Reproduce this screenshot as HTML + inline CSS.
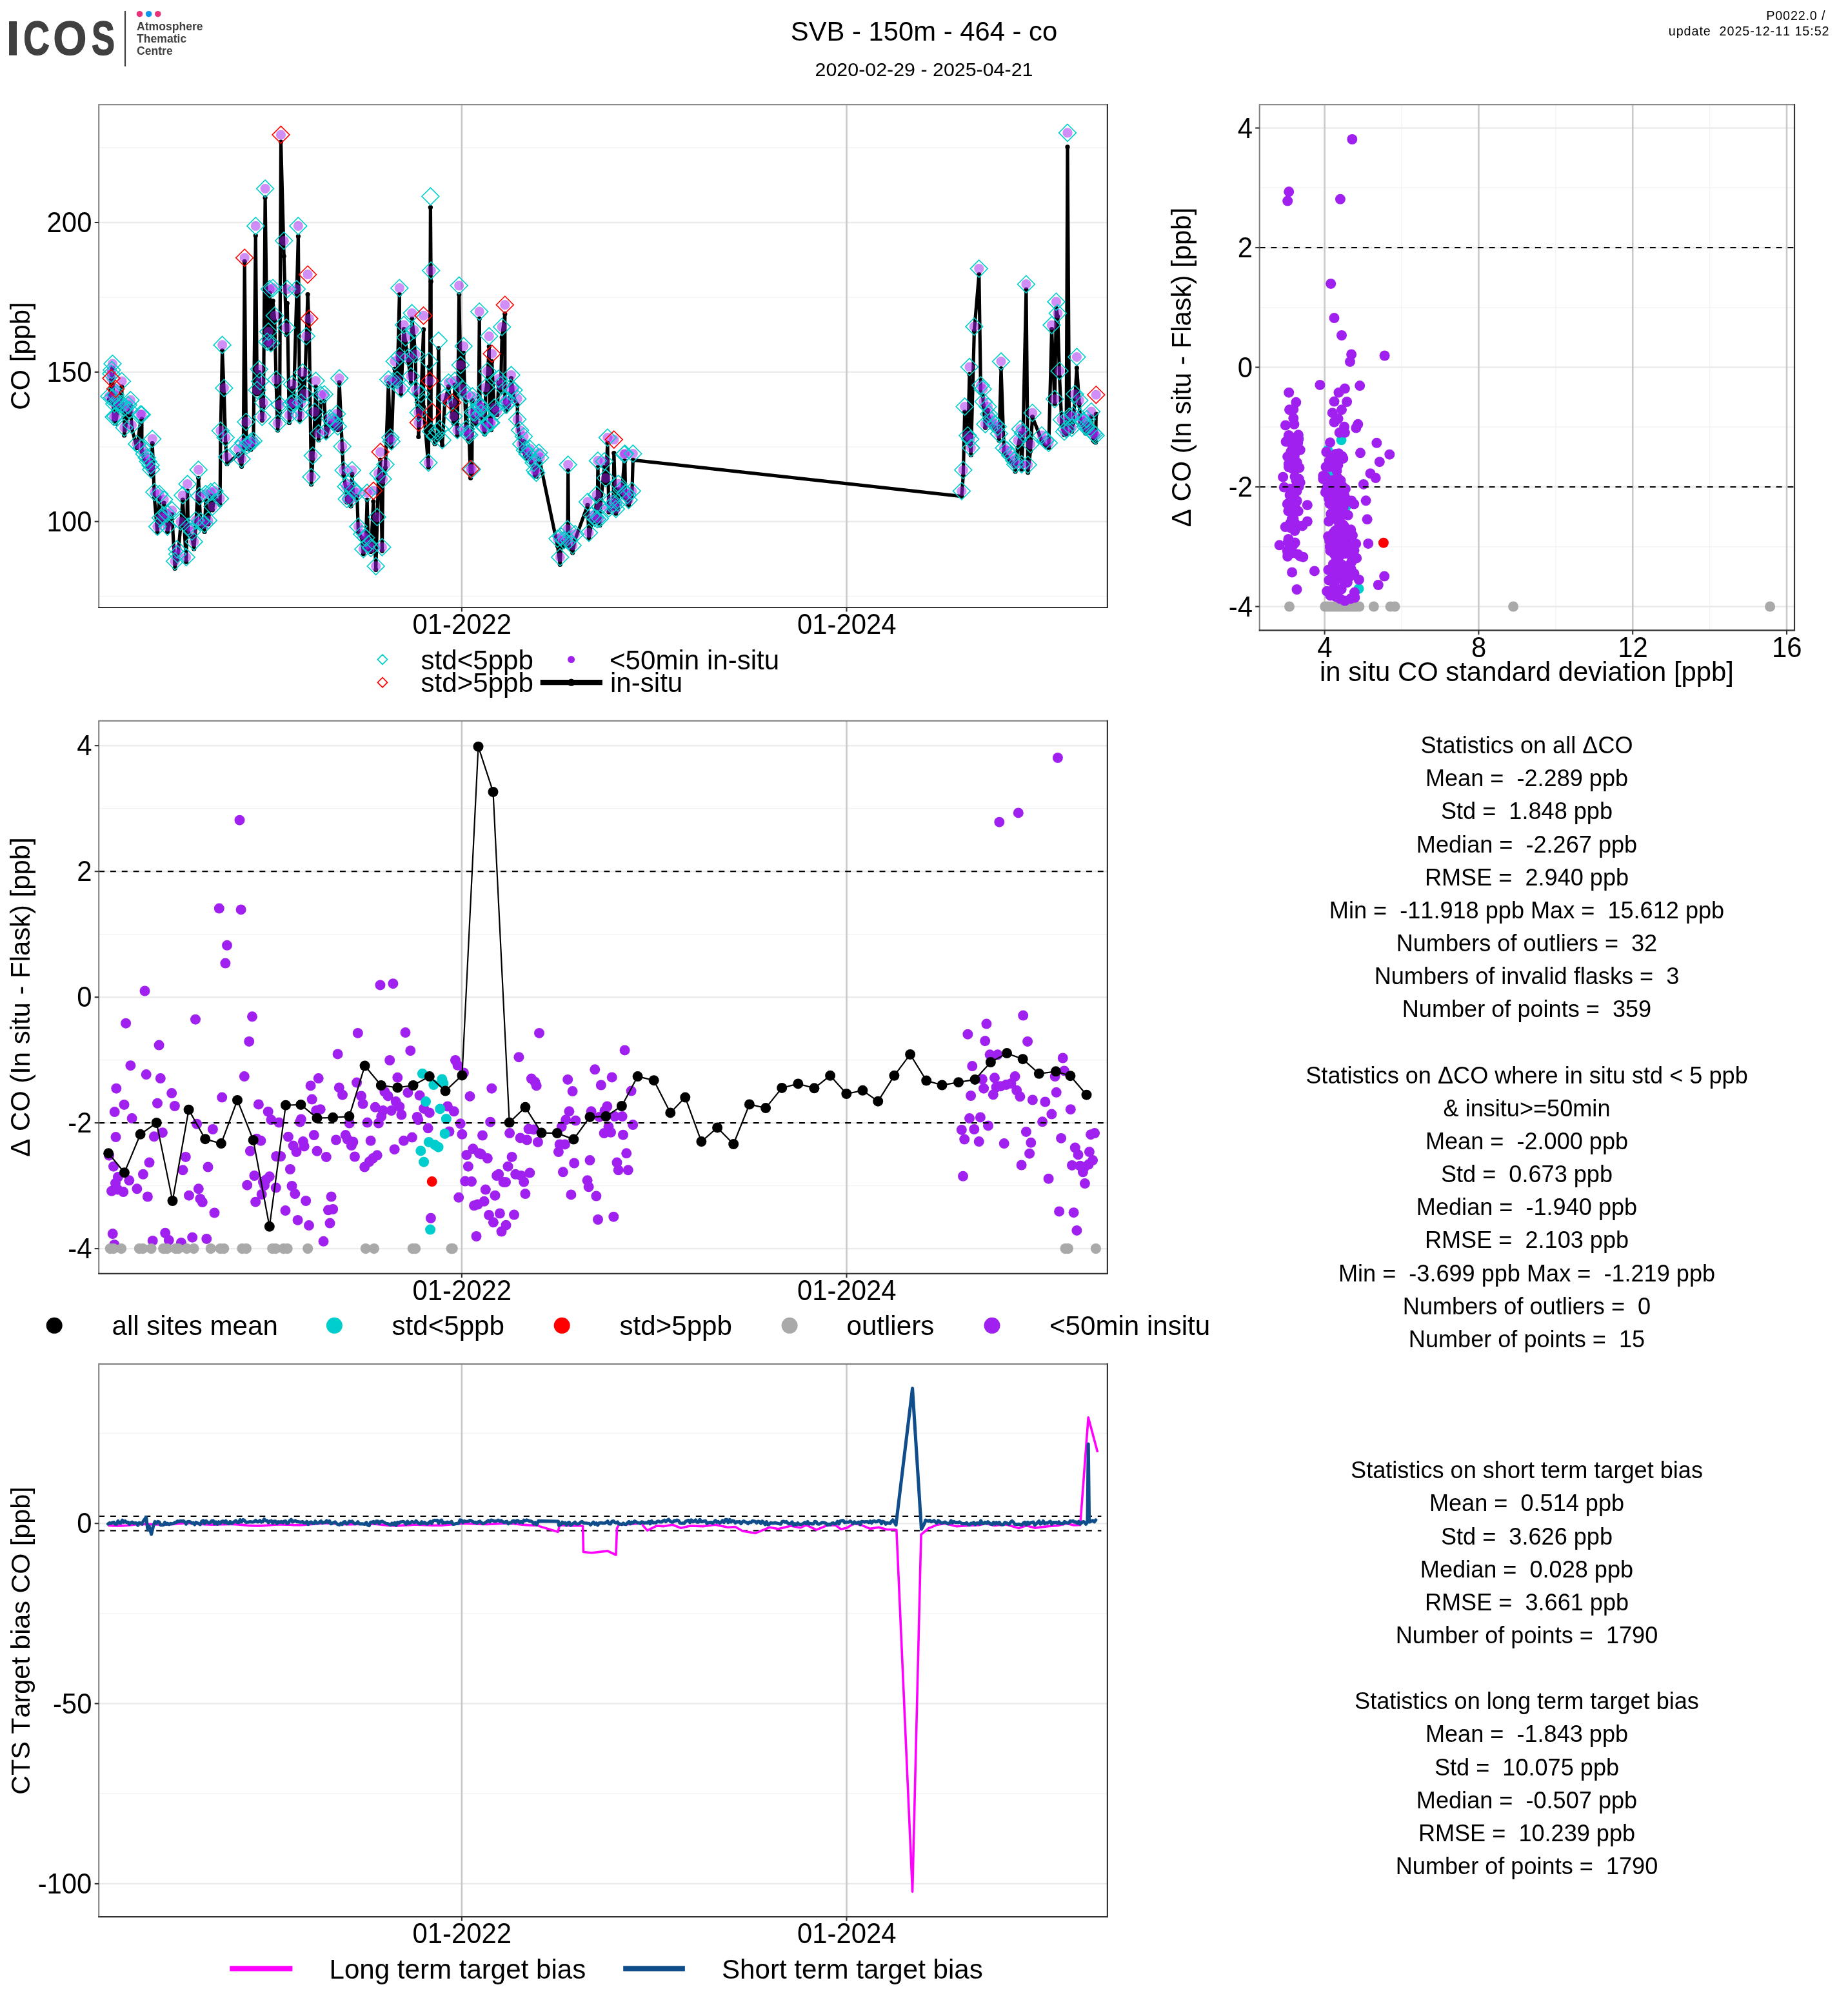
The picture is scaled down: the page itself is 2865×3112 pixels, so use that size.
<!DOCTYPE html>
<html><head><meta charset="utf-8"><title>SVB - 150m - 464 - co</title>
<style>html,body{margin:0;padding:0;background:#fff}svg{display:block;will-change:transform}text{font-kerning:none}</style></head>
<body>
<svg width="2865" height="3112" viewBox="0 0 2865 3112" font-family="Liberation Sans, sans-serif">
<rect width="2865" height="3112" fill="#fff"/>
<g id="logo">
<text transform="translate(10.04,85.2) scale(0.977,1)" font-size="74" font-weight="bold" fill="#404041" stroke="#404041" stroke-width="1.6">I</text>
<text transform="translate(36.2,85.2) scale(0.759,1)" font-size="74" font-weight="bold" fill="#404041" stroke="#404041" stroke-width="1.6">C</text>
<text transform="translate(82.4,85.2) scale(0.899,1)" font-size="74" font-weight="bold" fill="#404041" stroke="#404041" stroke-width="1.6">O</text>
<text transform="translate(141.9,85.2) scale(0.731,1)" font-size="74" font-weight="bold" fill="#404041" stroke="#404041" stroke-width="1.6">S</text>
<line x1="194.0" y1="17.0" x2="194.0" y2="103.0" stroke="#404041" stroke-width="2.2" />
<circle cx="216.5" cy="21.7" r="4.8" fill="#e6317b"/>
<circle cx="230.6" cy="21.7" r="4.8" fill="#0a96f0"/>
<circle cx="244.8" cy="21.7" r="4.8" fill="#e6317b"/>
<text x="212" y="47.3" font-size="17.6" font-weight="bold" fill="#404041">Atmosphere</text>
<text x="212" y="66.3" font-size="17.6" font-weight="bold" fill="#404041">Thematic</text>
<text x="212" y="85.3" font-size="17.6" font-weight="bold" fill="#404041">Centre</text>
</g>
<text x="1432.5" y="62.5" font-size="41.8" text-anchor="middle" fill="#000" >SVB - 150m - 464 - co</text>
<text x="1432.5" y="118.0" font-size="30.4" text-anchor="middle" fill="#000" >2020-02-29 - 2025-04-21</text>
<text x="2836.5" y="31.0" font-size="19.8" text-anchor="end" fill="#000" xml:space="preserve" letter-spacing="0.8">P0022.0 / </text>
<text x="2836.5" y="54.8" font-size="19.8" text-anchor="end" fill="#000" xml:space="preserve" letter-spacing="0.92">update  2025-12-11 15:52</text>
<line x1="153.2" y1="924.6" x2="1716.9" y2="924.6" stroke="#f2f2f2" stroke-width="1.3" />
<line x1="153.2" y1="692.8" x2="1716.9" y2="692.8" stroke="#f2f2f2" stroke-width="1.3" />
<line x1="153.2" y1="460.9" x2="1716.9" y2="460.9" stroke="#f2f2f2" stroke-width="1.3" />
<line x1="153.2" y1="229.1" x2="1716.9" y2="229.1" stroke="#f2f2f2" stroke-width="1.3" />
<line x1="153.2" y1="808.7" x2="1716.9" y2="808.7" stroke="#ebebeb" stroke-width="2.4" />
<line x1="153.2" y1="576.9" x2="1716.9" y2="576.9" stroke="#ebebeb" stroke-width="2.4" />
<line x1="153.2" y1="345.0" x2="1716.9" y2="345.0" stroke="#ebebeb" stroke-width="2.4" />
<line x1="715.9" y1="162.2" x2="715.9" y2="942.0" stroke="#c9c9c9" stroke-width="2.6" />
<line x1="1312.5" y1="162.2" x2="1312.5" y2="942.0" stroke="#c9c9c9" stroke-width="2.6" />
<g id="p1data">
<path d="M169.4,619.8 L172.5,589.1 L172.5,604.1 L173.3,579.8 L174.1,624.5 L174.5,571.3 L176.4,652.3 L177.2,631.8 L179.1,613.7 L179.1,618.1 L179.1,656.4 L183.0,632.2 L188.9,599.8 L188.9,632.8 L192.7,641.4 L192.7,674.9 L198.6,639.8 L200.5,643.7 L202.4,629.4 L204.4,664.5 L212.2,694.4 L218.0,653.5 L219.9,649.9 L219.9,700.0 L223.8,714.6 L227.7,716.0 L229.6,724.6 L233.5,730.9 L234.3,735.6 L236.2,687.7 L239.4,771.8 L244.0,825.7 L247.1,771.5 L249.1,810.2 L253.0,807.1 L254.1,780.0 L258.8,806.1 L259.6,824.7 L266.6,797.8 L271.2,881.3 L274.3,861.9 L275.1,868.3 L280.1,815.5 L283.3,775.1 L288.7,871.2 L290.6,761.1 L291.8,825.6 L297.6,833.0 L300.7,851.0 L303.5,817.0 L307.7,741.4 L309.3,777.1 L311.2,815.8 L317.1,824.5 L319.0,776.4 L322.9,812.7 L326.8,769.0 L329.5,790.8 L332.6,769.8 L341.1,782.7 L341.9,676.8 L344.6,543.9 L347.4,610.9 L349.7,686.8 L352.0,719.4 L369.5,704.4 L374.6,723.3 L377.3,696.1 L379.2,405.7 L381.5,664.9 L383.1,695.7 L387.0,697.5 L388.9,697.2 L392.8,693.2 L396.3,365.4 L398.6,611.0 L401.7,577.7 L403.3,599.5 L406.4,651.8 L408.4,630.1 L411.1,306.5 L414.2,535.4 L416.1,525.4 L418.1,454.2 L420.0,540.3 L423.1,466.7 L425.8,497.2 L428.2,597.4 L430.5,667.2 L433.6,638.5 L435.5,220.0 L440.2,397.3 L444.1,519.3 L445.3,470.3 L448.4,655.4 L451.1,632.8 L453.0,602.0 L455.0,630.5 L460.0,454.9 L462.4,366.4 L464.7,651.6 L466.6,629.3 L469.3,586.8 L471.7,617.5 L474.8,529.9 L477.1,456.7 L479.4,511.1 L482.6,750.9 L484.9,712.0 L488.0,648.4 L489.5,599.8 L493.8,682.5 L497.7,623.7 L502.8,622.0 L505.5,676.7 L511.3,656.5 L515.2,659.1 L519.1,664.8 L522.2,647.2 L523.7,666.6 L526.1,593.0 L530.7,698.4 L532.7,736.5 L536.6,759.8 L537.7,778.8 L540.0,756.2 L543.9,785.0 L545.8,735.2 L547.8,767.8 L553.6,769.3 L555.5,825.9 L561.4,834.3 L563.3,859.0 L567.2,840.8 L569.1,775.1 L571.1,851.3 L575.0,855.4 L578.9,777.5 L582.7,883.5 L584.7,810.2 L586.6,741.6 L589.7,713.1 L592.4,854.1 L593.6,749.6 L597.5,725.4 L602.2,594.5 L605.3,690.3 L606.8,693.2 L609.9,600.0 L611.9,572.0 L615.8,594.5 L619.3,456.6 L619.6,563.4 L621.6,611.6 L626.2,510.7 L628.6,530.8 L633.2,560.5 L637.1,593.9 L638.7,494.3 L641.8,522.0 L644.1,556.6 L644.9,611.4 L648.8,650.5 L648.8,677.3 L652.7,620.8 L656.6,510.9 L656.6,630.8 L664.3,724.3 L665.1,568.8 L666.3,600.9 L667.4,321.5 L668.2,436.5 L668.2,677.1 L670.1,662.0 L674.0,688.3 L677.9,680.9 L679.9,540.3 L681.8,676.7 L685.7,690.1 L689.6,623.1 L695.4,599.6 L701.2,646.9 L703.2,656.5 L705.1,596.9 L709.0,675.3 L711.7,456.8 L714.0,571.6 L716.8,612.5 L718.7,547.4 L722.6,675.0 L722.6,624.0 L725.7,683.3 L727.4,685.3 L729.6,741.2 L731.6,733.2 L732.3,620.8 L733.0,649.0 L736.2,650.3 L738.1,656.8 L742.0,638.0 L743.2,494.2 L744.2,639.7 L745.6,646.1 L745.9,639.8 L751.2,673.0 L751.7,673.2 L752.9,608.8 L755.6,587.3 L758.3,537.3 L759.5,661.3 L761.4,666.7 L762.6,560.6 L766.5,642.7 L770.7,643.1 L773.1,593.4 L776.2,607.8 L778.2,522.9 L782.8,486.7 L782.8,629.2 L784.6,637.7 L788.6,628.2 L791.6,609.4 L792.5,586.6 L796.4,616.6 L802.2,628.0 L802.2,659.0 L806.1,678.5 L808.1,699.5 L812.0,684.7 L813.9,708.9 L817.8,710.4 L821.7,702.9 L823.6,716.8 L827.5,724.2 L829.4,737.1 L831.4,739.0 L835.3,711.1 L837.2,716.5 L864.4,846.6 L868.3,875.3 L870.2,839.6 L874.1,846.1 L879.9,829.5 L880.7,729.6 L881.9,845.9 L887.7,857.1 L891.6,836.7 L911.0,783.4 L913.0,834.7 L917.9,807.2 L921.9,809.4 L924.9,773.5 L925.9,810.2 L926.9,724.5 L929.9,814.7 L929.9,794.5 L936.9,724.3 L938.9,748.6 L941.9,687.2 L943.9,793.9 L947.8,784.2 L950.8,788.0 L951.8,702.5 L954.8,796.1 L957.8,789.6 L958.8,758.9 L963.8,768.2 L967.8,714.8 L968.8,714.9 L969.8,772.4 L972.8,776.5 L974.7,783.8 L979.7,769.9 L981.3,713.3 L1490.9,769.6 L1493.3,737.6 L1495.6,638.8 L1500.3,686.8 L1503.0,580.6 L1504.2,690.9 L1505.3,705.7 L1510.4,513.2 L1517.8,425.5 L1520.5,609.0 L1523.6,614.1 L1524.8,628.6 L1527.5,663.2 L1531.4,636.3 L1533.3,650.2 L1537.2,658.5 L1541.9,663.2 L1546.9,671.2 L1548.9,682.9 L1552.0,571.7 L1556.6,700.7 L1561.3,708.5 L1566.4,715.9 L1572.2,720.0 L1574.1,731.1 L1578.0,694.7 L1581.9,672.0 L1583.9,727.7 L1585.8,682.9 L1590.9,449.1 L1593.6,732.6 L1597.5,699.6 L1600.6,646.3 L1615.0,683.2 L1620.8,691.5 L1625.8,694.2 L1630.5,510.5 L1635.2,626.0 L1637.5,478.0 L1639.8,491.0 L1642.6,584.1 L1646.1,658.8 L1650.0,674.5 L1653.1,672.8 L1655.0,227.9 L1657.7,654.6 L1661.6,668.9 L1663.6,656.0 L1666.3,621.5 L1669.4,570.5 L1673.3,626.5 L1675.2,654.8 L1679.1,659.1 L1683.0,672.0 L1684.9,656.8 L1688.8,671.4 L1691.9,646.2 L1694.7,682.7 L1696.6,684.7 L1698.6,685.9 L1699.3,642.2" fill="none" stroke="#000" stroke-width="5.2" stroke-linejoin="round" stroke-linecap="round"/>
<g fill="#000">
<circle cx="169.4" cy="619.8" r="3.6"/>
<circle cx="172.5" cy="589.1" r="3.6"/>
<circle cx="172.5" cy="604.1" r="3.6"/>
<circle cx="173.3" cy="579.8" r="3.6"/>
<circle cx="174.1" cy="624.5" r="3.6"/>
<circle cx="174.5" cy="571.3" r="3.6"/>
<circle cx="176.4" cy="652.3" r="3.6"/>
<circle cx="177.2" cy="631.8" r="3.6"/>
<circle cx="179.1" cy="613.7" r="3.6"/>
<circle cx="179.1" cy="618.1" r="3.6"/>
<circle cx="179.1" cy="656.4" r="3.6"/>
<circle cx="183.0" cy="632.2" r="3.6"/>
<circle cx="188.9" cy="599.8" r="3.6"/>
<circle cx="188.9" cy="632.8" r="3.6"/>
<circle cx="192.7" cy="641.4" r="3.6"/>
<circle cx="192.7" cy="674.9" r="3.6"/>
<circle cx="198.6" cy="639.8" r="3.6"/>
<circle cx="200.5" cy="643.7" r="3.6"/>
<circle cx="202.4" cy="629.4" r="3.6"/>
<circle cx="204.4" cy="664.5" r="3.6"/>
<circle cx="212.2" cy="694.4" r="3.6"/>
<circle cx="218.0" cy="653.5" r="3.6"/>
<circle cx="219.9" cy="649.9" r="3.6"/>
<circle cx="219.9" cy="700.0" r="3.6"/>
<circle cx="223.8" cy="714.6" r="3.6"/>
<circle cx="227.7" cy="716.0" r="3.6"/>
<circle cx="229.6" cy="724.6" r="3.6"/>
<circle cx="233.5" cy="730.9" r="3.6"/>
<circle cx="234.3" cy="735.6" r="3.6"/>
<circle cx="236.2" cy="687.7" r="3.6"/>
<circle cx="239.4" cy="771.8" r="3.6"/>
<circle cx="244.0" cy="825.7" r="3.6"/>
<circle cx="247.1" cy="771.5" r="3.6"/>
<circle cx="249.1" cy="810.2" r="3.6"/>
<circle cx="253.0" cy="807.1" r="3.6"/>
<circle cx="254.1" cy="780.0" r="3.6"/>
<circle cx="258.8" cy="806.1" r="3.6"/>
<circle cx="259.6" cy="824.7" r="3.6"/>
<circle cx="266.6" cy="797.8" r="3.6"/>
<circle cx="271.2" cy="881.3" r="3.6"/>
<circle cx="274.3" cy="861.9" r="3.6"/>
<circle cx="275.1" cy="868.3" r="3.6"/>
<circle cx="280.1" cy="815.5" r="3.6"/>
<circle cx="283.3" cy="775.1" r="3.6"/>
<circle cx="288.7" cy="871.2" r="3.6"/>
<circle cx="290.6" cy="761.1" r="3.6"/>
<circle cx="291.8" cy="825.6" r="3.6"/>
<circle cx="297.6" cy="833.0" r="3.6"/>
<circle cx="300.7" cy="851.0" r="3.6"/>
<circle cx="303.5" cy="817.0" r="3.6"/>
<circle cx="307.7" cy="741.4" r="3.6"/>
<circle cx="309.3" cy="777.1" r="3.6"/>
<circle cx="311.2" cy="815.8" r="3.6"/>
<circle cx="317.1" cy="824.5" r="3.6"/>
<circle cx="319.0" cy="776.4" r="3.6"/>
<circle cx="322.9" cy="812.7" r="3.6"/>
<circle cx="326.8" cy="769.0" r="3.6"/>
<circle cx="329.5" cy="790.8" r="3.6"/>
<circle cx="332.6" cy="769.8" r="3.6"/>
<circle cx="341.1" cy="782.7" r="3.6"/>
<circle cx="341.9" cy="676.8" r="3.6"/>
<circle cx="344.6" cy="543.9" r="3.6"/>
<circle cx="347.4" cy="610.9" r="3.6"/>
<circle cx="349.7" cy="686.8" r="3.6"/>
<circle cx="352.0" cy="719.4" r="3.6"/>
<circle cx="369.5" cy="704.4" r="3.6"/>
<circle cx="374.6" cy="723.3" r="3.6"/>
<circle cx="377.3" cy="696.1" r="3.6"/>
<circle cx="379.2" cy="405.7" r="3.6"/>
<circle cx="381.5" cy="664.9" r="3.6"/>
<circle cx="383.1" cy="695.7" r="3.6"/>
<circle cx="387.0" cy="697.5" r="3.6"/>
<circle cx="388.9" cy="697.2" r="3.6"/>
<circle cx="392.8" cy="693.2" r="3.6"/>
<circle cx="396.3" cy="365.4" r="3.6"/>
<circle cx="398.6" cy="611.0" r="3.6"/>
<circle cx="401.7" cy="577.7" r="3.6"/>
<circle cx="403.3" cy="599.5" r="3.6"/>
<circle cx="406.4" cy="651.8" r="3.6"/>
<circle cx="408.4" cy="630.1" r="3.6"/>
<circle cx="411.1" cy="306.5" r="3.6"/>
<circle cx="414.2" cy="535.4" r="3.6"/>
<circle cx="416.1" cy="525.4" r="3.6"/>
<circle cx="418.1" cy="454.2" r="3.6"/>
<circle cx="420.0" cy="540.3" r="3.6"/>
<circle cx="423.1" cy="466.7" r="3.6"/>
<circle cx="425.8" cy="497.2" r="3.6"/>
<circle cx="428.2" cy="597.4" r="3.6"/>
<circle cx="430.5" cy="667.2" r="3.6"/>
<circle cx="433.6" cy="638.5" r="3.6"/>
<circle cx="435.5" cy="220.0" r="3.6"/>
<circle cx="440.2" cy="397.3" r="3.6"/>
<circle cx="444.1" cy="519.3" r="3.6"/>
<circle cx="445.3" cy="470.3" r="3.6"/>
<circle cx="448.4" cy="655.4" r="3.6"/>
<circle cx="451.1" cy="632.8" r="3.6"/>
<circle cx="453.0" cy="602.0" r="3.6"/>
<circle cx="455.0" cy="630.5" r="3.6"/>
<circle cx="460.0" cy="454.9" r="3.6"/>
<circle cx="462.4" cy="366.4" r="3.6"/>
<circle cx="464.7" cy="651.6" r="3.6"/>
<circle cx="466.6" cy="629.3" r="3.6"/>
<circle cx="469.3" cy="586.8" r="3.6"/>
<circle cx="471.7" cy="617.5" r="3.6"/>
<circle cx="474.8" cy="529.9" r="3.6"/>
<circle cx="477.1" cy="456.7" r="3.6"/>
<circle cx="479.4" cy="511.1" r="3.6"/>
<circle cx="482.6" cy="750.9" r="3.6"/>
<circle cx="484.9" cy="712.0" r="3.6"/>
<circle cx="488.0" cy="648.4" r="3.6"/>
<circle cx="489.5" cy="599.8" r="3.6"/>
<circle cx="493.8" cy="682.5" r="3.6"/>
<circle cx="497.7" cy="623.7" r="3.6"/>
<circle cx="502.8" cy="622.0" r="3.6"/>
<circle cx="505.5" cy="676.7" r="3.6"/>
<circle cx="511.3" cy="656.5" r="3.6"/>
<circle cx="515.2" cy="659.1" r="3.6"/>
<circle cx="519.1" cy="664.8" r="3.6"/>
<circle cx="522.2" cy="647.2" r="3.6"/>
<circle cx="523.7" cy="666.6" r="3.6"/>
<circle cx="526.1" cy="593.0" r="3.6"/>
<circle cx="530.7" cy="698.4" r="3.6"/>
<circle cx="532.7" cy="736.5" r="3.6"/>
<circle cx="536.6" cy="759.8" r="3.6"/>
<circle cx="537.7" cy="778.8" r="3.6"/>
<circle cx="540.0" cy="756.2" r="3.6"/>
<circle cx="543.9" cy="785.0" r="3.6"/>
<circle cx="545.8" cy="735.2" r="3.6"/>
<circle cx="547.8" cy="767.8" r="3.6"/>
<circle cx="553.6" cy="769.3" r="3.6"/>
<circle cx="555.5" cy="825.9" r="3.6"/>
<circle cx="561.4" cy="834.3" r="3.6"/>
<circle cx="563.3" cy="859.0" r="3.6"/>
<circle cx="567.2" cy="840.8" r="3.6"/>
<circle cx="569.1" cy="775.1" r="3.6"/>
<circle cx="571.1" cy="851.3" r="3.6"/>
<circle cx="575.0" cy="855.4" r="3.6"/>
<circle cx="578.9" cy="777.5" r="3.6"/>
<circle cx="582.7" cy="883.5" r="3.6"/>
<circle cx="584.7" cy="810.2" r="3.6"/>
<circle cx="586.6" cy="741.6" r="3.6"/>
<circle cx="589.7" cy="713.1" r="3.6"/>
<circle cx="592.4" cy="854.1" r="3.6"/>
<circle cx="593.6" cy="749.6" r="3.6"/>
<circle cx="597.5" cy="725.4" r="3.6"/>
<circle cx="602.2" cy="594.5" r="3.6"/>
<circle cx="605.3" cy="690.3" r="3.6"/>
<circle cx="606.8" cy="693.2" r="3.6"/>
<circle cx="609.9" cy="600.0" r="3.6"/>
<circle cx="611.9" cy="572.0" r="3.6"/>
<circle cx="615.8" cy="594.5" r="3.6"/>
<circle cx="619.3" cy="456.6" r="3.6"/>
<circle cx="619.6" cy="563.4" r="3.6"/>
<circle cx="621.6" cy="611.6" r="3.6"/>
<circle cx="626.2" cy="510.7" r="3.6"/>
<circle cx="628.6" cy="530.8" r="3.6"/>
<circle cx="633.2" cy="560.5" r="3.6"/>
<circle cx="637.1" cy="593.9" r="3.6"/>
<circle cx="638.7" cy="494.3" r="3.6"/>
<circle cx="641.8" cy="522.0" r="3.6"/>
<circle cx="644.1" cy="556.6" r="3.6"/>
<circle cx="644.9" cy="611.4" r="3.6"/>
<circle cx="648.8" cy="650.5" r="3.6"/>
<circle cx="648.8" cy="677.3" r="3.6"/>
<circle cx="652.7" cy="620.8" r="3.6"/>
<circle cx="656.6" cy="510.9" r="3.6"/>
<circle cx="656.6" cy="630.8" r="3.6"/>
<circle cx="664.3" cy="724.3" r="3.6"/>
<circle cx="665.1" cy="568.8" r="3.6"/>
<circle cx="666.3" cy="600.9" r="3.6"/>
<circle cx="667.4" cy="321.5" r="3.6"/>
<circle cx="668.2" cy="436.5" r="3.6"/>
<circle cx="668.2" cy="677.1" r="3.6"/>
<circle cx="670.1" cy="662.0" r="3.6"/>
<circle cx="674.0" cy="688.3" r="3.6"/>
<circle cx="677.9" cy="680.9" r="3.6"/>
<circle cx="679.9" cy="540.3" r="3.6"/>
<circle cx="681.8" cy="676.7" r="3.6"/>
<circle cx="685.7" cy="690.1" r="3.6"/>
<circle cx="689.6" cy="623.1" r="3.6"/>
<circle cx="695.4" cy="599.6" r="3.6"/>
<circle cx="701.2" cy="646.9" r="3.6"/>
<circle cx="703.2" cy="656.5" r="3.6"/>
<circle cx="705.1" cy="596.9" r="3.6"/>
<circle cx="709.0" cy="675.3" r="3.6"/>
<circle cx="711.7" cy="456.8" r="3.6"/>
<circle cx="714.0" cy="571.6" r="3.6"/>
<circle cx="716.8" cy="612.5" r="3.6"/>
<circle cx="718.7" cy="547.4" r="3.6"/>
<circle cx="722.6" cy="675.0" r="3.6"/>
<circle cx="722.6" cy="624.0" r="3.6"/>
<circle cx="725.7" cy="683.3" r="3.6"/>
<circle cx="727.4" cy="685.3" r="3.6"/>
<circle cx="729.6" cy="741.2" r="3.6"/>
<circle cx="731.6" cy="733.2" r="3.6"/>
<circle cx="732.3" cy="620.8" r="3.6"/>
<circle cx="733.0" cy="649.0" r="3.6"/>
<circle cx="736.2" cy="650.3" r="3.6"/>
<circle cx="738.1" cy="656.8" r="3.6"/>
<circle cx="742.0" cy="638.0" r="3.6"/>
<circle cx="743.2" cy="494.2" r="3.6"/>
<circle cx="744.2" cy="639.7" r="3.6"/>
<circle cx="745.6" cy="646.1" r="3.6"/>
<circle cx="745.9" cy="639.8" r="3.6"/>
<circle cx="751.2" cy="673.0" r="3.6"/>
<circle cx="751.7" cy="673.2" r="3.6"/>
<circle cx="752.9" cy="608.8" r="3.6"/>
<circle cx="755.6" cy="587.3" r="3.6"/>
<circle cx="758.3" cy="537.3" r="3.6"/>
<circle cx="759.5" cy="661.3" r="3.6"/>
<circle cx="761.4" cy="666.7" r="3.6"/>
<circle cx="762.6" cy="560.6" r="3.6"/>
<circle cx="766.5" cy="642.7" r="3.6"/>
<circle cx="770.7" cy="643.1" r="3.6"/>
<circle cx="773.1" cy="593.4" r="3.6"/>
<circle cx="776.2" cy="607.8" r="3.6"/>
<circle cx="778.2" cy="522.9" r="3.6"/>
<circle cx="782.8" cy="486.7" r="3.6"/>
<circle cx="782.8" cy="629.2" r="3.6"/>
<circle cx="784.6" cy="637.7" r="3.6"/>
<circle cx="788.6" cy="628.2" r="3.6"/>
<circle cx="791.6" cy="609.4" r="3.6"/>
<circle cx="792.5" cy="586.6" r="3.6"/>
<circle cx="796.4" cy="616.6" r="3.6"/>
<circle cx="802.2" cy="628.0" r="3.6"/>
<circle cx="802.2" cy="659.0" r="3.6"/>
<circle cx="806.1" cy="678.5" r="3.6"/>
<circle cx="808.1" cy="699.5" r="3.6"/>
<circle cx="812.0" cy="684.7" r="3.6"/>
<circle cx="813.9" cy="708.9" r="3.6"/>
<circle cx="817.8" cy="710.4" r="3.6"/>
<circle cx="821.7" cy="702.9" r="3.6"/>
<circle cx="823.6" cy="716.8" r="3.6"/>
<circle cx="827.5" cy="724.2" r="3.6"/>
<circle cx="829.4" cy="737.1" r="3.6"/>
<circle cx="831.4" cy="739.0" r="3.6"/>
<circle cx="835.3" cy="711.1" r="3.6"/>
<circle cx="837.2" cy="716.5" r="3.6"/>
<circle cx="864.4" cy="846.6" r="3.6"/>
<circle cx="868.3" cy="875.3" r="3.6"/>
<circle cx="870.2" cy="839.6" r="3.6"/>
<circle cx="874.1" cy="846.1" r="3.6"/>
<circle cx="879.9" cy="829.5" r="3.6"/>
<circle cx="880.7" cy="729.6" r="3.6"/>
<circle cx="881.9" cy="845.9" r="3.6"/>
<circle cx="887.7" cy="857.1" r="3.6"/>
<circle cx="891.6" cy="836.7" r="3.6"/>
<circle cx="911.0" cy="783.4" r="3.6"/>
<circle cx="913.0" cy="834.7" r="3.6"/>
<circle cx="917.9" cy="807.2" r="3.6"/>
<circle cx="921.9" cy="809.4" r="3.6"/>
<circle cx="924.9" cy="773.5" r="3.6"/>
<circle cx="925.9" cy="810.2" r="3.6"/>
<circle cx="926.9" cy="724.5" r="3.6"/>
<circle cx="929.9" cy="814.7" r="3.6"/>
<circle cx="929.9" cy="794.5" r="3.6"/>
<circle cx="936.9" cy="724.3" r="3.6"/>
<circle cx="938.9" cy="748.6" r="3.6"/>
<circle cx="941.9" cy="687.2" r="3.6"/>
<circle cx="943.9" cy="793.9" r="3.6"/>
<circle cx="947.8" cy="784.2" r="3.6"/>
<circle cx="950.8" cy="788.0" r="3.6"/>
<circle cx="951.8" cy="702.5" r="3.6"/>
<circle cx="954.8" cy="796.1" r="3.6"/>
<circle cx="957.8" cy="789.6" r="3.6"/>
<circle cx="958.8" cy="758.9" r="3.6"/>
<circle cx="963.8" cy="768.2" r="3.6"/>
<circle cx="967.8" cy="714.8" r="3.6"/>
<circle cx="968.8" cy="714.9" r="3.6"/>
<circle cx="969.8" cy="772.4" r="3.6"/>
<circle cx="972.8" cy="776.5" r="3.6"/>
<circle cx="974.7" cy="783.8" r="3.6"/>
<circle cx="979.7" cy="769.9" r="3.6"/>
<circle cx="981.3" cy="713.3" r="3.6"/>
<circle cx="1490.9" cy="769.6" r="3.6"/>
<circle cx="1493.3" cy="737.6" r="3.6"/>
<circle cx="1495.6" cy="638.8" r="3.6"/>
<circle cx="1500.3" cy="686.8" r="3.6"/>
<circle cx="1503.0" cy="580.6" r="3.6"/>
<circle cx="1504.2" cy="690.9" r="3.6"/>
<circle cx="1505.3" cy="705.7" r="3.6"/>
<circle cx="1510.4" cy="513.2" r="3.6"/>
<circle cx="1517.8" cy="425.5" r="3.6"/>
<circle cx="1520.5" cy="609.0" r="3.6"/>
<circle cx="1523.6" cy="614.1" r="3.6"/>
<circle cx="1524.8" cy="628.6" r="3.6"/>
<circle cx="1527.5" cy="663.2" r="3.6"/>
<circle cx="1531.4" cy="636.3" r="3.6"/>
<circle cx="1533.3" cy="650.2" r="3.6"/>
<circle cx="1537.2" cy="658.5" r="3.6"/>
<circle cx="1541.9" cy="663.2" r="3.6"/>
<circle cx="1546.9" cy="671.2" r="3.6"/>
<circle cx="1548.9" cy="682.9" r="3.6"/>
<circle cx="1552.0" cy="571.7" r="3.6"/>
<circle cx="1556.6" cy="700.7" r="3.6"/>
<circle cx="1561.3" cy="708.5" r="3.6"/>
<circle cx="1566.4" cy="715.9" r="3.6"/>
<circle cx="1572.2" cy="720.0" r="3.6"/>
<circle cx="1574.1" cy="731.1" r="3.6"/>
<circle cx="1578.0" cy="694.7" r="3.6"/>
<circle cx="1581.9" cy="672.0" r="3.6"/>
<circle cx="1583.9" cy="727.7" r="3.6"/>
<circle cx="1585.8" cy="682.9" r="3.6"/>
<circle cx="1590.9" cy="449.1" r="3.6"/>
<circle cx="1593.6" cy="732.6" r="3.6"/>
<circle cx="1597.5" cy="699.6" r="3.6"/>
<circle cx="1600.6" cy="646.3" r="3.6"/>
<circle cx="1615.0" cy="683.2" r="3.6"/>
<circle cx="1620.8" cy="691.5" r="3.6"/>
<circle cx="1625.8" cy="694.2" r="3.6"/>
<circle cx="1630.5" cy="510.5" r="3.6"/>
<circle cx="1635.2" cy="626.0" r="3.6"/>
<circle cx="1637.5" cy="478.0" r="3.6"/>
<circle cx="1639.8" cy="491.0" r="3.6"/>
<circle cx="1642.6" cy="584.1" r="3.6"/>
<circle cx="1646.1" cy="658.8" r="3.6"/>
<circle cx="1650.0" cy="674.5" r="3.6"/>
<circle cx="1653.1" cy="672.8" r="3.6"/>
<circle cx="1655.0" cy="227.9" r="3.6"/>
<circle cx="1657.7" cy="654.6" r="3.6"/>
<circle cx="1661.6" cy="668.9" r="3.6"/>
<circle cx="1663.6" cy="656.0" r="3.6"/>
<circle cx="1666.3" cy="621.5" r="3.6"/>
<circle cx="1669.4" cy="570.5" r="3.6"/>
<circle cx="1673.3" cy="626.5" r="3.6"/>
<circle cx="1675.2" cy="654.8" r="3.6"/>
<circle cx="1679.1" cy="659.1" r="3.6"/>
<circle cx="1683.0" cy="672.0" r="3.6"/>
<circle cx="1684.9" cy="656.8" r="3.6"/>
<circle cx="1688.8" cy="671.4" r="3.6"/>
<circle cx="1691.9" cy="646.2" r="3.6"/>
<circle cx="1694.7" cy="682.7" r="3.6"/>
<circle cx="1696.6" cy="684.7" r="3.6"/>
<circle cx="1698.6" cy="685.9" r="3.6"/>
<circle cx="1699.3" cy="642.2" r="3.6"/>
</g>
<g fill="#a020f0" fill-opacity="0.5">
<circle cx="174.5" cy="564.0" r="7.6"/>
<circle cx="173.3" cy="573.8" r="7.6"/>
<circle cx="172.5" cy="579.6" r="7.6"/>
<circle cx="172.5" cy="586.6" r="7.6"/>
<circle cx="179.1" cy="602.9" r="7.6"/>
<circle cx="188.9" cy="591.2" r="7.6"/>
<circle cx="169.4" cy="614.5" r="7.6"/>
<circle cx="174.1" cy="616.5" r="7.6"/>
<circle cx="179.1" cy="612.6" r="7.6"/>
<circle cx="177.2" cy="626.2" r="7.6"/>
<circle cx="183.0" cy="624.3" r="7.6"/>
<circle cx="179.1" cy="645.6" r="7.6"/>
<circle cx="176.4" cy="646.4" r="7.6"/>
<circle cx="188.9" cy="626.2" r="7.6"/>
<circle cx="192.7" cy="632.0" r="7.6"/>
<circle cx="198.6" cy="628.1" r="7.6"/>
<circle cx="202.4" cy="620.4" r="7.6"/>
<circle cx="200.5" cy="635.9" r="7.6"/>
<circle cx="192.7" cy="663.1" r="7.6"/>
<circle cx="204.4" cy="659.2" r="7.6"/>
<circle cx="218.0" cy="642.5" r="7.6"/>
<circle cx="219.9" cy="642.9" r="7.6"/>
<circle cx="212.2" cy="688.4" r="7.6"/>
<circle cx="219.9" cy="694.2" r="7.6"/>
<circle cx="236.2" cy="680.6" r="7.6"/>
<circle cx="223.8" cy="703.9" r="7.6"/>
<circle cx="227.7" cy="709.7" r="7.6"/>
<circle cx="229.6" cy="715.6" r="7.6"/>
<circle cx="233.5" cy="721.4" r="7.6"/>
<circle cx="234.3" cy="728.0" r="7.6"/>
<circle cx="239.4" cy="763.0" r="7.6"/>
<circle cx="247.1" cy="766.1" r="7.6"/>
<circle cx="254.1" cy="774.6" r="7.6"/>
<circle cx="266.6" cy="791.3" r="7.6"/>
<circle cx="258.8" cy="796.4" r="7.6"/>
<circle cx="253.0" cy="799.1" r="7.6"/>
<circle cx="249.1" cy="803.0" r="7.6"/>
<circle cx="244.0" cy="816.6" r="7.6"/>
<circle cx="259.6" cy="816.6" r="7.6"/>
<circle cx="283.3" cy="768.0" r="7.6"/>
<circle cx="290.6" cy="750.5" r="7.6"/>
<circle cx="307.7" cy="728.4" r="7.6"/>
<circle cx="280.1" cy="808.8" r="7.6"/>
<circle cx="291.8" cy="816.6" r="7.6"/>
<circle cx="297.6" cy="824.3" r="7.6"/>
<circle cx="300.7" cy="839.9" r="7.6"/>
<circle cx="303.5" cy="806.9" r="7.6"/>
<circle cx="311.2" cy="808.8" r="7.6"/>
<circle cx="317.1" cy="812.7" r="7.6"/>
<circle cx="322.9" cy="806.9" r="7.6"/>
<circle cx="309.3" cy="769.2" r="7.6"/>
<circle cx="319.0" cy="766.1" r="7.6"/>
<circle cx="326.8" cy="763.0" r="7.6"/>
<circle cx="332.6" cy="761.4" r="7.6"/>
<circle cx="329.5" cy="785.5" r="7.6"/>
<circle cx="341.1" cy="773.1" r="7.6"/>
<circle cx="274.3" cy="851.5" r="7.6"/>
<circle cx="275.1" cy="859.3" r="7.6"/>
<circle cx="271.2" cy="870.2" r="7.6"/>
<circle cx="288.7" cy="864.0" r="7.6"/>
<circle cx="344.6" cy="534.9" r="7.6"/>
<circle cx="347.4" cy="601.7" r="7.6"/>
<circle cx="341.9" cy="667.8" r="7.6"/>
<circle cx="349.7" cy="678.6" r="7.6"/>
<circle cx="352.0" cy="708.6" r="7.6"/>
<circle cx="374.6" cy="711.7" r="7.6"/>
<circle cx="369.5" cy="696.1" r="7.6"/>
<circle cx="377.3" cy="686.4" r="7.6"/>
<circle cx="383.1" cy="690.3" r="7.6"/>
<circle cx="387.0" cy="687.6" r="7.6"/>
<circle cx="392.8" cy="683.7" r="7.6"/>
<circle cx="388.9" cy="685.3" r="7.6"/>
<circle cx="381.5" cy="654.2" r="7.6"/>
<circle cx="379.2" cy="399.7" r="7.6"/>
<circle cx="396.3" cy="350.4" r="7.6"/>
<circle cx="401.7" cy="572.6" r="7.6"/>
<circle cx="403.3" cy="591.2" r="7.6"/>
<circle cx="398.6" cy="604.8" r="7.6"/>
<circle cx="408.4" cy="624.3" r="7.6"/>
<circle cx="406.4" cy="646.4" r="7.6"/>
<circle cx="411.1" cy="292.5" r="7.6"/>
<circle cx="418.1" cy="448.3" r="7.6"/>
<circle cx="423.1" cy="446.7" r="7.6"/>
<circle cx="425.8" cy="489.4" r="7.6"/>
<circle cx="416.1" cy="514.3" r="7.6"/>
<circle cx="414.2" cy="529.9" r="7.6"/>
<circle cx="420.0" cy="532.2" r="7.6"/>
<circle cx="428.2" cy="588.5" r="7.6"/>
<circle cx="433.6" cy="627.4" r="7.6"/>
<circle cx="430.5" cy="656.5" r="7.6"/>
<circle cx="435.5" cy="209.0" r="7.6"/>
<circle cx="440.2" cy="373.3" r="7.6"/>
<circle cx="445.3" cy="448.3" r="7.6"/>
<circle cx="444.1" cy="508.1" r="7.6"/>
<circle cx="448.4" cy="643.7" r="7.6"/>
<circle cx="453.0" cy="595.9" r="7.6"/>
<circle cx="455.0" cy="624.3" r="7.6"/>
<circle cx="451.1" cy="626.2" r="7.6"/>
<circle cx="460.0" cy="448.3" r="7.6"/>
<circle cx="462.4" cy="350.4" r="7.6"/>
<circle cx="469.3" cy="577.6" r="7.6"/>
<circle cx="471.7" cy="610.7" r="7.6"/>
<circle cx="466.6" cy="624.3" r="7.6"/>
<circle cx="464.7" cy="643.7" r="7.6"/>
<circle cx="477.1" cy="425.7" r="7.6"/>
<circle cx="479.4" cy="494.1" r="7.6"/>
<circle cx="474.8" cy="521.3" r="7.6"/>
<circle cx="489.5" cy="590.5" r="7.6"/>
<circle cx="488.0" cy="638.6" r="7.6"/>
<circle cx="484.9" cy="706.6" r="7.6"/>
<circle cx="482.6" cy="739.6" r="7.6"/>
<circle cx="493.8" cy="672.0" r="7.6"/>
<circle cx="497.7" cy="612.6" r="7.6"/>
<circle cx="502.8" cy="611.4" r="7.6"/>
<circle cx="505.5" cy="668.9" r="7.6"/>
<circle cx="511.3" cy="648.7" r="7.6"/>
<circle cx="515.2" cy="653.4" r="7.6"/>
<circle cx="519.1" cy="655.3" r="7.6"/>
<circle cx="522.2" cy="641.7" r="7.6"/>
<circle cx="523.7" cy="661.2" r="7.6"/>
<circle cx="526.1" cy="586.6" r="7.6"/>
<circle cx="530.7" cy="692.2" r="7.6"/>
<circle cx="532.7" cy="729.2" r="7.6"/>
<circle cx="536.6" cy="754.4" r="7.6"/>
<circle cx="537.7" cy="773.8" r="7.6"/>
<circle cx="545.8" cy="729.2" r="7.6"/>
<circle cx="540.0" cy="750.5" r="7.6"/>
<circle cx="547.8" cy="760.2" r="7.6"/>
<circle cx="553.6" cy="764.1" r="7.6"/>
<circle cx="543.9" cy="773.8" r="7.6"/>
<circle cx="555.5" cy="816.6" r="7.6"/>
<circle cx="561.4" cy="828.2" r="7.6"/>
<circle cx="567.2" cy="834.0" r="7.6"/>
<circle cx="563.3" cy="851.5" r="7.6"/>
<circle cx="571.1" cy="843.8" r="7.6"/>
<circle cx="575.0" cy="849.6" r="7.6"/>
<circle cx="569.1" cy="764.1" r="7.6"/>
<circle cx="578.9" cy="761.0" r="7.6"/>
<circle cx="584.7" cy="801.8" r="7.6"/>
<circle cx="582.7" cy="877.9" r="7.6"/>
<circle cx="592.4" cy="848.4" r="7.6"/>
<circle cx="586.6" cy="734.2" r="7.6"/>
<circle cx="593.6" cy="742.8" r="7.6"/>
<circle cx="589.7" cy="700.8" r="7.6"/>
<circle cx="597.5" cy="720.2" r="7.6"/>
<circle cx="605.3" cy="678.6" r="7.6"/>
<circle cx="606.8" cy="684.5" r="7.6"/>
<circle cx="602.2" cy="588.5" r="7.6"/>
<circle cx="609.9" cy="591.2" r="7.6"/>
<circle cx="615.8" cy="589.3" r="7.6"/>
<circle cx="621.6" cy="602.9" r="7.6"/>
<circle cx="611.9" cy="560.2" r="7.6"/>
<circle cx="619.6" cy="552.4" r="7.6"/>
<circle cx="619.3" cy="446.7" r="7.6"/>
<circle cx="626.2" cy="503.8" r="7.6"/>
<circle cx="628.6" cy="523.2" r="7.6"/>
<circle cx="633.2" cy="554.3" r="7.6"/>
<circle cx="637.1" cy="583.5" r="7.6"/>
<circle cx="638.7" cy="485.6" r="7.6"/>
<circle cx="641.8" cy="511.6" r="7.6"/>
<circle cx="644.1" cy="549.3" r="7.6"/>
<circle cx="644.9" cy="604.8" r="7.6"/>
<circle cx="648.8" cy="639.8" r="7.6"/>
<circle cx="648.8" cy="655.3" r="7.6"/>
<circle cx="656.6" cy="489.4" r="7.6"/>
<circle cx="666.3" cy="590.5" r="7.6"/>
<circle cx="668.2" cy="419.5" r="7.6"/>
<circle cx="664.3" cy="717.5" r="7.6"/>
<circle cx="689.6" cy="616.5" r="7.6"/>
<circle cx="695.4" cy="593.2" r="7.6"/>
<circle cx="705.1" cy="590.5" r="7.6"/>
<circle cx="701.2" cy="624.3" r="7.6"/>
<circle cx="703.2" cy="645.6" r="7.6"/>
<circle cx="709.0" cy="667.0" r="7.6"/>
<circle cx="711.7" cy="442.8" r="7.6"/>
<circle cx="718.7" cy="536.8" r="7.6"/>
<circle cx="714.0" cy="566.0" r="7.6"/>
<circle cx="716.8" cy="602.9" r="7.6"/>
<circle cx="722.6" cy="612.6" r="7.6"/>
<circle cx="725.7" cy="672.8" r="7.6"/>
<circle cx="729.6" cy="727.2" r="7.6"/>
<circle cx="732.3" cy="614.5" r="7.6"/>
<circle cx="736.2" cy="639.8" r="7.6"/>
<circle cx="738.1" cy="649.5" r="7.6"/>
<circle cx="743.2" cy="483.2" r="7.6"/>
<circle cx="742.0" cy="626.2" r="7.6"/>
<circle cx="745.9" cy="632.0" r="7.6"/>
<circle cx="752.9" cy="600.9" r="7.6"/>
<circle cx="755.6" cy="575.7" r="7.6"/>
<circle cx="751.7" cy="663.1" r="7.6"/>
<circle cx="758.3" cy="521.3" r="7.6"/>
<circle cx="762.6" cy="548.5" r="7.6"/>
<circle cx="761.4" cy="655.3" r="7.6"/>
<circle cx="766.5" cy="632.0" r="7.6"/>
<circle cx="773.1" cy="587.4" r="7.6"/>
<circle cx="776.2" cy="597.1" r="7.6"/>
<circle cx="778.2" cy="506.9" r="7.6"/>
<circle cx="782.8" cy="472.7" r="7.6"/>
<circle cx="782.8" cy="620.4" r="7.6"/>
<circle cx="788.6" cy="622.3" r="7.6"/>
<circle cx="792.5" cy="581.5" r="7.6"/>
<circle cx="796.4" cy="604.8" r="7.6"/>
<circle cx="802.2" cy="618.4" r="7.6"/>
<circle cx="802.2" cy="650.3" r="7.6"/>
<circle cx="806.1" cy="667.0" r="7.6"/>
<circle cx="812.0" cy="676.7" r="7.6"/>
<circle cx="808.1" cy="688.4" r="7.6"/>
<circle cx="813.9" cy="698.1" r="7.6"/>
<circle cx="817.8" cy="703.9" r="7.6"/>
<circle cx="821.7" cy="696.1" r="7.6"/>
<circle cx="823.6" cy="709.7" r="7.6"/>
<circle cx="827.5" cy="717.5" r="7.6"/>
<circle cx="835.3" cy="702.0" r="7.6"/>
<circle cx="837.2" cy="709.7" r="7.6"/>
<circle cx="829.4" cy="729.2" r="7.6"/>
<circle cx="831.4" cy="733.0" r="7.6"/>
<circle cx="864.4" cy="835.2" r="7.6"/>
<circle cx="870.2" cy="832.1" r="7.6"/>
<circle cx="874.1" cy="837.9" r="7.6"/>
<circle cx="879.9" cy="820.5" r="7.6"/>
<circle cx="868.3" cy="864.0" r="7.6"/>
<circle cx="881.9" cy="837.9" r="7.6"/>
<circle cx="887.7" cy="845.7" r="7.6"/>
<circle cx="891.6" cy="828.2" r="7.6"/>
<circle cx="880.7" cy="720.6" r="7.6"/>
<circle cx="913.0" cy="826.1" r="7.6"/>
<circle cx="911.0" cy="778.2" r="7.6"/>
<circle cx="917.9" cy="799.2" r="7.6"/>
<circle cx="921.9" cy="803.1" r="7.6"/>
<circle cx="925.9" cy="805.1" r="7.6"/>
<circle cx="929.9" cy="804.1" r="7.6"/>
<circle cx="924.9" cy="767.3" r="7.6"/>
<circle cx="929.9" cy="786.2" r="7.6"/>
<circle cx="926.9" cy="714.4" r="7.6"/>
<circle cx="936.9" cy="715.4" r="7.6"/>
<circle cx="938.9" cy="741.3" r="7.6"/>
<circle cx="941.9" cy="678.6" r="7.6"/>
<circle cx="951.8" cy="681.6" r="7.6"/>
<circle cx="943.9" cy="788.2" r="7.6"/>
<circle cx="947.8" cy="775.2" r="7.6"/>
<circle cx="950.8" cy="781.2" r="7.6"/>
<circle cx="954.8" cy="789.2" r="7.6"/>
<circle cx="957.8" cy="779.2" r="7.6"/>
<circle cx="958.8" cy="750.3" r="7.6"/>
<circle cx="963.8" cy="759.3" r="7.6"/>
<circle cx="967.8" cy="704.5" r="7.6"/>
<circle cx="968.8" cy="703.5" r="7.6"/>
<circle cx="969.8" cy="764.3" r="7.6"/>
<circle cx="972.8" cy="767.3" r="7.6"/>
<circle cx="974.7" cy="775.2" r="7.6"/>
<circle cx="979.7" cy="761.3" r="7.6"/>
<circle cx="981.3" cy="703.5" r="7.6"/>
<circle cx="1490.9" cy="761.5" r="7.6"/>
<circle cx="1493.3" cy="728.8" r="7.6"/>
<circle cx="1495.6" cy="630.5" r="7.6"/>
<circle cx="1500.3" cy="675.2" r="7.6"/>
<circle cx="1504.2" cy="681.0" r="7.6"/>
<circle cx="1505.3" cy="694.6" r="7.6"/>
<circle cx="1503.0" cy="569.0" r="7.6"/>
<circle cx="1510.4" cy="506.4" r="7.6"/>
<circle cx="1517.8" cy="416.6" r="7.6"/>
<circle cx="1520.5" cy="597.4" r="7.6"/>
<circle cx="1523.6" cy="603.2" r="7.6"/>
<circle cx="1524.8" cy="622.7" r="7.6"/>
<circle cx="1531.4" cy="630.5" r="7.6"/>
<circle cx="1533.3" cy="642.1" r="7.6"/>
<circle cx="1527.5" cy="657.7" r="7.6"/>
<circle cx="1537.2" cy="651.8" r="7.6"/>
<circle cx="1541.9" cy="657.7" r="7.6"/>
<circle cx="1546.9" cy="661.6" r="7.6"/>
<circle cx="1548.9" cy="672.4" r="7.6"/>
<circle cx="1552.0" cy="560.5" r="7.6"/>
<circle cx="1556.6" cy="694.6" r="7.6"/>
<circle cx="1561.3" cy="698.5" r="7.6"/>
<circle cx="1566.4" cy="706.3" r="7.6"/>
<circle cx="1572.2" cy="714.0" r="7.6"/>
<circle cx="1574.1" cy="719.9" r="7.6"/>
<circle cx="1578.0" cy="682.9" r="7.6"/>
<circle cx="1581.9" cy="665.4" r="7.6"/>
<circle cx="1585.8" cy="671.3" r="7.6"/>
<circle cx="1583.9" cy="719.9" r="7.6"/>
<circle cx="1590.9" cy="440.7" r="7.6"/>
<circle cx="1593.6" cy="720.7" r="7.6"/>
<circle cx="1597.5" cy="688.8" r="7.6"/>
<circle cx="1600.6" cy="640.2" r="7.6"/>
<circle cx="1615.0" cy="675.2" r="7.6"/>
<circle cx="1620.8" cy="682.9" r="7.6"/>
<circle cx="1625.8" cy="686.8" r="7.6"/>
<circle cx="1630.5" cy="504.1" r="7.6"/>
<circle cx="1635.2" cy="618.8" r="7.6"/>
<circle cx="1637.5" cy="467.9" r="7.6"/>
<circle cx="1639.8" cy="485.8" r="7.6"/>
<circle cx="1642.6" cy="575.2" r="7.6"/>
<circle cx="1646.1" cy="650.7" r="7.6"/>
<circle cx="1650.0" cy="669.3" r="7.6"/>
<circle cx="1653.1" cy="665.4" r="7.6"/>
<circle cx="1655.0" cy="205.9" r="7.6"/>
<circle cx="1657.7" cy="646.0" r="7.6"/>
<circle cx="1661.6" cy="663.5" r="7.6"/>
<circle cx="1663.6" cy="644.1" r="7.6"/>
<circle cx="1666.3" cy="611.0" r="7.6"/>
<circle cx="1669.4" cy="553.5" r="7.6"/>
<circle cx="1673.3" cy="620.7" r="7.6"/>
<circle cx="1675.2" cy="647.9" r="7.6"/>
<circle cx="1679.1" cy="653.8" r="7.6"/>
<circle cx="1683.0" cy="661.6" r="7.6"/>
<circle cx="1684.9" cy="649.9" r="7.6"/>
<circle cx="1688.8" cy="665.4" r="7.6"/>
<circle cx="1691.9" cy="638.2" r="7.6"/>
<circle cx="1694.7" cy="671.3" r="7.6"/>
<circle cx="1698.6" cy="675.2" r="7.6"/>
<circle cx="1699.3" cy="612.2" r="7.6"/>
<circle cx="1696.6" cy="673.2" r="7.6"/>
<circle cx="744.2" cy="630.7" r="7.6"/>
<circle cx="733.0" cy="639.1" r="7.6"/>
<circle cx="745.6" cy="640.5" r="7.6"/>
<circle cx="770.7" cy="637.7" r="7.6"/>
<circle cx="784.6" cy="627.9" r="7.6"/>
<circle cx="791.6" cy="601.4" r="7.6"/>
<circle cx="759.5" cy="655.8" r="7.6"/>
<circle cx="751.2" cy="661.4" r="7.6"/>
<circle cx="722.6" cy="665.6" r="7.6"/>
<circle cx="727.4" cy="674.6" r="7.6"/>
<circle cx="731.6" cy="727.7" r="7.6"/>
</g>
<path d="M174.5,550.6 L187.9,564.0 L174.5,577.4 L161.1,564.0Z" fill="none" stroke="#00cdcd" stroke-width="1.6"/>
<path d="M173.3,560.4 L186.7,573.8 L173.3,587.2 L159.9,573.8Z" fill="none" stroke="#00cdcd" stroke-width="1.6"/>
<path d="M172.5,566.2 L185.9,579.6 L172.5,593.0 L159.1,579.6Z" fill="none" stroke="#00cdcd" stroke-width="1.6"/>
<path d="M188.9,577.8 L202.3,591.2 L188.9,604.6 L175.5,591.2Z" fill="none" stroke="#00cdcd" stroke-width="1.6"/>
<path d="M169.4,601.1 L182.8,614.5 L169.4,627.9 L156.0,614.5Z" fill="none" stroke="#00cdcd" stroke-width="1.6"/>
<path d="M174.1,603.1 L187.5,616.5 L174.1,629.9 L160.7,616.5Z" fill="none" stroke="#00cdcd" stroke-width="1.6"/>
<path d="M179.1,599.2 L192.5,612.6 L179.1,626.0 L165.7,612.6Z" fill="none" stroke="#00cdcd" stroke-width="1.6"/>
<path d="M177.2,612.8 L190.6,626.2 L177.2,639.6 L163.8,626.2Z" fill="none" stroke="#00cdcd" stroke-width="1.6"/>
<path d="M183.0,610.9 L196.4,624.3 L183.0,637.7 L169.6,624.3Z" fill="none" stroke="#00cdcd" stroke-width="1.6"/>
<path d="M179.1,632.2 L192.5,645.6 L179.1,659.0 L165.7,645.6Z" fill="none" stroke="#00cdcd" stroke-width="1.6"/>
<path d="M176.4,633.0 L189.8,646.4 L176.4,659.8 L163.0,646.4Z" fill="none" stroke="#00cdcd" stroke-width="1.6"/>
<path d="M188.9,612.8 L202.3,626.2 L188.9,639.6 L175.5,626.2Z" fill="none" stroke="#00cdcd" stroke-width="1.6"/>
<path d="M192.7,618.6 L206.1,632.0 L192.7,645.4 L179.3,632.0Z" fill="none" stroke="#00cdcd" stroke-width="1.6"/>
<path d="M198.6,614.7 L212.0,628.1 L198.6,641.5 L185.2,628.1Z" fill="none" stroke="#00cdcd" stroke-width="1.6"/>
<path d="M202.4,607.0 L215.8,620.4 L202.4,633.8 L189.0,620.4Z" fill="none" stroke="#00cdcd" stroke-width="1.6"/>
<path d="M200.5,622.5 L213.9,635.9 L200.5,649.3 L187.1,635.9Z" fill="none" stroke="#00cdcd" stroke-width="1.6"/>
<path d="M192.7,649.7 L206.1,663.1 L192.7,676.5 L179.3,663.1Z" fill="none" stroke="#00cdcd" stroke-width="1.6"/>
<path d="M204.4,645.8 L217.8,659.2 L204.4,672.6 L191.0,659.2Z" fill="none" stroke="#00cdcd" stroke-width="1.6"/>
<path d="M218.0,629.1 L231.4,642.5 L218.0,655.9 L204.6,642.5Z" fill="none" stroke="#00cdcd" stroke-width="1.6"/>
<path d="M219.9,629.5 L233.3,642.9 L219.9,656.3 L206.5,642.9Z" fill="none" stroke="#00cdcd" stroke-width="1.6"/>
<path d="M212.2,675.0 L225.6,688.4 L212.2,701.8 L198.8,688.4Z" fill="none" stroke="#00cdcd" stroke-width="1.6"/>
<path d="M219.9,680.8 L233.3,694.2 L219.9,707.6 L206.5,694.2Z" fill="none" stroke="#00cdcd" stroke-width="1.6"/>
<path d="M236.2,667.2 L249.6,680.6 L236.2,694.0 L222.8,680.6Z" fill="none" stroke="#00cdcd" stroke-width="1.6"/>
<path d="M223.8,690.5 L237.2,703.9 L223.8,717.3 L210.4,703.9Z" fill="none" stroke="#00cdcd" stroke-width="1.6"/>
<path d="M227.7,696.3 L241.1,709.7 L227.7,723.1 L214.3,709.7Z" fill="none" stroke="#00cdcd" stroke-width="1.6"/>
<path d="M229.6,702.2 L243.0,715.6 L229.6,729.0 L216.2,715.6Z" fill="none" stroke="#00cdcd" stroke-width="1.6"/>
<path d="M233.5,708.0 L246.9,721.4 L233.5,734.8 L220.1,721.4Z" fill="none" stroke="#00cdcd" stroke-width="1.6"/>
<path d="M234.3,714.6 L247.7,728.0 L234.3,741.4 L220.9,728.0Z" fill="none" stroke="#00cdcd" stroke-width="1.6"/>
<path d="M239.4,749.6 L252.8,763.0 L239.4,776.4 L226.0,763.0Z" fill="none" stroke="#00cdcd" stroke-width="1.6"/>
<path d="M247.1,752.7 L260.5,766.1 L247.1,779.5 L233.7,766.1Z" fill="none" stroke="#00cdcd" stroke-width="1.6"/>
<path d="M254.1,761.2 L267.5,774.6 L254.1,788.0 L240.7,774.6Z" fill="none" stroke="#00cdcd" stroke-width="1.6"/>
<path d="M266.6,777.9 L280.0,791.3 L266.6,804.7 L253.2,791.3Z" fill="none" stroke="#00cdcd" stroke-width="1.6"/>
<path d="M258.8,783.0 L272.2,796.4 L258.8,809.8 L245.4,796.4Z" fill="none" stroke="#00cdcd" stroke-width="1.6"/>
<path d="M253.0,785.7 L266.4,799.1 L253.0,812.5 L239.6,799.1Z" fill="none" stroke="#00cdcd" stroke-width="1.6"/>
<path d="M249.1,789.6 L262.5,803.0 L249.1,816.4 L235.7,803.0Z" fill="none" stroke="#00cdcd" stroke-width="1.6"/>
<path d="M244.0,803.2 L257.4,816.6 L244.0,830.0 L230.6,816.6Z" fill="none" stroke="#00cdcd" stroke-width="1.6"/>
<path d="M259.6,803.2 L273.0,816.6 L259.6,830.0 L246.2,816.6Z" fill="none" stroke="#00cdcd" stroke-width="1.6"/>
<path d="M283.3,754.6 L296.7,768.0 L283.3,781.4 L269.9,768.0Z" fill="none" stroke="#00cdcd" stroke-width="1.6"/>
<path d="M290.6,737.1 L304.0,750.5 L290.6,763.9 L277.2,750.5Z" fill="none" stroke="#00cdcd" stroke-width="1.6"/>
<path d="M307.7,715.0 L321.1,728.4 L307.7,741.8 L294.3,728.4Z" fill="none" stroke="#00cdcd" stroke-width="1.6"/>
<path d="M280.1,795.4 L293.5,808.8 L280.1,822.2 L266.7,808.8Z" fill="none" stroke="#00cdcd" stroke-width="1.6"/>
<path d="M291.8,803.2 L305.2,816.6 L291.8,830.0 L278.4,816.6Z" fill="none" stroke="#00cdcd" stroke-width="1.6"/>
<path d="M297.6,810.9 L311.0,824.3 L297.6,837.7 L284.2,824.3Z" fill="none" stroke="#00cdcd" stroke-width="1.6"/>
<path d="M300.7,826.5 L314.1,839.9 L300.7,853.3 L287.3,839.9Z" fill="none" stroke="#00cdcd" stroke-width="1.6"/>
<path d="M303.5,793.5 L316.9,806.9 L303.5,820.3 L290.1,806.9Z" fill="none" stroke="#00cdcd" stroke-width="1.6"/>
<path d="M311.2,795.4 L324.6,808.8 L311.2,822.2 L297.8,808.8Z" fill="none" stroke="#00cdcd" stroke-width="1.6"/>
<path d="M317.1,799.3 L330.5,812.7 L317.1,826.1 L303.7,812.7Z" fill="none" stroke="#00cdcd" stroke-width="1.6"/>
<path d="M322.9,793.5 L336.3,806.9 L322.9,820.3 L309.5,806.9Z" fill="none" stroke="#00cdcd" stroke-width="1.6"/>
<path d="M309.3,755.8 L322.7,769.2 L309.3,782.6 L295.9,769.2Z" fill="none" stroke="#00cdcd" stroke-width="1.6"/>
<path d="M319.0,752.7 L332.4,766.1 L319.0,779.5 L305.6,766.1Z" fill="none" stroke="#00cdcd" stroke-width="1.6"/>
<path d="M326.8,749.6 L340.2,763.0 L326.8,776.4 L313.4,763.0Z" fill="none" stroke="#00cdcd" stroke-width="1.6"/>
<path d="M332.6,748.0 L346.0,761.4 L332.6,774.8 L319.2,761.4Z" fill="none" stroke="#00cdcd" stroke-width="1.6"/>
<path d="M329.5,772.1 L342.9,785.5 L329.5,798.9 L316.1,785.5Z" fill="none" stroke="#00cdcd" stroke-width="1.6"/>
<path d="M341.1,759.7 L354.5,773.1 L341.1,786.5 L327.7,773.1Z" fill="none" stroke="#00cdcd" stroke-width="1.6"/>
<path d="M274.3,838.1 L287.7,851.5 L274.3,864.9 L260.9,851.5Z" fill="none" stroke="#00cdcd" stroke-width="1.6"/>
<path d="M275.1,845.9 L288.5,859.3 L275.1,872.7 L261.7,859.3Z" fill="none" stroke="#00cdcd" stroke-width="1.6"/>
<path d="M271.2,856.8 L284.6,870.2 L271.2,883.6 L257.8,870.2Z" fill="none" stroke="#00cdcd" stroke-width="1.6"/>
<path d="M288.7,850.6 L302.1,864.0 L288.7,877.4 L275.3,864.0Z" fill="none" stroke="#00cdcd" stroke-width="1.6"/>
<path d="M344.6,521.5 L358.0,534.9 L344.6,548.3 L331.2,534.9Z" fill="none" stroke="#00cdcd" stroke-width="1.6"/>
<path d="M347.4,588.3 L360.8,601.7 L347.4,615.1 L334.0,601.7Z" fill="none" stroke="#00cdcd" stroke-width="1.6"/>
<path d="M341.9,654.4 L355.3,667.8 L341.9,681.2 L328.5,667.8Z" fill="none" stroke="#00cdcd" stroke-width="1.6"/>
<path d="M349.7,665.2 L363.1,678.6 L349.7,692.0 L336.3,678.6Z" fill="none" stroke="#00cdcd" stroke-width="1.6"/>
<path d="M352.0,695.2 L365.4,708.6 L352.0,722.0 L338.6,708.6Z" fill="none" stroke="#00cdcd" stroke-width="1.6"/>
<path d="M374.6,698.3 L388.0,711.7 L374.6,725.1 L361.2,711.7Z" fill="none" stroke="#00cdcd" stroke-width="1.6"/>
<path d="M369.5,682.7 L382.9,696.1 L369.5,709.5 L356.1,696.1Z" fill="none" stroke="#00cdcd" stroke-width="1.6"/>
<path d="M377.3,673.0 L390.7,686.4 L377.3,699.8 L363.9,686.4Z" fill="none" stroke="#00cdcd" stroke-width="1.6"/>
<path d="M383.1,676.9 L396.5,690.3 L383.1,703.7 L369.7,690.3Z" fill="none" stroke="#00cdcd" stroke-width="1.6"/>
<path d="M387.0,674.2 L400.4,687.6 L387.0,701.0 L373.6,687.6Z" fill="none" stroke="#00cdcd" stroke-width="1.6"/>
<path d="M392.8,670.3 L406.2,683.7 L392.8,697.1 L379.4,683.7Z" fill="none" stroke="#00cdcd" stroke-width="1.6"/>
<path d="M388.9,671.9 L402.3,685.3 L388.9,698.7 L375.5,685.3Z" fill="none" stroke="#00cdcd" stroke-width="1.6"/>
<path d="M381.5,640.8 L394.9,654.2 L381.5,667.6 L368.1,654.2Z" fill="none" stroke="#00cdcd" stroke-width="1.6"/>
<path d="M396.3,337.0 L409.7,350.4 L396.3,363.8 L382.9,350.4Z" fill="none" stroke="#00cdcd" stroke-width="1.6"/>
<path d="M401.7,559.2 L415.1,572.6 L401.7,586.0 L388.3,572.6Z" fill="none" stroke="#00cdcd" stroke-width="1.6"/>
<path d="M403.3,577.8 L416.7,591.2 L403.3,604.6 L389.9,591.2Z" fill="none" stroke="#00cdcd" stroke-width="1.6"/>
<path d="M398.6,591.4 L412.0,604.8 L398.6,618.2 L385.2,604.8Z" fill="none" stroke="#00cdcd" stroke-width="1.6"/>
<path d="M408.4,610.9 L421.8,624.3 L408.4,637.7 L395.0,624.3Z" fill="none" stroke="#00cdcd" stroke-width="1.6"/>
<path d="M406.4,633.0 L419.8,646.4 L406.4,659.8 L393.0,646.4Z" fill="none" stroke="#00cdcd" stroke-width="1.6"/>
<path d="M411.1,279.1 L424.5,292.5 L411.1,305.9 L397.7,292.5Z" fill="none" stroke="#00cdcd" stroke-width="1.6"/>
<path d="M418.1,434.9 L431.5,448.3 L418.1,461.7 L404.7,448.3Z" fill="none" stroke="#00cdcd" stroke-width="1.6"/>
<path d="M423.1,433.3 L436.5,446.7 L423.1,460.1 L409.7,446.7Z" fill="none" stroke="#00cdcd" stroke-width="1.6"/>
<path d="M425.8,476.0 L439.2,489.4 L425.8,502.8 L412.4,489.4Z" fill="none" stroke="#00cdcd" stroke-width="1.6"/>
<path d="M416.1,500.9 L429.5,514.3 L416.1,527.7 L402.7,514.3Z" fill="none" stroke="#00cdcd" stroke-width="1.6"/>
<path d="M414.2,516.5 L427.6,529.9 L414.2,543.3 L400.8,529.9Z" fill="none" stroke="#00cdcd" stroke-width="1.6"/>
<path d="M420.0,518.8 L433.4,532.2 L420.0,545.6 L406.6,532.2Z" fill="none" stroke="#00cdcd" stroke-width="1.6"/>
<path d="M428.2,575.1 L441.6,588.5 L428.2,601.9 L414.8,588.5Z" fill="none" stroke="#00cdcd" stroke-width="1.6"/>
<path d="M433.6,614.0 L447.0,627.4 L433.6,640.8 L420.2,627.4Z" fill="none" stroke="#00cdcd" stroke-width="1.6"/>
<path d="M430.5,643.1 L443.9,656.5 L430.5,669.9 L417.1,656.5Z" fill="none" stroke="#00cdcd" stroke-width="1.6"/>
<path d="M440.2,359.9 L453.6,373.3 L440.2,386.7 L426.8,373.3Z" fill="none" stroke="#00cdcd" stroke-width="1.6"/>
<path d="M445.3,434.9 L458.7,448.3 L445.3,461.7 L431.9,448.3Z" fill="none" stroke="#00cdcd" stroke-width="1.6"/>
<path d="M444.1,494.7 L457.5,508.1 L444.1,521.5 L430.7,508.1Z" fill="none" stroke="#00cdcd" stroke-width="1.6"/>
<path d="M448.4,630.3 L461.8,643.7 L448.4,657.1 L435.0,643.7Z" fill="none" stroke="#00cdcd" stroke-width="1.6"/>
<path d="M453.0,582.5 L466.4,595.9 L453.0,609.3 L439.6,595.9Z" fill="none" stroke="#00cdcd" stroke-width="1.6"/>
<path d="M455.0,610.9 L468.4,624.3 L455.0,637.7 L441.6,624.3Z" fill="none" stroke="#00cdcd" stroke-width="1.6"/>
<path d="M451.1,612.8 L464.5,626.2 L451.1,639.6 L437.7,626.2Z" fill="none" stroke="#00cdcd" stroke-width="1.6"/>
<path d="M460.0,434.9 L473.4,448.3 L460.0,461.7 L446.6,448.3Z" fill="none" stroke="#00cdcd" stroke-width="1.6"/>
<path d="M462.4,337.0 L475.8,350.4 L462.4,363.8 L449.0,350.4Z" fill="none" stroke="#00cdcd" stroke-width="1.6"/>
<path d="M469.3,564.2 L482.7,577.6 L469.3,591.0 L455.9,577.6Z" fill="none" stroke="#00cdcd" stroke-width="1.6"/>
<path d="M471.7,597.3 L485.1,610.7 L471.7,624.1 L458.3,610.7Z" fill="none" stroke="#00cdcd" stroke-width="1.6"/>
<path d="M466.6,610.9 L480.0,624.3 L466.6,637.7 L453.2,624.3Z" fill="none" stroke="#00cdcd" stroke-width="1.6"/>
<path d="M464.7,630.3 L478.1,643.7 L464.7,657.1 L451.3,643.7Z" fill="none" stroke="#00cdcd" stroke-width="1.6"/>
<path d="M474.8,507.9 L488.2,521.3 L474.8,534.7 L461.4,521.3Z" fill="none" stroke="#00cdcd" stroke-width="1.6"/>
<path d="M489.5,577.1 L502.9,590.5 L489.5,603.9 L476.1,590.5Z" fill="none" stroke="#00cdcd" stroke-width="1.6"/>
<path d="M488.0,625.2 L501.4,638.6 L488.0,652.0 L474.6,638.6Z" fill="none" stroke="#00cdcd" stroke-width="1.6"/>
<path d="M484.9,693.2 L498.3,706.6 L484.9,720.0 L471.5,706.6Z" fill="none" stroke="#00cdcd" stroke-width="1.6"/>
<path d="M482.6,726.2 L496.0,739.6 L482.6,753.0 L469.2,739.6Z" fill="none" stroke="#00cdcd" stroke-width="1.6"/>
<path d="M493.8,658.6 L507.2,672.0 L493.8,685.4 L480.4,672.0Z" fill="none" stroke="#00cdcd" stroke-width="1.6"/>
<path d="M497.7,599.2 L511.1,612.6 L497.7,626.0 L484.3,612.6Z" fill="none" stroke="#00cdcd" stroke-width="1.6"/>
<path d="M502.8,598.0 L516.2,611.4 L502.8,624.8 L489.4,611.4Z" fill="none" stroke="#00cdcd" stroke-width="1.6"/>
<path d="M505.5,655.5 L518.9,668.9 L505.5,682.3 L492.1,668.9Z" fill="none" stroke="#00cdcd" stroke-width="1.6"/>
<path d="M511.3,635.3 L524.7,648.7 L511.3,662.1 L497.9,648.7Z" fill="none" stroke="#00cdcd" stroke-width="1.6"/>
<path d="M515.2,640.0 L528.6,653.4 L515.2,666.8 L501.8,653.4Z" fill="none" stroke="#00cdcd" stroke-width="1.6"/>
<path d="M519.1,641.9 L532.5,655.3 L519.1,668.7 L505.7,655.3Z" fill="none" stroke="#00cdcd" stroke-width="1.6"/>
<path d="M522.2,628.3 L535.6,641.7 L522.2,655.1 L508.8,641.7Z" fill="none" stroke="#00cdcd" stroke-width="1.6"/>
<path d="M523.7,647.8 L537.1,661.2 L523.7,674.6 L510.3,661.2Z" fill="none" stroke="#00cdcd" stroke-width="1.6"/>
<path d="M526.1,573.2 L539.5,586.6 L526.1,600.0 L512.7,586.6Z" fill="none" stroke="#00cdcd" stroke-width="1.6"/>
<path d="M530.7,678.8 L544.1,692.2 L530.7,705.6 L517.3,692.2Z" fill="none" stroke="#00cdcd" stroke-width="1.6"/>
<path d="M532.7,715.8 L546.1,729.2 L532.7,742.6 L519.3,729.2Z" fill="none" stroke="#00cdcd" stroke-width="1.6"/>
<path d="M536.6,741.0 L550.0,754.4 L536.6,767.8 L523.2,754.4Z" fill="none" stroke="#00cdcd" stroke-width="1.6"/>
<path d="M537.7,760.4 L551.1,773.8 L537.7,787.2 L524.3,773.8Z" fill="none" stroke="#00cdcd" stroke-width="1.6"/>
<path d="M545.8,715.8 L559.2,729.2 L545.8,742.6 L532.4,729.2Z" fill="none" stroke="#00cdcd" stroke-width="1.6"/>
<path d="M540.0,737.1 L553.4,750.5 L540.0,763.9 L526.6,750.5Z" fill="none" stroke="#00cdcd" stroke-width="1.6"/>
<path d="M547.8,746.8 L561.2,760.2 L547.8,773.6 L534.4,760.2Z" fill="none" stroke="#00cdcd" stroke-width="1.6"/>
<path d="M553.6,750.7 L567.0,764.1 L553.6,777.5 L540.2,764.1Z" fill="none" stroke="#00cdcd" stroke-width="1.6"/>
<path d="M543.9,760.4 L557.3,773.8 L543.9,787.2 L530.5,773.8Z" fill="none" stroke="#00cdcd" stroke-width="1.6"/>
<path d="M555.5,803.2 L568.9,816.6 L555.5,830.0 L542.1,816.6Z" fill="none" stroke="#00cdcd" stroke-width="1.6"/>
<path d="M561.4,814.8 L574.8,828.2 L561.4,841.6 L548.0,828.2Z" fill="none" stroke="#00cdcd" stroke-width="1.6"/>
<path d="M567.2,820.6 L580.6,834.0 L567.2,847.4 L553.8,834.0Z" fill="none" stroke="#00cdcd" stroke-width="1.6"/>
<path d="M563.3,838.1 L576.7,851.5 L563.3,864.9 L549.9,851.5Z" fill="none" stroke="#00cdcd" stroke-width="1.6"/>
<path d="M571.1,830.4 L584.5,843.8 L571.1,857.2 L557.7,843.8Z" fill="none" stroke="#00cdcd" stroke-width="1.6"/>
<path d="M575.0,836.2 L588.4,849.6 L575.0,863.0 L561.6,849.6Z" fill="none" stroke="#00cdcd" stroke-width="1.6"/>
<path d="M569.1,750.7 L582.5,764.1 L569.1,777.5 L555.7,764.1Z" fill="none" stroke="#00cdcd" stroke-width="1.6"/>
<path d="M584.7,788.4 L598.1,801.8 L584.7,815.2 L571.3,801.8Z" fill="none" stroke="#00cdcd" stroke-width="1.6"/>
<path d="M582.7,864.5 L596.1,877.9 L582.7,891.3 L569.3,877.9Z" fill="none" stroke="#00cdcd" stroke-width="1.6"/>
<path d="M592.4,835.0 L605.8,848.4 L592.4,861.8 L579.0,848.4Z" fill="none" stroke="#00cdcd" stroke-width="1.6"/>
<path d="M586.6,720.8 L600.0,734.2 L586.6,747.6 L573.2,734.2Z" fill="none" stroke="#00cdcd" stroke-width="1.6"/>
<path d="M593.6,729.4 L607.0,742.8 L593.6,756.2 L580.2,742.8Z" fill="none" stroke="#00cdcd" stroke-width="1.6"/>
<path d="M597.5,706.8 L610.9,720.2 L597.5,733.6 L584.1,720.2Z" fill="none" stroke="#00cdcd" stroke-width="1.6"/>
<path d="M605.3,665.2 L618.7,678.6 L605.3,692.0 L591.9,678.6Z" fill="none" stroke="#00cdcd" stroke-width="1.6"/>
<path d="M606.8,671.1 L620.2,684.5 L606.8,697.9 L593.4,684.5Z" fill="none" stroke="#00cdcd" stroke-width="1.6"/>
<path d="M602.2,575.1 L615.6,588.5 L602.2,601.9 L588.8,588.5Z" fill="none" stroke="#00cdcd" stroke-width="1.6"/>
<path d="M609.9,577.8 L623.3,591.2 L609.9,604.6 L596.5,591.2Z" fill="none" stroke="#00cdcd" stroke-width="1.6"/>
<path d="M615.8,575.9 L629.2,589.3 L615.8,602.7 L602.4,589.3Z" fill="none" stroke="#00cdcd" stroke-width="1.6"/>
<path d="M621.6,589.5 L635.0,602.9 L621.6,616.3 L608.2,602.9Z" fill="none" stroke="#00cdcd" stroke-width="1.6"/>
<path d="M611.9,546.8 L625.3,560.2 L611.9,573.6 L598.5,560.2Z" fill="none" stroke="#00cdcd" stroke-width="1.6"/>
<path d="M619.6,539.0 L633.0,552.4 L619.6,565.8 L606.2,552.4Z" fill="none" stroke="#00cdcd" stroke-width="1.6"/>
<path d="M619.3,433.3 L632.7,446.7 L619.3,460.1 L605.9,446.7Z" fill="none" stroke="#00cdcd" stroke-width="1.6"/>
<path d="M626.2,490.4 L639.6,503.8 L626.2,517.2 L612.8,503.8Z" fill="none" stroke="#00cdcd" stroke-width="1.6"/>
<path d="M628.6,509.8 L642.0,523.2 L628.6,536.6 L615.2,523.2Z" fill="none" stroke="#00cdcd" stroke-width="1.6"/>
<path d="M633.2,540.9 L646.6,554.3 L633.2,567.7 L619.8,554.3Z" fill="none" stroke="#00cdcd" stroke-width="1.6"/>
<path d="M637.1,570.1 L650.5,583.5 L637.1,596.9 L623.7,583.5Z" fill="none" stroke="#00cdcd" stroke-width="1.6"/>
<path d="M638.7,472.2 L652.1,485.6 L638.7,499.0 L625.3,485.6Z" fill="none" stroke="#00cdcd" stroke-width="1.6"/>
<path d="M641.8,498.2 L655.2,511.6 L641.8,525.0 L628.4,511.6Z" fill="none" stroke="#00cdcd" stroke-width="1.6"/>
<path d="M644.1,535.9 L657.5,549.3 L644.1,562.7 L630.7,549.3Z" fill="none" stroke="#00cdcd" stroke-width="1.6"/>
<path d="M644.9,591.4 L658.3,604.8 L644.9,618.2 L631.5,604.8Z" fill="none" stroke="#00cdcd" stroke-width="1.6"/>
<path d="M648.8,626.4 L662.2,639.8 L648.8,653.2 L635.4,639.8Z" fill="none" stroke="#00cdcd" stroke-width="1.6"/>
<path d="M652.7,597.3 L666.1,610.7 L652.7,624.1 L639.3,610.7Z" fill="none" stroke="#00cdcd" stroke-width="1.6"/>
<path d="M656.6,610.9 L670.0,624.3 L656.6,637.7 L643.2,624.3Z" fill="none" stroke="#00cdcd" stroke-width="1.6"/>
<path d="M665.1,546.8 L678.5,560.2 L665.1,573.6 L651.7,560.2Z" fill="none" stroke="#00cdcd" stroke-width="1.6"/>
<path d="M667.4,291.1 L680.8,304.5 L667.4,317.9 L654.0,304.5Z" fill="none" stroke="#00cdcd" stroke-width="1.6"/>
<path d="M668.2,406.1 L681.6,419.5 L668.2,432.9 L654.8,419.5Z" fill="none" stroke="#00cdcd" stroke-width="1.6"/>
<path d="M664.3,704.1 L677.7,717.5 L664.3,730.9 L650.9,717.5Z" fill="none" stroke="#00cdcd" stroke-width="1.6"/>
<path d="M668.2,655.5 L681.6,668.9 L668.2,682.3 L654.8,668.9Z" fill="none" stroke="#00cdcd" stroke-width="1.6"/>
<path d="M674.0,663.3 L687.4,676.7 L674.0,690.1 L660.6,676.7Z" fill="none" stroke="#00cdcd" stroke-width="1.6"/>
<path d="M677.9,655.5 L691.3,668.9 L677.9,682.3 L664.5,668.9Z" fill="none" stroke="#00cdcd" stroke-width="1.6"/>
<path d="M681.8,651.7 L695.2,665.1 L681.8,678.5 L668.4,665.1Z" fill="none" stroke="#00cdcd" stroke-width="1.6"/>
<path d="M685.7,669.1 L699.1,682.5 L685.7,695.9 L672.3,682.5Z" fill="none" stroke="#00cdcd" stroke-width="1.6"/>
<path d="M679.9,514.9 L693.3,528.3 L679.9,541.7 L666.5,528.3Z" fill="none" stroke="#00cdcd" stroke-width="1.6"/>
<path d="M689.6,603.1 L703.0,616.5 L689.6,629.9 L676.2,616.5Z" fill="none" stroke="#00cdcd" stroke-width="1.6"/>
<path d="M695.4,579.8 L708.8,593.2 L695.4,606.6 L682.0,593.2Z" fill="none" stroke="#00cdcd" stroke-width="1.6"/>
<path d="M705.1,577.1 L718.5,590.5 L705.1,603.9 L691.7,590.5Z" fill="none" stroke="#00cdcd" stroke-width="1.6"/>
<path d="M703.2,632.2 L716.6,645.6 L703.2,659.0 L689.8,645.6Z" fill="none" stroke="#00cdcd" stroke-width="1.6"/>
<path d="M709.0,653.6 L722.4,667.0 L709.0,680.4 L695.6,667.0Z" fill="none" stroke="#00cdcd" stroke-width="1.6"/>
<path d="M711.7,429.4 L725.1,442.8 L711.7,456.2 L698.3,442.8Z" fill="none" stroke="#00cdcd" stroke-width="1.6"/>
<path d="M718.7,523.4 L732.1,536.8 L718.7,550.2 L705.3,536.8Z" fill="none" stroke="#00cdcd" stroke-width="1.6"/>
<path d="M714.0,552.6 L727.4,566.0 L714.0,579.4 L700.6,566.0Z" fill="none" stroke="#00cdcd" stroke-width="1.6"/>
<path d="M716.8,589.5 L730.2,602.9 L716.8,616.3 L703.4,602.9Z" fill="none" stroke="#00cdcd" stroke-width="1.6"/>
<path d="M722.6,599.2 L736.0,612.6 L722.6,626.0 L709.2,612.6Z" fill="none" stroke="#00cdcd" stroke-width="1.6"/>
<path d="M725.7,659.4 L739.1,672.8 L725.7,686.2 L712.3,672.8Z" fill="none" stroke="#00cdcd" stroke-width="1.6"/>
<path d="M732.3,601.1 L745.7,614.5 L732.3,627.9 L718.9,614.5Z" fill="none" stroke="#00cdcd" stroke-width="1.6"/>
<path d="M736.2,626.4 L749.6,639.8 L736.2,653.2 L722.8,639.8Z" fill="none" stroke="#00cdcd" stroke-width="1.6"/>
<path d="M738.1,636.1 L751.5,649.5 L738.1,662.9 L724.7,649.5Z" fill="none" stroke="#00cdcd" stroke-width="1.6"/>
<path d="M743.2,469.8 L756.6,483.2 L743.2,496.6 L729.8,483.2Z" fill="none" stroke="#00cdcd" stroke-width="1.6"/>
<path d="M742.0,612.8 L755.4,626.2 L742.0,639.6 L728.6,626.2Z" fill="none" stroke="#00cdcd" stroke-width="1.6"/>
<path d="M745.9,618.6 L759.3,632.0 L745.9,645.4 L732.5,632.0Z" fill="none" stroke="#00cdcd" stroke-width="1.6"/>
<path d="M752.9,587.5 L766.3,600.9 L752.9,614.3 L739.5,600.9Z" fill="none" stroke="#00cdcd" stroke-width="1.6"/>
<path d="M755.6,562.3 L769.0,575.7 L755.6,589.1 L742.2,575.7Z" fill="none" stroke="#00cdcd" stroke-width="1.6"/>
<path d="M751.7,649.7 L765.1,663.1 L751.7,676.5 L738.3,663.1Z" fill="none" stroke="#00cdcd" stroke-width="1.6"/>
<path d="M758.3,507.9 L771.7,521.3 L758.3,534.7 L744.9,521.3Z" fill="none" stroke="#00cdcd" stroke-width="1.6"/>
<path d="M761.4,641.9 L774.8,655.3 L761.4,668.7 L748.0,655.3Z" fill="none" stroke="#00cdcd" stroke-width="1.6"/>
<path d="M766.5,618.6 L779.9,632.0 L766.5,645.4 L753.1,632.0Z" fill="none" stroke="#00cdcd" stroke-width="1.6"/>
<path d="M773.1,574.0 L786.5,587.4 L773.1,600.8 L759.7,587.4Z" fill="none" stroke="#00cdcd" stroke-width="1.6"/>
<path d="M776.2,583.7 L789.6,597.1 L776.2,610.5 L762.8,597.1Z" fill="none" stroke="#00cdcd" stroke-width="1.6"/>
<path d="M778.2,493.5 L791.6,506.9 L778.2,520.3 L764.8,506.9Z" fill="none" stroke="#00cdcd" stroke-width="1.6"/>
<path d="M782.8,607.0 L796.2,620.4 L782.8,633.8 L769.4,620.4Z" fill="none" stroke="#00cdcd" stroke-width="1.6"/>
<path d="M788.6,608.9 L802.0,622.3 L788.6,635.7 L775.2,622.3Z" fill="none" stroke="#00cdcd" stroke-width="1.6"/>
<path d="M792.5,568.1 L805.9,581.5 L792.5,594.9 L779.1,581.5Z" fill="none" stroke="#00cdcd" stroke-width="1.6"/>
<path d="M796.4,591.4 L809.8,604.8 L796.4,618.2 L783.0,604.8Z" fill="none" stroke="#00cdcd" stroke-width="1.6"/>
<path d="M802.2,605.0 L815.6,618.4 L802.2,631.8 L788.8,618.4Z" fill="none" stroke="#00cdcd" stroke-width="1.6"/>
<path d="M802.2,636.9 L815.6,650.3 L802.2,663.7 L788.8,650.3Z" fill="none" stroke="#00cdcd" stroke-width="1.6"/>
<path d="M806.1,653.6 L819.5,667.0 L806.1,680.4 L792.7,667.0Z" fill="none" stroke="#00cdcd" stroke-width="1.6"/>
<path d="M812.0,663.3 L825.4,676.7 L812.0,690.1 L798.6,676.7Z" fill="none" stroke="#00cdcd" stroke-width="1.6"/>
<path d="M808.1,675.0 L821.5,688.4 L808.1,701.8 L794.7,688.4Z" fill="none" stroke="#00cdcd" stroke-width="1.6"/>
<path d="M813.9,684.7 L827.3,698.1 L813.9,711.5 L800.5,698.1Z" fill="none" stroke="#00cdcd" stroke-width="1.6"/>
<path d="M817.8,690.5 L831.2,703.9 L817.8,717.3 L804.4,703.9Z" fill="none" stroke="#00cdcd" stroke-width="1.6"/>
<path d="M821.7,682.7 L835.1,696.1 L821.7,709.5 L808.3,696.1Z" fill="none" stroke="#00cdcd" stroke-width="1.6"/>
<path d="M823.6,696.3 L837.0,709.7 L823.6,723.1 L810.2,709.7Z" fill="none" stroke="#00cdcd" stroke-width="1.6"/>
<path d="M827.5,704.1 L840.9,717.5 L827.5,730.9 L814.1,717.5Z" fill="none" stroke="#00cdcd" stroke-width="1.6"/>
<path d="M835.3,688.6 L848.7,702.0 L835.3,715.4 L821.9,702.0Z" fill="none" stroke="#00cdcd" stroke-width="1.6"/>
<path d="M837.2,696.3 L850.6,709.7 L837.2,723.1 L823.8,709.7Z" fill="none" stroke="#00cdcd" stroke-width="1.6"/>
<path d="M829.4,715.8 L842.8,729.2 L829.4,742.6 L816.0,729.2Z" fill="none" stroke="#00cdcd" stroke-width="1.6"/>
<path d="M831.4,719.6 L844.8,733.0 L831.4,746.4 L818.0,733.0Z" fill="none" stroke="#00cdcd" stroke-width="1.6"/>
<path d="M864.4,821.8 L877.8,835.2 L864.4,848.6 L851.0,835.2Z" fill="none" stroke="#00cdcd" stroke-width="1.6"/>
<path d="M870.2,818.7 L883.6,832.1 L870.2,845.5 L856.8,832.1Z" fill="none" stroke="#00cdcd" stroke-width="1.6"/>
<path d="M874.1,824.5 L887.5,837.9 L874.1,851.3 L860.7,837.9Z" fill="none" stroke="#00cdcd" stroke-width="1.6"/>
<path d="M879.9,807.1 L893.3,820.5 L879.9,833.9 L866.5,820.5Z" fill="none" stroke="#00cdcd" stroke-width="1.6"/>
<path d="M868.3,850.6 L881.7,864.0 L868.3,877.4 L854.9,864.0Z" fill="none" stroke="#00cdcd" stroke-width="1.6"/>
<path d="M881.9,824.5 L895.3,837.9 L881.9,851.3 L868.5,837.9Z" fill="none" stroke="#00cdcd" stroke-width="1.6"/>
<path d="M887.7,832.3 L901.1,845.7 L887.7,859.1 L874.3,845.7Z" fill="none" stroke="#00cdcd" stroke-width="1.6"/>
<path d="M891.6,814.8 L905.0,828.2 L891.6,841.6 L878.2,828.2Z" fill="none" stroke="#00cdcd" stroke-width="1.6"/>
<path d="M880.7,707.2 L894.1,720.6 L880.7,734.0 L867.3,720.6Z" fill="none" stroke="#00cdcd" stroke-width="1.6"/>
<path d="M913.0,812.7 L926.4,826.1 L913.0,839.5 L899.6,826.1Z" fill="none" stroke="#00cdcd" stroke-width="1.6"/>
<path d="M911.0,764.8 L924.4,778.2 L911.0,791.6 L897.6,778.2Z" fill="none" stroke="#00cdcd" stroke-width="1.6"/>
<path d="M917.9,785.8 L931.3,799.2 L917.9,812.6 L904.5,799.2Z" fill="none" stroke="#00cdcd" stroke-width="1.6"/>
<path d="M921.9,789.7 L935.3,803.1 L921.9,816.5 L908.5,803.1Z" fill="none" stroke="#00cdcd" stroke-width="1.6"/>
<path d="M925.9,791.7 L939.3,805.1 L925.9,818.5 L912.5,805.1Z" fill="none" stroke="#00cdcd" stroke-width="1.6"/>
<path d="M929.9,790.7 L943.3,804.1 L929.9,817.5 L916.5,804.1Z" fill="none" stroke="#00cdcd" stroke-width="1.6"/>
<path d="M924.9,753.9 L938.3,767.3 L924.9,780.7 L911.5,767.3Z" fill="none" stroke="#00cdcd" stroke-width="1.6"/>
<path d="M929.9,772.8 L943.3,786.2 L929.9,799.6 L916.5,786.2Z" fill="none" stroke="#00cdcd" stroke-width="1.6"/>
<path d="M926.9,701.0 L940.3,714.4 L926.9,727.8 L913.5,714.4Z" fill="none" stroke="#00cdcd" stroke-width="1.6"/>
<path d="M936.9,702.0 L950.3,715.4 L936.9,728.8 L923.5,715.4Z" fill="none" stroke="#00cdcd" stroke-width="1.6"/>
<path d="M938.9,727.9 L952.3,741.3 L938.9,754.7 L925.5,741.3Z" fill="none" stroke="#00cdcd" stroke-width="1.6"/>
<path d="M941.9,665.2 L955.3,678.6 L941.9,692.0 L928.5,678.6Z" fill="none" stroke="#00cdcd" stroke-width="1.6"/>
<path d="M943.9,774.8 L957.3,788.2 L943.9,801.6 L930.5,788.2Z" fill="none" stroke="#00cdcd" stroke-width="1.6"/>
<path d="M947.8,761.8 L961.2,775.2 L947.8,788.6 L934.4,775.2Z" fill="none" stroke="#00cdcd" stroke-width="1.6"/>
<path d="M950.8,767.8 L964.2,781.2 L950.8,794.6 L937.4,781.2Z" fill="none" stroke="#00cdcd" stroke-width="1.6"/>
<path d="M954.8,775.8 L968.2,789.2 L954.8,802.6 L941.4,789.2Z" fill="none" stroke="#00cdcd" stroke-width="1.6"/>
<path d="M957.8,765.8 L971.2,779.2 L957.8,792.6 L944.4,779.2Z" fill="none" stroke="#00cdcd" stroke-width="1.6"/>
<path d="M958.8,736.9 L972.2,750.3 L958.8,763.7 L945.4,750.3Z" fill="none" stroke="#00cdcd" stroke-width="1.6"/>
<path d="M963.8,745.9 L977.2,759.3 L963.8,772.7 L950.4,759.3Z" fill="none" stroke="#00cdcd" stroke-width="1.6"/>
<path d="M967.8,691.1 L981.2,704.5 L967.8,717.9 L954.4,704.5Z" fill="none" stroke="#00cdcd" stroke-width="1.6"/>
<path d="M968.8,690.1 L982.2,703.5 L968.8,716.9 L955.4,703.5Z" fill="none" stroke="#00cdcd" stroke-width="1.6"/>
<path d="M969.8,750.9 L983.2,764.3 L969.8,777.7 L956.4,764.3Z" fill="none" stroke="#00cdcd" stroke-width="1.6"/>
<path d="M972.8,753.9 L986.2,767.3 L972.8,780.7 L959.4,767.3Z" fill="none" stroke="#00cdcd" stroke-width="1.6"/>
<path d="M974.7,761.8 L988.1,775.2 L974.7,788.6 L961.3,775.2Z" fill="none" stroke="#00cdcd" stroke-width="1.6"/>
<path d="M979.7,747.9 L993.1,761.3 L979.7,774.7 L966.3,761.3Z" fill="none" stroke="#00cdcd" stroke-width="1.6"/>
<path d="M981.3,690.1 L994.7,703.5 L981.3,716.9 L967.9,703.5Z" fill="none" stroke="#00cdcd" stroke-width="1.6"/>
<path d="M1490.9,748.1 L1504.3,761.5 L1490.9,774.9 L1477.5,761.5Z" fill="none" stroke="#00cdcd" stroke-width="1.6"/>
<path d="M1493.3,715.4 L1506.7,728.8 L1493.3,742.2 L1479.9,728.8Z" fill="none" stroke="#00cdcd" stroke-width="1.6"/>
<path d="M1495.6,617.1 L1509.0,630.5 L1495.6,643.9 L1482.2,630.5Z" fill="none" stroke="#00cdcd" stroke-width="1.6"/>
<path d="M1500.3,661.8 L1513.7,675.2 L1500.3,688.6 L1486.9,675.2Z" fill="none" stroke="#00cdcd" stroke-width="1.6"/>
<path d="M1504.2,667.6 L1517.6,681.0 L1504.2,694.4 L1490.8,681.0Z" fill="none" stroke="#00cdcd" stroke-width="1.6"/>
<path d="M1505.3,681.2 L1518.7,694.6 L1505.3,708.0 L1491.9,694.6Z" fill="none" stroke="#00cdcd" stroke-width="1.6"/>
<path d="M1503.0,555.6 L1516.4,569.0 L1503.0,582.4 L1489.6,569.0Z" fill="none" stroke="#00cdcd" stroke-width="1.6"/>
<path d="M1510.4,493.0 L1523.8,506.4 L1510.4,519.8 L1497.0,506.4Z" fill="none" stroke="#00cdcd" stroke-width="1.6"/>
<path d="M1517.8,403.2 L1531.2,416.6 L1517.8,430.0 L1504.4,416.6Z" fill="none" stroke="#00cdcd" stroke-width="1.6"/>
<path d="M1520.5,584.0 L1533.9,597.4 L1520.5,610.8 L1507.1,597.4Z" fill="none" stroke="#00cdcd" stroke-width="1.6"/>
<path d="M1523.6,589.8 L1537.0,603.2 L1523.6,616.6 L1510.2,603.2Z" fill="none" stroke="#00cdcd" stroke-width="1.6"/>
<path d="M1524.8,609.3 L1538.2,622.7 L1524.8,636.1 L1511.4,622.7Z" fill="none" stroke="#00cdcd" stroke-width="1.6"/>
<path d="M1531.4,617.1 L1544.8,630.5 L1531.4,643.9 L1518.0,630.5Z" fill="none" stroke="#00cdcd" stroke-width="1.6"/>
<path d="M1533.3,628.7 L1546.7,642.1 L1533.3,655.5 L1519.9,642.1Z" fill="none" stroke="#00cdcd" stroke-width="1.6"/>
<path d="M1527.5,644.3 L1540.9,657.7 L1527.5,671.1 L1514.1,657.7Z" fill="none" stroke="#00cdcd" stroke-width="1.6"/>
<path d="M1537.2,638.4 L1550.6,651.8 L1537.2,665.2 L1523.8,651.8Z" fill="none" stroke="#00cdcd" stroke-width="1.6"/>
<path d="M1541.9,644.3 L1555.3,657.7 L1541.9,671.1 L1528.5,657.7Z" fill="none" stroke="#00cdcd" stroke-width="1.6"/>
<path d="M1546.9,648.2 L1560.3,661.6 L1546.9,675.0 L1533.5,661.6Z" fill="none" stroke="#00cdcd" stroke-width="1.6"/>
<path d="M1548.9,659.0 L1562.3,672.4 L1548.9,685.8 L1535.5,672.4Z" fill="none" stroke="#00cdcd" stroke-width="1.6"/>
<path d="M1552.0,547.1 L1565.4,560.5 L1552.0,573.9 L1538.6,560.5Z" fill="none" stroke="#00cdcd" stroke-width="1.6"/>
<path d="M1556.6,681.2 L1570.0,694.6 L1556.6,708.0 L1543.2,694.6Z" fill="none" stroke="#00cdcd" stroke-width="1.6"/>
<path d="M1561.3,685.1 L1574.7,698.5 L1561.3,711.9 L1547.9,698.5Z" fill="none" stroke="#00cdcd" stroke-width="1.6"/>
<path d="M1566.4,692.9 L1579.8,706.3 L1566.4,719.7 L1553.0,706.3Z" fill="none" stroke="#00cdcd" stroke-width="1.6"/>
<path d="M1572.2,700.6 L1585.6,714.0 L1572.2,727.4 L1558.8,714.0Z" fill="none" stroke="#00cdcd" stroke-width="1.6"/>
<path d="M1574.1,706.5 L1587.5,719.9 L1574.1,733.3 L1560.7,719.9Z" fill="none" stroke="#00cdcd" stroke-width="1.6"/>
<path d="M1578.0,669.5 L1591.4,682.9 L1578.0,696.3 L1564.6,682.9Z" fill="none" stroke="#00cdcd" stroke-width="1.6"/>
<path d="M1581.9,652.0 L1595.3,665.4 L1581.9,678.8 L1568.5,665.4Z" fill="none" stroke="#00cdcd" stroke-width="1.6"/>
<path d="M1585.8,657.9 L1599.2,671.3 L1585.8,684.7 L1572.4,671.3Z" fill="none" stroke="#00cdcd" stroke-width="1.6"/>
<path d="M1583.9,706.5 L1597.3,719.9 L1583.9,733.3 L1570.5,719.9Z" fill="none" stroke="#00cdcd" stroke-width="1.6"/>
<path d="M1590.9,427.3 L1604.3,440.7 L1590.9,454.1 L1577.5,440.7Z" fill="none" stroke="#00cdcd" stroke-width="1.6"/>
<path d="M1593.6,707.3 L1607.0,720.7 L1593.6,734.1 L1580.2,720.7Z" fill="none" stroke="#00cdcd" stroke-width="1.6"/>
<path d="M1597.5,675.4 L1610.9,688.8 L1597.5,702.2 L1584.1,688.8Z" fill="none" stroke="#00cdcd" stroke-width="1.6"/>
<path d="M1600.6,626.8 L1614.0,640.2 L1600.6,653.6 L1587.2,640.2Z" fill="none" stroke="#00cdcd" stroke-width="1.6"/>
<path d="M1615.0,661.8 L1628.4,675.2 L1615.0,688.6 L1601.6,675.2Z" fill="none" stroke="#00cdcd" stroke-width="1.6"/>
<path d="M1620.8,669.5 L1634.2,682.9 L1620.8,696.3 L1607.4,682.9Z" fill="none" stroke="#00cdcd" stroke-width="1.6"/>
<path d="M1625.8,673.4 L1639.2,686.8 L1625.8,700.2 L1612.4,686.8Z" fill="none" stroke="#00cdcd" stroke-width="1.6"/>
<path d="M1630.5,490.7 L1643.9,504.1 L1630.5,517.5 L1617.1,504.1Z" fill="none" stroke="#00cdcd" stroke-width="1.6"/>
<path d="M1635.2,605.4 L1648.6,618.8 L1635.2,632.2 L1621.8,618.8Z" fill="none" stroke="#00cdcd" stroke-width="1.6"/>
<path d="M1637.5,454.5 L1650.9,467.9 L1637.5,481.3 L1624.1,467.9Z" fill="none" stroke="#00cdcd" stroke-width="1.6"/>
<path d="M1639.8,472.4 L1653.2,485.8 L1639.8,499.2 L1626.4,485.8Z" fill="none" stroke="#00cdcd" stroke-width="1.6"/>
<path d="M1642.6,561.8 L1656.0,575.2 L1642.6,588.6 L1629.2,575.2Z" fill="none" stroke="#00cdcd" stroke-width="1.6"/>
<path d="M1646.1,637.3 L1659.5,650.7 L1646.1,664.1 L1632.7,650.7Z" fill="none" stroke="#00cdcd" stroke-width="1.6"/>
<path d="M1650.0,655.9 L1663.4,669.3 L1650.0,682.7 L1636.6,669.3Z" fill="none" stroke="#00cdcd" stroke-width="1.6"/>
<path d="M1653.1,652.0 L1666.5,665.4 L1653.1,678.8 L1639.7,665.4Z" fill="none" stroke="#00cdcd" stroke-width="1.6"/>
<path d="M1655.0,192.5 L1668.4,205.9 L1655.0,219.3 L1641.6,205.9Z" fill="none" stroke="#00cdcd" stroke-width="1.6"/>
<path d="M1657.7,632.6 L1671.1,646.0 L1657.7,659.4 L1644.3,646.0Z" fill="none" stroke="#00cdcd" stroke-width="1.6"/>
<path d="M1661.6,650.1 L1675.0,663.5 L1661.6,676.9 L1648.2,663.5Z" fill="none" stroke="#00cdcd" stroke-width="1.6"/>
<path d="M1663.6,630.7 L1677.0,644.1 L1663.6,657.5 L1650.2,644.1Z" fill="none" stroke="#00cdcd" stroke-width="1.6"/>
<path d="M1666.3,597.6 L1679.7,611.0 L1666.3,624.4 L1652.9,611.0Z" fill="none" stroke="#00cdcd" stroke-width="1.6"/>
<path d="M1669.4,540.1 L1682.8,553.5 L1669.4,566.9 L1656.0,553.5Z" fill="none" stroke="#00cdcd" stroke-width="1.6"/>
<path d="M1673.3,607.3 L1686.7,620.7 L1673.3,634.1 L1659.9,620.7Z" fill="none" stroke="#00cdcd" stroke-width="1.6"/>
<path d="M1675.2,634.5 L1688.6,647.9 L1675.2,661.3 L1661.8,647.9Z" fill="none" stroke="#00cdcd" stroke-width="1.6"/>
<path d="M1679.1,640.4 L1692.5,653.8 L1679.1,667.2 L1665.7,653.8Z" fill="none" stroke="#00cdcd" stroke-width="1.6"/>
<path d="M1683.0,648.2 L1696.4,661.6 L1683.0,675.0 L1669.6,661.6Z" fill="none" stroke="#00cdcd" stroke-width="1.6"/>
<path d="M1684.9,636.5 L1698.3,649.9 L1684.9,663.3 L1671.5,649.9Z" fill="none" stroke="#00cdcd" stroke-width="1.6"/>
<path d="M1688.8,652.0 L1702.2,665.4 L1688.8,678.8 L1675.4,665.4Z" fill="none" stroke="#00cdcd" stroke-width="1.6"/>
<path d="M1691.9,624.8 L1705.3,638.2 L1691.9,651.6 L1678.5,638.2Z" fill="none" stroke="#00cdcd" stroke-width="1.6"/>
<path d="M1694.7,657.9 L1708.1,671.3 L1694.7,684.7 L1681.3,671.3Z" fill="none" stroke="#00cdcd" stroke-width="1.6"/>
<path d="M1698.6,661.8 L1712.0,675.2 L1698.6,688.6 L1685.2,675.2Z" fill="none" stroke="#00cdcd" stroke-width="1.6"/>
<path d="M1696.6,659.8 L1710.0,673.2 L1696.6,686.6 L1683.2,673.2Z" fill="none" stroke="#00cdcd" stroke-width="1.6"/>
<path d="M744.2,617.3 L757.6,630.7 L744.2,644.1 L730.8,630.7Z" fill="none" stroke="#00cdcd" stroke-width="1.6"/>
<path d="M733.0,625.7 L746.4,639.1 L733.0,652.5 L719.6,639.1Z" fill="none" stroke="#00cdcd" stroke-width="1.6"/>
<path d="M745.6,627.1 L759.0,640.5 L745.6,653.9 L732.2,640.5Z" fill="none" stroke="#00cdcd" stroke-width="1.6"/>
<path d="M770.7,624.3 L784.1,637.7 L770.7,651.1 L757.3,637.7Z" fill="none" stroke="#00cdcd" stroke-width="1.6"/>
<path d="M784.6,614.5 L798.0,627.9 L784.6,641.3 L771.2,627.9Z" fill="none" stroke="#00cdcd" stroke-width="1.6"/>
<path d="M791.6,588.0 L805.0,601.4 L791.6,614.8 L778.2,601.4Z" fill="none" stroke="#00cdcd" stroke-width="1.6"/>
<path d="M759.5,642.4 L772.9,655.8 L759.5,669.2 L746.1,655.8Z" fill="none" stroke="#00cdcd" stroke-width="1.6"/>
<path d="M751.2,648.0 L764.6,661.4 L751.2,674.8 L737.8,661.4Z" fill="none" stroke="#00cdcd" stroke-width="1.6"/>
<path d="M722.6,652.2 L736.0,665.6 L722.6,679.0 L709.2,665.6Z" fill="none" stroke="#00cdcd" stroke-width="1.6"/>
<path d="M727.4,661.2 L740.8,674.6 L727.4,688.0 L714.0,674.6Z" fill="none" stroke="#00cdcd" stroke-width="1.6"/>
<path d="M731.6,714.3 L745.0,727.7 L731.6,741.1 L718.2,727.7Z" fill="none" stroke="#00cdcd" stroke-width="1.6"/>
<path d="M172.5,573.2 L185.9,586.6 L172.5,600.0 L159.1,586.6Z" fill="none" stroke="#ff0000" stroke-width="1.6"/>
<path d="M179.1,589.5 L192.5,602.9 L179.1,616.3 L165.7,602.9Z" fill="none" stroke="#ff0000" stroke-width="1.6"/>
<path d="M379.2,386.3 L392.6,399.7 L379.2,413.1 L365.8,399.7Z" fill="none" stroke="#ff0000" stroke-width="1.6"/>
<path d="M435.5,195.6 L448.9,209.0 L435.5,222.4 L422.1,209.0Z" fill="none" stroke="#ff0000" stroke-width="1.6"/>
<path d="M477.1,412.3 L490.5,425.7 L477.1,439.1 L463.7,425.7Z" fill="none" stroke="#ff0000" stroke-width="1.6"/>
<path d="M479.4,480.7 L492.8,494.1 L479.4,507.5 L466.0,494.1Z" fill="none" stroke="#ff0000" stroke-width="1.6"/>
<path d="M578.9,747.6 L592.3,761.0 L578.9,774.4 L565.5,761.0Z" fill="none" stroke="#ff0000" stroke-width="1.6"/>
<path d="M589.7,687.4 L603.1,700.8 L589.7,714.2 L576.3,700.8Z" fill="none" stroke="#ff0000" stroke-width="1.6"/>
<path d="M648.8,641.9 L662.2,655.3 L648.8,668.7 L635.4,655.3Z" fill="none" stroke="#ff0000" stroke-width="1.6"/>
<path d="M656.6,476.0 L670.0,489.4 L656.6,502.8 L643.2,489.4Z" fill="none" stroke="#ff0000" stroke-width="1.6"/>
<path d="M666.3,577.1 L679.7,590.5 L666.3,603.9 L652.9,590.5Z" fill="none" stroke="#ff0000" stroke-width="1.6"/>
<path d="M670.1,625.2 L683.5,638.6 L670.1,652.0 L656.7,638.6Z" fill="none" stroke="#ff0000" stroke-width="1.6"/>
<path d="M701.2,610.9 L714.6,624.3 L701.2,637.7 L687.8,624.3Z" fill="none" stroke="#ff0000" stroke-width="1.6"/>
<path d="M729.6,713.8 L743.0,727.2 L729.6,740.6 L716.2,727.2Z" fill="none" stroke="#ff0000" stroke-width="1.6"/>
<path d="M762.6,535.1 L776.0,548.5 L762.6,561.9 L749.2,548.5Z" fill="none" stroke="#ff0000" stroke-width="1.6"/>
<path d="M782.8,459.3 L796.2,472.7 L782.8,486.1 L769.4,472.7Z" fill="none" stroke="#ff0000" stroke-width="1.6"/>
<path d="M951.8,668.2 L965.2,681.6 L951.8,695.0 L938.4,681.6Z" fill="none" stroke="#ff0000" stroke-width="1.6"/>
<path d="M1699.3,598.8 L1712.7,612.2 L1699.3,625.6 L1685.9,612.2Z" fill="none" stroke="#ff0000" stroke-width="1.6"/>
</g>
<path d="M153.2,943.0 V162.2 H1717.9" fill="none" stroke="#7d7d7d" stroke-width="2"/>
<path d="M152.2,942.0 H1716.9 V161.2" fill="none" stroke="#333" stroke-width="2.2"/>
<line x1="146.7" y1="808.7" x2="153.2" y2="808.7" stroke="#333" stroke-width="2.1" />
<text transform="translate(142.4,823.9) scale(1,1.05)" font-size="41.85" text-anchor="end">100</text>
<line x1="146.7" y1="576.9" x2="153.2" y2="576.9" stroke="#333" stroke-width="2.1" />
<text transform="translate(142.4,592.1) scale(1,1.05)" font-size="41.85" text-anchor="end">150</text>
<line x1="146.7" y1="345.0" x2="153.2" y2="345.0" stroke="#333" stroke-width="2.1" />
<text transform="translate(142.4,360.2) scale(1,1.05)" font-size="41.85" text-anchor="end">200</text>
<line x1="715.9" y1="942.0" x2="715.9" y2="948.5" stroke="#333" stroke-width="2.1" />
<text transform="translate(716.2,983.3) scale(1,1.05)" font-size="41.85" text-anchor="middle">01-2022</text>
<line x1="1312.5" y1="942.0" x2="1312.5" y2="948.5" stroke="#333" stroke-width="2.1" />
<text transform="translate(1312.8,983.3) scale(1,1.05)" font-size="41.85" text-anchor="middle">01-2024</text>
<text transform="translate(45.8,552.0) rotate(-90)" font-size="41.85" text-anchor="middle">CO [ppb]</text>
<path d="M593.0,1015.0 L600.6,1022.6 L593.0,1030.2 L585.4,1022.6Z" fill="none" stroke="#00cdcd" stroke-width="1.7"/>
<path d="M593.0,1050.6 L600.6,1058.2 L593.0,1065.8 L585.4,1058.2Z" fill="none" stroke="#ff0000" stroke-width="1.7"/>
<text x="652.5" y="1038.0" font-size="42.1" text-anchor="start" fill="#000" >std&lt;5ppb</text>
<text x="652.5" y="1072.6" font-size="42.1" text-anchor="start" fill="#000" >std&gt;5ppb</text>
<circle cx="885.6" cy="1022.6" r="5.5" fill="#a020f0"/>
<line x1="837.7" y1="1058.2" x2="933.9" y2="1058.2" stroke="#000" stroke-width="8.3" />
<circle cx="885.6" cy="1058.2" r="5.6" fill="#000"/>
<text x="945.0" y="1038.0" font-size="42.1" text-anchor="start" fill="#000" >&lt;50min in-situ</text>
<text x="946.0" y="1072.6" font-size="42.1" text-anchor="start" fill="#000" >in-situ</text>
<line x1="153.2" y1="1253.7" x2="1716.9" y2="1253.7" stroke="#f2f2f2" stroke-width="1.3" />
<line x1="153.2" y1="1448.7" x2="1716.9" y2="1448.7" stroke="#f2f2f2" stroke-width="1.3" />
<line x1="153.2" y1="1643.6" x2="1716.9" y2="1643.6" stroke="#f2f2f2" stroke-width="1.3" />
<line x1="153.2" y1="1838.6" x2="1716.9" y2="1838.6" stroke="#f2f2f2" stroke-width="1.3" />
<line x1="153.2" y1="1156.2" x2="1716.9" y2="1156.2" stroke="#ebebeb" stroke-width="2.4" />
<line x1="153.2" y1="1351.2" x2="1716.9" y2="1351.2" stroke="#ebebeb" stroke-width="2.4" />
<line x1="153.2" y1="1546.2" x2="1716.9" y2="1546.2" stroke="#ebebeb" stroke-width="2.4" />
<line x1="153.2" y1="1741.1" x2="1716.9" y2="1741.1" stroke="#ebebeb" stroke-width="2.4" />
<line x1="153.2" y1="1936.1" x2="1716.9" y2="1936.1" stroke="#ebebeb" stroke-width="2.4" />
<line x1="715.9" y1="1117.8" x2="715.9" y2="1974.8" stroke="#c9c9c9" stroke-width="2.6" />
<line x1="1312.5" y1="1117.8" x2="1312.5" y2="1974.8" stroke="#c9c9c9" stroke-width="2.6" />
<g id="p2data">
<g fill="#a020f0"><circle cx="371.5" cy="1271.7" r="8"/><circle cx="339.8" cy="1408.6" r="8"/><circle cx="373.6" cy="1410.4" r="8"/><circle cx="352.0" cy="1465.8" r="8"/><circle cx="349.4" cy="1493.6" r="8"/><circle cx="224.5" cy="1536.5" r="8"/><circle cx="589.5" cy="1527.4" r="8"/><circle cx="609.4" cy="1525.2" r="8"/><circle cx="195.1" cy="1586.7" r="8"/><circle cx="303.0" cy="1580.7" r="8"/><circle cx="391.0" cy="1576.3" r="8"/><circle cx="246.6" cy="1620.6" r="8"/><circle cx="386.2" cy="1614.9" r="8"/><circle cx="554.8" cy="1601.9" r="8"/><circle cx="628.5" cy="1601.1" r="8"/><circle cx="636.3" cy="1629.2" r="8"/><circle cx="523.6" cy="1634.4" r="8"/><circle cx="604.2" cy="1644.0" r="8"/><circle cx="202.4" cy="1652.2" r="8"/><circle cx="226.7" cy="1666.1" r="8"/><circle cx="248.8" cy="1672.1" r="8"/><circle cx="378.8" cy="1669.1" r="8"/><circle cx="493.7" cy="1672.1" r="8"/><circle cx="481.6" cy="1683.4" r="8"/><circle cx="553.1" cy="1678.6" r="8"/><circle cx="616.3" cy="1670.8" r="8"/><circle cx="180.3" cy="1687.7" r="8"/><circle cx="266.2" cy="1695.1" r="8"/><circle cx="525.8" cy="1686.4" r="8"/><circle cx="531.0" cy="1697.7" r="8"/><circle cx="344.2" cy="1701.6" r="8"/><circle cx="192.5" cy="1712.9" r="8"/><circle cx="244.0" cy="1710.7" r="8"/><circle cx="270.9" cy="1715.0" r="8"/><circle cx="400.9" cy="1712.4" r="8"/><circle cx="483.7" cy="1704.6" r="8"/><circle cx="560.0" cy="1699.4" r="8"/><circle cx="562.6" cy="1711.6" r="8"/><circle cx="596.4" cy="1692.9" r="8"/><circle cx="601.6" cy="1699.4" r="8"/><circle cx="613.7" cy="1708.1" r="8"/><circle cx="619.4" cy="1715.9" r="8"/><circle cx="632.4" cy="1694.2" r="8"/><circle cx="650.6" cy="1698.6" r="8"/><circle cx="177.7" cy="1724.1" r="8"/><circle cx="415.7" cy="1723.7" r="8"/><circle cx="420.4" cy="1736.3" r="8"/><circle cx="432.6" cy="1740.6" r="8"/><circle cx="490.2" cy="1722.0" r="8"/><circle cx="496.7" cy="1720.2" r="8"/><circle cx="581.7" cy="1716.8" r="8"/><circle cx="593.8" cy="1722.0" r="8"/><circle cx="606.8" cy="1722.0" r="8"/><circle cx="622.4" cy="1728.5" r="8"/><circle cx="657.1" cy="1718.9" r="8"/><circle cx="665.8" cy="1725.4" r="8"/><circle cx="204.6" cy="1734.1" r="8"/><circle cx="305.2" cy="1742.8" r="8"/><circle cx="329.9" cy="1751.0" r="8"/><circle cx="466.8" cy="1735.4" r="8"/><circle cx="465.1" cy="1739.7" r="8"/><circle cx="541.8" cy="1741.5" r="8"/><circle cx="569.5" cy="1740.6" r="8"/><circle cx="586.9" cy="1741.5" r="8"/><circle cx="591.2" cy="1731.1" r="8"/><circle cx="646.7" cy="1731.9" r="8"/><circle cx="648.4" cy="1736.3" r="8"/><circle cx="179.5" cy="1763.1" r="8"/><circle cx="238.8" cy="1762.3" r="8"/><circle cx="251.9" cy="1756.2" r="8"/><circle cx="397.9" cy="1765.7" r="8"/><circle cx="404.4" cy="1768.8" r="8"/><circle cx="446.9" cy="1762.7" r="8"/><circle cx="486.8" cy="1760.1" r="8"/><circle cx="521.0" cy="1767.5" r="8"/><circle cx="535.7" cy="1760.1" r="8"/><circle cx="538.8" cy="1766.6" r="8"/><circle cx="547.4" cy="1770.5" r="8"/><circle cx="544.8" cy="1776.1" r="8"/><circle cx="574.7" cy="1768.8" r="8"/><circle cx="625.9" cy="1768.8" r="8"/><circle cx="638.9" cy="1763.6" r="8"/><circle cx="663.6" cy="1749.3" r="8"/><circle cx="469.9" cy="1770.1" r="8"/><circle cx="471.6" cy="1777.4" r="8"/><circle cx="454.7" cy="1776.6" r="8"/><circle cx="459.5" cy="1786.1" r="8"/><circle cx="387.9" cy="1784.8" r="8"/><circle cx="491.5" cy="1784.8" r="8"/><circle cx="505.8" cy="1793.9" r="8"/><circle cx="550.0" cy="1793.5" r="8"/><circle cx="611.6" cy="1782.2" r="8"/><circle cx="169.1" cy="1791.7" r="8"/><circle cx="287.8" cy="1793.9" r="8"/><circle cx="231.5" cy="1802.6" r="8"/><circle cx="428.2" cy="1793.0" r="8"/><circle cx="435.2" cy="1793.0" r="8"/><circle cx="584.7" cy="1791.3" r="8"/><circle cx="578.2" cy="1796.1" r="8"/><circle cx="572.6" cy="1801.3" r="8"/><circle cx="565.2" cy="1809.5" r="8"/><circle cx="176.0" cy="1808.7" r="8"/><circle cx="283.5" cy="1814.3" r="8"/><circle cx="322.5" cy="1809.5" r="8"/><circle cx="449.9" cy="1813.0" r="8"/><circle cx="221.9" cy="1820.8" r="8"/><circle cx="182.9" cy="1825.1" r="8"/><circle cx="200.3" cy="1830.3" r="8"/><circle cx="394.4" cy="1823.0" r="8"/><circle cx="417.8" cy="1824.3" r="8"/><circle cx="412.2" cy="1829.5" r="8"/><circle cx="407.9" cy="1832.5" r="8"/><circle cx="179.0" cy="1834.7" r="8"/><circle cx="173.0" cy="1846.8" r="8"/><circle cx="182.5" cy="1844.6" r="8"/><circle cx="191.2" cy="1848.1" r="8"/><circle cx="212.4" cy="1843.3" r="8"/><circle cx="307.8" cy="1843.3" r="8"/><circle cx="383.2" cy="1837.7" r="8"/><circle cx="410.0" cy="1838.1" r="8"/><circle cx="427.8" cy="1841.6" r="8"/><circle cx="452.5" cy="1839.0" r="8"/><circle cx="228.9" cy="1855.5" r="8"/><circle cx="293.0" cy="1853.7" r="8"/><circle cx="310.4" cy="1858.9" r="8"/><circle cx="313.8" cy="1864.1" r="8"/><circle cx="405.7" cy="1852.0" r="8"/><circle cx="396.2" cy="1863.7" r="8"/><circle cx="457.3" cy="1851.1" r="8"/><circle cx="474.2" cy="1862.0" r="8"/><circle cx="513.6" cy="1855.5" r="8"/><circle cx="332.5" cy="1880.6" r="8"/><circle cx="442.5" cy="1877.1" r="8"/><circle cx="508.9" cy="1876.3" r="8"/><circle cx="516.2" cy="1875.0" r="8"/><circle cx="461.6" cy="1891.9" r="8"/><circle cx="479.0" cy="1900.1" r="8"/><circle cx="511.5" cy="1896.6" r="8"/><circle cx="174.7" cy="1913.1" r="8"/><circle cx="256.2" cy="1911.8" r="8"/><circle cx="236.7" cy="1923.9" r="8"/><circle cx="261.8" cy="1923.1" r="8"/><circle cx="280.9" cy="1927.0" r="8"/><circle cx="298.2" cy="1918.7" r="8"/><circle cx="320.3" cy="1920.9" r="8"/><circle cx="501.5" cy="1924.8" r="8"/><circle cx="177.3" cy="1930.0" r="8"/><circle cx="667.9" cy="1888.8" r="8"/><circle cx="706.0" cy="1644.0" r="8"/><circle cx="709.5" cy="1651.8" r="8"/><circle cx="719.0" cy="1663.5" r="8"/><circle cx="728.5" cy="1699.9" r="8"/><circle cx="762.3" cy="1687.7" r="8"/><circle cx="703.8" cy="1723.3" r="8"/><circle cx="713.8" cy="1742.3" r="8"/><circle cx="716.4" cy="1758.8" r="8"/><circle cx="748.0" cy="1760.5" r="8"/><circle cx="760.2" cy="1739.7" r="8"/><circle cx="733.3" cy="1781.3" r="8"/><circle cx="723.3" cy="1790.9" r="8"/><circle cx="742.8" cy="1788.3" r="8"/><circle cx="745.9" cy="1789.6" r="8"/><circle cx="755.8" cy="1796.1" r="8"/><circle cx="725.9" cy="1808.7" r="8"/><circle cx="721.2" cy="1831.6" r="8"/><circle cx="731.1" cy="1832.1" r="8"/><circle cx="752.8" cy="1844.6" r="8"/><circle cx="711.2" cy="1856.8" r="8"/><circle cx="767.5" cy="1853.7" r="8"/><circle cx="750.6" cy="1862.8" r="8"/><circle cx="740.7" cy="1867.6" r="8"/><circle cx="735.0" cy="1869.3" r="8"/><circle cx="758.0" cy="1884.1" r="8"/><circle cx="774.9" cy="1881.5" r="8"/><circle cx="764.9" cy="1895.3" r="8"/><circle cx="797.0" cy="1883.6" r="8"/><circle cx="784.5" cy="1899.7" r="8"/><circle cx="777.5" cy="1909.6" r="8"/><circle cx="738.5" cy="1917.0" r="8"/><circle cx="836.0" cy="1601.9" r="8"/><circle cx="804.4" cy="1639.2" r="8"/><circle cx="823.9" cy="1672.6" r="8"/><circle cx="829.5" cy="1677.8" r="8"/><circle cx="831.7" cy="1683.4" r="8"/><circle cx="790.1" cy="1757.1" r="8"/><circle cx="806.6" cy="1764.4" r="8"/><circle cx="817.0" cy="1767.5" r="8"/><circle cx="819.6" cy="1750.6" r="8"/><circle cx="827.4" cy="1751.4" r="8"/><circle cx="833.9" cy="1770.9" r="8"/><circle cx="793.6" cy="1793.9" r="8"/><circle cx="787.5" cy="1808.7" r="8"/><circle cx="773.2" cy="1820.8" r="8"/><circle cx="770.1" cy="1823.0" r="8"/><circle cx="799.2" cy="1820.8" r="8"/><circle cx="807.9" cy="1823.0" r="8"/><circle cx="821.3" cy="1818.6" r="8"/><circle cx="780.6" cy="1832.9" r="8"/><circle cx="784.0" cy="1832.9" r="8"/><circle cx="812.2" cy="1832.5" r="8"/><circle cx="814.4" cy="1851.1" r="8"/><circle cx="880.2" cy="1673.9" r="8"/><circle cx="887.6" cy="1692.1" r="8"/><circle cx="882.4" cy="1723.3" r="8"/><circle cx="877.2" cy="1736.3" r="8"/><circle cx="892.4" cy="1737.6" r="8"/><circle cx="870.7" cy="1747.1" r="8"/><circle cx="867.7" cy="1774.4" r="8"/><circle cx="875.9" cy="1774.4" r="8"/><circle cx="865.9" cy="1786.1" r="8"/><circle cx="890.2" cy="1803.5" r="8"/><circle cx="872.9" cy="1817.3" r="8"/><circle cx="885.4" cy="1852.4" r="8"/><circle cx="922.3" cy="1658.3" r="8"/><circle cx="931.8" cy="1682.5" r="8"/><circle cx="916.6" cy="1723.3" r="8"/><circle cx="914.5" cy="1799.1" r="8"/><circle cx="910.6" cy="1830.3" r="8"/><circle cx="912.7" cy="1840.3" r="8"/><circle cx="924.4" cy="1854.6" r="8"/><circle cx="927.0" cy="1891.0" r="8"/><circle cx="951.3" cy="1886.7" r="8"/><circle cx="948.7" cy="1670.4" r="8"/><circle cx="941.3" cy="1715.5" r="8"/><circle cx="937.4" cy="1722.4" r="8"/><circle cx="929.2" cy="1731.9" r="8"/><circle cx="953.0" cy="1731.1" r="8"/><circle cx="964.7" cy="1731.1" r="8"/><circle cx="943.5" cy="1747.1" r="8"/><circle cx="936.6" cy="1757.1" r="8"/><circle cx="947.0" cy="1755.8" r="8"/><circle cx="966.0" cy="1759.7" r="8"/><circle cx="971.2" cy="1788.3" r="8"/><circle cx="956.5" cy="1802.6" r="8"/><circle cx="958.7" cy="1814.3" r="8"/><circle cx="973.8" cy="1814.3" r="8"/><circle cx="968.6" cy="1628.4" r="8"/><circle cx="978.6" cy="1691.6" r="8"/><circle cx="981.2" cy="1744.1" r="8"/><circle cx="693.9" cy="1715.5" r="8"/><circle cx="696.5" cy="1754.5" r="8"/><circle cx="1639.9" cy="1175.0" r="8"/><circle cx="1578.8" cy="1260.4" r="8"/><circle cx="1549.3" cy="1274.7" r="8"/><circle cx="1586.2" cy="1574.6" r="8"/><circle cx="1529.4" cy="1587.6" r="8"/><circle cx="1500.4" cy="1603.7" r="8"/><circle cx="1527.2" cy="1614.1" r="8"/><circle cx="1593.1" cy="1614.9" r="8"/><circle cx="1534.6" cy="1635.3" r="8"/><circle cx="1546.7" cy="1635.3" r="8"/><circle cx="1647.7" cy="1640.5" r="8"/><circle cx="1507.3" cy="1653.1" r="8"/><circle cx="1649.9" cy="1660.4" r="8"/><circle cx="1635.6" cy="1669.1" r="8"/><circle cx="1522.9" cy="1673.4" r="8"/><circle cx="1542.0" cy="1671.3" r="8"/><circle cx="1573.6" cy="1669.1" r="8"/><circle cx="1525.1" cy="1687.7" r="8"/><circle cx="1544.6" cy="1685.6" r="8"/><circle cx="1551.1" cy="1684.3" r="8"/><circle cx="1559.7" cy="1682.1" r="8"/><circle cx="1567.5" cy="1679.9" r="8"/><circle cx="1576.2" cy="1690.8" r="8"/><circle cx="1539.8" cy="1697.3" r="8"/><circle cx="1581.4" cy="1700.3" r="8"/><circle cx="1505.1" cy="1699.0" r="8"/><circle cx="1637.7" cy="1693.8" r="8"/><circle cx="1600.9" cy="1705.5" r="8"/><circle cx="1620.4" cy="1708.5" r="8"/><circle cx="1659.8" cy="1720.2" r="8"/><circle cx="1630.4" cy="1727.6" r="8"/><circle cx="1616.1" cy="1739.3" r="8"/><circle cx="1503.0" cy="1734.1" r="8"/><circle cx="1519.9" cy="1732.4" r="8"/><circle cx="1532.0" cy="1745.4" r="8"/><circle cx="1490.8" cy="1751.9" r="8"/><circle cx="1510.3" cy="1751.0" r="8"/><circle cx="1495.2" cy="1766.6" r="8"/><circle cx="1517.7" cy="1770.1" r="8"/><circle cx="1556.7" cy="1773.1" r="8"/><circle cx="1590.9" cy="1754.9" r="8"/><circle cx="1598.3" cy="1771.8" r="8"/><circle cx="1596.1" cy="1788.7" r="8"/><circle cx="1583.6" cy="1806.5" r="8"/><circle cx="1645.1" cy="1764.9" r="8"/><circle cx="1493.0" cy="1823.8" r="8"/><circle cx="1625.6" cy="1827.7" r="8"/><circle cx="1666.8" cy="1779.6" r="8"/><circle cx="1671.5" cy="1790.4" r="8"/><circle cx="1688.9" cy="1786.1" r="8"/><circle cx="1694.1" cy="1799.1" r="8"/><circle cx="1662.0" cy="1806.9" r="8"/><circle cx="1674.6" cy="1807.8" r="8"/><circle cx="1681.1" cy="1810.0" r="8"/><circle cx="1687.6" cy="1805.6" r="8"/><circle cx="1678.9" cy="1817.3" r="8"/><circle cx="1681.9" cy="1835.1" r="8"/><circle cx="1691.1" cy="1759.2" r="8"/><circle cx="1697.1" cy="1757.1" r="8"/><circle cx="1642.1" cy="1878.4" r="8"/><circle cx="1664.6" cy="1880.2" r="8"/><circle cx="1669.4" cy="1907.9" r="8"/></g>
<g fill="#a9a9a9"><circle cx="170.8" cy="1936.1" r="8.1"/><circle cx="176.0" cy="1936.1" r="8.1"/><circle cx="188.1" cy="1936.1" r="8.1"/><circle cx="215.9" cy="1936.1" r="8.1"/><circle cx="221.5" cy="1936.1" r="8.1"/><circle cx="234.5" cy="1936.1" r="8.1"/><circle cx="253.2" cy="1936.1" r="8.1"/><circle cx="259.2" cy="1936.1" r="8.1"/><circle cx="272.2" cy="1936.1" r="8.1"/><circle cx="276.6" cy="1936.1" r="8.1"/><circle cx="289.6" cy="1936.1" r="8.1"/><circle cx="300.4" cy="1936.1" r="8.1"/><circle cx="326.8" cy="1936.1" r="8.1"/><circle cx="341.6" cy="1936.1" r="8.1"/><circle cx="347.2" cy="1936.1" r="8.1"/><circle cx="375.4" cy="1936.1" r="8.1"/><circle cx="381.9" cy="1936.1" r="8.1"/><circle cx="422.2" cy="1936.1" r="8.1"/><circle cx="427.4" cy="1936.1" r="8.1"/><circle cx="439.5" cy="1936.1" r="8.1"/><circle cx="445.6" cy="1936.1" r="8.1"/><circle cx="477.2" cy="1936.1" r="8.1"/><circle cx="566.9" cy="1936.1" r="8.1"/><circle cx="579.9" cy="1936.1" r="8.1"/><circle cx="639.7" cy="1936.1" r="8.1"/><circle cx="644.1" cy="1936.1" r="8.1"/><circle cx="699.6" cy="1936.1" r="8.1"/><circle cx="701.7" cy="1936.1" r="8.1"/><circle cx="1651.6" cy="1936.1" r="8.1"/><circle cx="1655.9" cy="1936.1" r="8.1"/><circle cx="1698.9" cy="1936.1" r="8.1"/></g>
<g fill="#00cdcd"><circle cx="654.9" cy="1664.8" r="8"/><circle cx="672.3" cy="1682.1" r="8"/><circle cx="685.3" cy="1673.4" r="8"/><circle cx="687.4" cy="1679.9" r="8"/><circle cx="660.1" cy="1708.1" r="8"/><circle cx="682.2" cy="1719.4" r="8"/><circle cx="691.8" cy="1735.0" r="8"/><circle cx="689.6" cy="1757.9" r="8"/><circle cx="664.9" cy="1770.9" r="8"/><circle cx="674.4" cy="1775.3" r="8"/><circle cx="679.6" cy="1778.7" r="8"/><circle cx="652.3" cy="1784.4" r="8"/><circle cx="657.1" cy="1801.7" r="8"/><circle cx="667.1" cy="1906.6" r="8"/></g>
<g fill="#ff0000"><circle cx="669.7" cy="1832.1" r="8"/></g>
<line x1="153.2" y1="1351.2" x2="1716.9" y2="1351.2" stroke="#000" stroke-width="2.2" stroke-dasharray="8.9 8.9"/>
<line x1="153.2" y1="1741.1" x2="1716.9" y2="1741.1" stroke="#000" stroke-width="2.2" stroke-dasharray="8.9 8.9"/>
<path d="M168.2,1788.3 L192.9,1818.2 L217.6,1758.8 L242.7,1741.0 L267.5,1862.0 L292.6,1720.7 L318.2,1766.2 L342.9,1773.1 L368.0,1705.9 L392.7,1767.9 L417.8,1901.8 L443.0,1713.7 L466.4,1712.9 L491.5,1733.7 L516.2,1732.8 L541.4,1731.1 L565.6,1652.6 L590.8,1683.0 L616.3,1686.4 L640.6,1683.0 L665.8,1669.1 L690.5,1691.6 L716.4,1667.4 L741.5,1157.7 L764.5,1227.9 L789.7,1740.6 L814.4,1716.8 L839.5,1756.6 L863.8,1757.1 L889.3,1766.6 L914.5,1731.9 L939.2,1731.1 L963.9,1715.0 L988.6,1669.1 L1013.7,1675.2 L1039.3,1725.4 L1062.3,1701.6 L1087.4,1770.1 L1112.1,1748.4 L1137.2,1774.0 L1161.9,1712.4 L1187.1,1718.1 L1212.2,1686.9 L1237.3,1680.4 L1262.4,1687.3 L1287.1,1667.8 L1312.3,1696.0 L1337.4,1690.8 L1361.2,1707.7 L1386.4,1667.8 L1411.1,1634.9 L1436.2,1675.6 L1460.5,1682.5 L1486.0,1678.2 L1511.6,1673.9 L1535.9,1647.0 L1561.0,1633.1 L1585.7,1642.2 L1610.9,1664.8 L1636.9,1661.3 L1659.4,1668.2 L1684.5,1697.7" fill="none" stroke="#000" stroke-width="2.2"/>
<g fill="#000"><circle cx="168.2" cy="1788.3" r="8"/><circle cx="192.9" cy="1818.2" r="8"/><circle cx="217.6" cy="1758.8" r="8"/><circle cx="242.7" cy="1741.0" r="8"/><circle cx="267.5" cy="1862.0" r="8"/><circle cx="292.6" cy="1720.7" r="8"/><circle cx="318.2" cy="1766.2" r="8"/><circle cx="342.9" cy="1773.1" r="8"/><circle cx="368.0" cy="1705.9" r="8"/><circle cx="392.7" cy="1767.9" r="8"/><circle cx="417.8" cy="1901.8" r="8"/><circle cx="443.0" cy="1713.7" r="8"/><circle cx="466.4" cy="1712.9" r="8"/><circle cx="491.5" cy="1733.7" r="8"/><circle cx="516.2" cy="1732.8" r="8"/><circle cx="541.4" cy="1731.1" r="8"/><circle cx="565.6" cy="1652.6" r="8"/><circle cx="590.8" cy="1683.0" r="8"/><circle cx="616.3" cy="1686.4" r="8"/><circle cx="640.6" cy="1683.0" r="8"/><circle cx="665.8" cy="1669.1" r="8"/><circle cx="690.5" cy="1691.6" r="8"/><circle cx="716.4" cy="1667.4" r="8"/><circle cx="741.5" cy="1157.7" r="8"/><circle cx="764.5" cy="1227.9" r="8"/><circle cx="789.7" cy="1740.6" r="8"/><circle cx="814.4" cy="1716.8" r="8"/><circle cx="839.5" cy="1756.6" r="8"/><circle cx="863.8" cy="1757.1" r="8"/><circle cx="889.3" cy="1766.6" r="8"/><circle cx="914.5" cy="1731.9" r="8"/><circle cx="939.2" cy="1731.1" r="8"/><circle cx="963.9" cy="1715.0" r="8"/><circle cx="988.6" cy="1669.1" r="8"/><circle cx="1013.7" cy="1675.2" r="8"/><circle cx="1039.3" cy="1725.4" r="8"/><circle cx="1062.3" cy="1701.6" r="8"/><circle cx="1087.4" cy="1770.1" r="8"/><circle cx="1112.1" cy="1748.4" r="8"/><circle cx="1137.2" cy="1774.0" r="8"/><circle cx="1161.9" cy="1712.4" r="8"/><circle cx="1187.1" cy="1718.1" r="8"/><circle cx="1212.2" cy="1686.9" r="8"/><circle cx="1237.3" cy="1680.4" r="8"/><circle cx="1262.4" cy="1687.3" r="8"/><circle cx="1287.1" cy="1667.8" r="8"/><circle cx="1312.3" cy="1696.0" r="8"/><circle cx="1337.4" cy="1690.8" r="8"/><circle cx="1361.2" cy="1707.7" r="8"/><circle cx="1386.4" cy="1667.8" r="8"/><circle cx="1411.1" cy="1634.9" r="8"/><circle cx="1436.2" cy="1675.6" r="8"/><circle cx="1460.5" cy="1682.5" r="8"/><circle cx="1486.0" cy="1678.2" r="8"/><circle cx="1511.6" cy="1673.9" r="8"/><circle cx="1535.9" cy="1647.0" r="8"/><circle cx="1561.0" cy="1633.1" r="8"/><circle cx="1585.7" cy="1642.2" r="8"/><circle cx="1610.9" cy="1664.8" r="8"/><circle cx="1636.9" cy="1661.3" r="8"/><circle cx="1659.4" cy="1668.2" r="8"/><circle cx="1684.5" cy="1697.7" r="8"/></g>
</g>
<path d="M153.2,1975.8 V1117.8 H1717.9" fill="none" stroke="#7d7d7d" stroke-width="2"/>
<path d="M152.2,1974.8 H1716.9 V1116.8" fill="none" stroke="#333" stroke-width="2.2"/>
<line x1="146.7" y1="1156.2" x2="153.2" y2="1156.2" stroke="#333" stroke-width="2.1" />
<text transform="translate(142.4,1171.4) scale(1,1.05)" font-size="41.85" text-anchor="end">4</text>
<line x1="146.7" y1="1351.2" x2="153.2" y2="1351.2" stroke="#333" stroke-width="2.1" />
<text transform="translate(142.4,1366.4) scale(1,1.05)" font-size="41.85" text-anchor="end">2</text>
<line x1="146.7" y1="1546.2" x2="153.2" y2="1546.2" stroke="#333" stroke-width="2.1" />
<text transform="translate(142.4,1561.4) scale(1,1.05)" font-size="41.85" text-anchor="end">0</text>
<line x1="146.7" y1="1741.1" x2="153.2" y2="1741.1" stroke="#333" stroke-width="2.1" />
<text transform="translate(142.4,1756.3) scale(1,1.05)" font-size="41.85" text-anchor="end">-2</text>
<line x1="146.7" y1="1936.1" x2="153.2" y2="1936.1" stroke="#333" stroke-width="2.1" />
<text transform="translate(142.4,1951.3) scale(1,1.05)" font-size="41.85" text-anchor="end">-4</text>
<line x1="715.9" y1="1974.8" x2="715.9" y2="1981.3" stroke="#333" stroke-width="2.1" />
<text transform="translate(716.2,2016.1) scale(1,1.05)" font-size="41.85" text-anchor="middle">01-2022</text>
<line x1="1312.5" y1="1974.8" x2="1312.5" y2="1981.3" stroke="#333" stroke-width="2.1" />
<text transform="translate(1312.8,2016.1) scale(1,1.05)" font-size="41.85" text-anchor="middle">01-2024</text>
<text transform="translate(45.8,1546.0) rotate(-90)" font-size="41.85" text-anchor="middle">&#916; CO (In situ - Flask) [ppb]</text>
<circle cx="84.2" cy="2055.3" r="12.5" fill="#000"/>
<text x="173.5" y="2070.3" font-size="42.1" text-anchor="start" fill="#000" >all sites mean</text>
<circle cx="518.4" cy="2055.3" r="12.5" fill="#00cdcd"/>
<text x="607.5" y="2070.3" font-size="42.1" text-anchor="start" fill="#000" >std&lt;5ppb</text>
<circle cx="871.2" cy="2055.3" r="12.5" fill="#ff0000"/>
<text x="960.5" y="2070.3" font-size="42.1" text-anchor="start" fill="#000" >std&gt;5ppb</text>
<circle cx="1224.1" cy="2055.3" r="12.5" fill="#a9a9a9"/>
<text x="1312.5" y="2070.3" font-size="42.1" text-anchor="start" fill="#000" >outliers</text>
<circle cx="1538" cy="2055.3" r="12.5" fill="#a020f0"/>
<text x="1627.0" y="2070.3" font-size="42.1" text-anchor="start" fill="#000" >&lt;50min insitu</text>
<line x1="153.2" y1="2222.5" x2="1716.9" y2="2222.5" stroke="#f2f2f2" stroke-width="1.3" />
<line x1="153.2" y1="2501.9" x2="1716.9" y2="2501.9" stroke="#f2f2f2" stroke-width="1.3" />
<line x1="153.2" y1="2781.2" x2="1716.9" y2="2781.2" stroke="#f2f2f2" stroke-width="1.3" />
<line x1="153.2" y1="2362.2" x2="1716.9" y2="2362.2" stroke="#ebebeb" stroke-width="2.4" />
<line x1="153.2" y1="2641.5" x2="1716.9" y2="2641.5" stroke="#ebebeb" stroke-width="2.4" />
<line x1="153.2" y1="2920.9" x2="1716.9" y2="2920.9" stroke="#ebebeb" stroke-width="2.4" />
<line x1="715.9" y1="2115.0" x2="715.9" y2="2972.1" stroke="#c9c9c9" stroke-width="2.6" />
<line x1="1312.5" y1="2115.0" x2="1312.5" y2="2972.1" stroke="#c9c9c9" stroke-width="2.6" />
<g id="p3data">
<line x1="153.2" y1="2351.0" x2="1707.4" y2="2351.0" stroke="#000" stroke-width="2.2" stroke-dasharray="8.9 8.9"/>
<line x1="153.2" y1="2373.4" x2="1707.4" y2="2373.4" stroke="#000" stroke-width="2.2" stroke-dasharray="8.9 8.9"/>
<path d="M167.6,2365.2 L173.6,2365.6 L179.6,2365.9 L185.6,2365.9 L191.6,2365.6 L197.6,2365.2 L203.6,2364.6 L209.6,2364.0 L215.6,2363.6 L221.6,2363.4 L227.6,2363.4 L233.6,2363.6 L239.6,2363.8 L245.6,2364.0 L251.6,2364.1 L257.6,2363.9 L263.6,2363.6 L269.6,2363.1 L275.6,2362.5 L281.6,2362.1 L287.6,2361.8 L293.6,2361.8 L299.6,2362.1 L305.6,2362.6 L311.6,2363.1 L317.6,2363.6 L323.6,2363.9 L329.6,2364.1 L335.6,2364.0 L341.6,2363.8 L347.6,2363.6 L353.6,2363.4 L359.6,2363.4 L365.6,2363.6 L371.6,2364.1 L377.6,2364.6 L383.6,2365.2 L389.6,2365.6 L395.6,2365.9 L401.6,2365.9 L407.6,2365.6 L413.6,2365.2 L419.6,2364.7 L425.6,2364.3 L431.6,2364.0 L437.6,2364.0 L443.6,2364.1 L449.6,2364.3 L455.6,2364.6 L461.6,2364.7 L467.6,2364.6 L473.6,2364.3 L479.6,2363.8 L485.6,2363.2 L491.6,2362.6 L497.6,2362.2 L503.6,2362.0 L509.6,2362.0 L515.6,2362.3 L521.6,2362.7 L527.6,2363.1 L533.6,2363.4 L539.6,2363.6 L545.6,2363.6 L551.6,2363.4 L557.6,2363.1 L563.6,2362.8 L569.6,2362.7 L575.6,2362.9 L581.6,2363.2 L587.6,2363.8 L593.6,2364.4 L599.6,2365.0 L605.6,2365.4 L611.6,2365.6 L617.6,2365.6 L623.6,2365.3 L629.6,2364.9 L635.6,2364.6 L641.6,2364.3 L647.6,2364.3 L653.6,2364.4 L659.6,2364.7 L665.6,2365.0 L671.6,2365.2 L677.6,2365.3 L683.6,2365.1 L689.6,2364.7 L695.6,2364.2 L701.6,2363.5 L707.6,2362.9 L713.6,2362.5 L719.6,2362.4 L725.6,2362.5 L731.6,2362.7 L737.6,2363.0 L743.6,2363.3 L749.6,2363.5 L755.6,2363.4 L761.6,2363.2 L767.6,2362.9 L773.6,2362.5 L779.6,2362.3 L785.6,2362.2 L791.6,2362.4 L797.6,2362.8 L803.6,2363.4 L809.6,2364.1 L815.6,2364.6 L821.6,2365.0 L827.6,2365.1 L833.6,2365.0 L836.4,2366.6 L865.0,2375.3 L867.2,2366.6 L869.6,2364.6 L875.6,2365.1 L881.6,2365.4 L887.6,2365.7 L893.6,2365.7 L899.6,2365.5 L903.6,2366.6 L904.5,2406.5 L917.5,2407.8 L941.9,2404.9 L954.9,2411.0 L956.5,2369.8 L959.6,2363.7 L965.6,2363.7 L971.6,2363.5 L977.6,2363.1 L983.6,2362.6 L989.6,2362.2 L995.6,2361.9 L997.1,2365.9 L1003.6,2373.1 L1018.2,2365.9 L1029.5,2366.6 L1042.5,2364.3 L1055.5,2369.2 L1070.1,2365.9 L1089.6,2366.6 L1109.1,2364.3 L1128.6,2368.2 L1139.9,2367.5 L1151.3,2374.0 L1170.8,2377.3 L1193.5,2368.2 L1206.5,2370.8 L1226.0,2365.9 L1240.6,2368.8 L1250.0,2364.6 L1265.7,2372.2 L1281.4,2365.5 L1294.8,2364.6 L1303.8,2371.3 L1312.8,2369.1 L1324.0,2362.3 L1335.2,2364.6 L1348.7,2370.4 L1362.1,2368.2 L1375.6,2371.7 L1386.8,2371.7 L1389.9,2372.6 L1414.6,2933.2 L1428.0,2379.4 L1440.6,2369.0 L1443.7,2368.2 L1451.8,2364.6 L1465.2,2362.3 L1483.2,2366.8 L1501.1,2365.5 L1519.1,2364.6 L1528.0,2362.3 L1541.5,2365.5 L1559.4,2363.7 L1579.6,2369.5 L1590.8,2365.5 L1604.3,2369.1 L1626.7,2366.4 L1640.1,2365.5 L1653.6,2362.3 L1664.8,2365.0 L1673.3,2364.6 L1674.7,2364.6 L1687.2,2197.8 L1701.6,2251.6" fill="none" stroke="#ff00ff" stroke-width="3.6" stroke-linejoin="round"/>
<path d="M167.6,2363.1 L169.8,2361.4 L172.0,2362.3 L174.2,2360.8 L176.4,2360.4 L178.6,2363.2 L180.8,2363.3 L183.0,2358.4 L185.2,2361.4 L187.4,2361.5 L189.6,2357.2 L191.8,2360.3 L194.0,2358.4 L196.2,2360.7 L198.4,2360.2 L200.6,2363.3 L202.8,2361.0 L205.0,2360.0 L207.2,2362.2 L209.4,2361.2 L211.6,2361.7 L213.8,2365.1 L216.0,2361.1 L218.2,2361.9 L220.4,2363.2 L222.0,2359.0 L226.6,2352.5 L229.0,2372.0 L231.0,2366.0 L234.7,2379.0 L238.0,2365.0 L240.2,2359.5 L242.4,2361.8 L244.6,2359.4 L246.8,2360.0 L249.0,2364.7 L251.2,2364.8 L253.4,2364.5 L255.6,2360.4 L257.8,2363.4 L260.0,2362.2 L262.2,2363.8 L264.4,2362.3 L266.6,2362.7 L268.8,2362.5 L271.0,2360.8 L273.2,2360.5 L275.4,2358.5 L277.6,2359.6 L279.8,2358.2 L282.0,2358.7 L284.2,2358.1 L286.4,2360.1 L288.6,2363.2 L290.8,2359.6 L293.0,2359.3 L295.2,2359.9 L297.4,2362.0 L299.6,2361.2 L301.8,2364.0 L304.0,2360.4 L306.2,2361.6 L308.4,2362.9 L310.6,2363.8 L312.8,2359.0 L315.0,2357.8 L317.2,2362.5 L319.4,2358.3 L321.6,2360.2 L323.8,2361.6 L326.0,2360.8 L328.2,2358.3 L330.4,2357.9 L332.6,2362.8 L334.8,2359.9 L337.0,2363.3 L339.2,2359.8 L341.4,2362.2 L343.6,2359.2 L345.8,2358.6 L348.0,2361.2 L350.2,2358.2 L352.4,2361.7 L354.6,2362.7 L356.8,2359.4 L359.0,2362.2 L361.2,2360.9 L363.4,2359.4 L365.6,2358.0 L367.8,2360.5 L370.0,2361.1 L372.2,2356.6 L374.4,2359.9 L376.6,2356.5 L378.8,2357.2 L381.0,2360.4 L383.2,2360.2 L385.4,2360.1 L387.6,2359.6 L389.8,2359.9 L392.0,2360.0 L394.2,2359.5 L396.4,2357.5 L398.6,2359.6 L400.8,2359.7 L403.0,2357.7 L405.2,2360.1 L407.4,2359.4 L409.6,2355.5 L411.8,2357.9 L414.0,2357.8 L416.2,2360.9 L418.4,2358.8 L420.6,2358.2 L422.8,2361.7 L425.0,2358.7 L427.2,2358.9 L429.4,2362.4 L431.6,2359.5 L433.8,2360.5 L436.0,2359.3 L438.2,2361.1 L440.4,2358.9 L442.6,2358.5 L444.8,2362.2 L447.0,2361.7 L449.2,2357.9 L451.4,2356.1 L453.6,2359.9 L455.8,2358.6 L458.0,2357.9 L460.2,2359.6 L462.4,2359.5 L464.6,2360.1 L466.8,2360.2 L469.0,2359.3 L471.2,2361.4 L473.4,2361.3 L475.6,2359.3 L477.8,2363.7 L480.0,2360.7 L482.2,2359.8 L484.4,2362.1 L486.6,2362.3 L488.8,2358.8 L491.0,2361.7 L493.2,2361.7 L495.4,2360.1 L497.6,2358.4 L499.8,2361.7 L502.0,2360.5 L504.2,2360.5 L506.4,2357.9 L508.6,2360.5 L510.8,2358.5 L513.0,2362.7 L515.2,2362.2 L517.4,2360.8 L519.6,2359.8 L521.8,2362.4 L524.0,2363.8 L526.2,2364.4 L528.4,2362.0 L530.6,2363.7 L532.8,2360.0 L535.0,2359.6 L537.2,2362.9 L539.4,2362.1 L541.6,2358.9 L543.8,2359.7 L546.0,2358.8 L548.2,2361.4 L550.4,2362.8 L552.6,2362.1 L554.8,2359.7 L557.0,2362.9 L559.2,2362.9 L561.4,2362.8 L563.6,2363.1 L565.8,2363.4 L568.0,2360.6 L570.2,2364.9 L572.4,2365.6 L574.6,2360.2 L576.8,2360.3 L579.0,2359.3 L581.2,2362.1 L583.4,2358.9 L585.6,2358.7 L587.8,2362.5 L590.0,2359.4 L592.2,2358.9 L594.4,2360.0 L596.6,2361.0 L598.8,2362.5 L601.0,2362.5 L603.2,2363.5 L605.4,2364.7 L607.6,2362.0 L609.8,2363.9 L612.0,2361.1 L614.2,2365.3 L616.4,2360.4 L618.6,2361.4 L620.8,2359.8 L623.0,2359.6 L625.2,2359.2 L627.4,2360.6 L629.6,2363.4 L631.8,2359.0 L634.0,2362.1 L636.2,2361.3 L638.4,2359.3 L640.6,2360.2 L642.8,2361.0 L645.0,2358.3 L647.2,2360.4 L649.4,2362.2 L651.6,2363.0 L653.8,2359.7 L656.0,2362.0 L658.2,2360.3 L660.4,2362.6 L662.6,2363.2 L664.8,2361.0 L667.0,2359.1 L669.2,2362.3 L671.4,2358.4 L673.6,2357.3 L675.8,2357.7 L678.0,2357.3 L680.2,2361.8 L682.4,2358.3 L684.6,2357.1 L686.8,2361.8 L689.0,2360.8 L691.2,2361.1 L693.4,2360.0 L695.6,2360.8 L697.8,2360.8 L700.0,2359.2 L702.2,2363.5 L704.4,2363.2 L706.6,2362.6 L708.8,2362.3 L711.0,2362.3 L713.2,2356.9 L715.4,2357.2 L717.6,2361.1 L719.8,2358.5 L722.0,2359.3 L724.2,2359.2 L726.4,2359.0 L728.6,2357.4 L730.8,2358.0 L733.0,2359.5 L735.2,2360.8 L737.4,2360.3 L739.6,2361.8 L741.8,2359.6 L744.0,2358.9 L746.2,2360.9 L748.4,2362.6 L750.6,2361.9 L752.8,2360.6 L755.0,2359.1 L757.2,2357.7 L759.4,2359.7 L761.6,2357.0 L763.8,2357.7 L766.0,2358.6 L768.2,2358.8 L770.4,2358.1 L772.6,2357.1 L774.8,2358.9 L777.0,2357.7 L779.2,2359.3 L781.4,2360.9 L783.6,2359.7 L785.8,2359.1 L788.0,2362.8 L790.2,2361.0 L792.4,2361.1 L794.6,2358.5 L796.8,2358.1 L799.0,2361.0 L801.2,2357.8 L803.4,2358.1 L805.6,2360.8 L807.8,2359.4 L810.0,2361.1 L812.2,2357.2 L814.4,2358.0 L816.6,2356.9 L818.8,2357.6 L821.0,2358.7 L823.2,2358.6 L825.4,2360.0 L827.6,2363.0 L829.8,2360.6 L832.0,2364.2 L834.7,2358.4 L865.6,2359.0 L866.5,2365.0 L869.4,2363.9 L871.6,2360.2 L873.8,2362.0 L876.0,2361.2 L878.2,2364.8 L880.4,2361.3 L882.6,2360.3 L884.8,2365.1 L887.0,2363.5 L889.2,2361.9 L891.4,2360.1 L893.6,2363.0 L895.8,2363.1 L898.0,2362.4 L900.2,2360.2 L902.4,2359.4 L904.6,2361.4 L906.8,2361.7 L909.0,2361.7 L911.2,2362.2 L913.4,2362.2 L915.6,2364.4 L917.8,2362.4 L920.0,2360.1 L922.2,2363.4 L924.4,2361.6 L926.6,2364.9 L928.8,2361.8 L931.0,2361.2 L933.2,2361.4 L935.4,2362.0 L937.6,2361.8 L939.8,2360.5 L942.0,2358.8 L944.2,2362.7 L946.4,2362.9 L948.6,2359.2 L950.8,2358.3 L953.0,2360.6 L955.2,2361.3 L957.4,2360.0 L959.6,2363.3 L961.8,2363.1 L964.0,2363.8 L966.2,2361.8 L968.4,2363.4 L970.6,2363.8 L972.8,2361.2 L975.0,2359.5 L977.2,2362.9 L979.4,2360.2 L981.6,2361.4 L983.8,2358.6 L986.0,2359.7 L988.2,2361.2 L990.4,2361.3 L992.6,2362.2 L994.8,2359.7 L997.0,2360.3 L999.2,2361.7 L1001.4,2360.9 L1003.6,2361.4 L1005.8,2359.1 L1008.0,2362.9 L1010.2,2358.4 L1012.4,2361.3 L1014.6,2360.7 L1016.8,2361.3 L1019.0,2359.1 L1021.2,2358.9 L1023.4,2360.0 L1025.6,2360.0 L1027.8,2358.3 L1030.0,2357.2 L1032.2,2359.4 L1034.4,2357.3 L1036.6,2355.9 L1038.8,2358.7 L1041.0,2360.1 L1043.2,2360.2 L1045.4,2357.8 L1047.6,2358.3 L1049.8,2357.0 L1052.0,2357.9 L1054.2,2361.6 L1056.4,2362.0 L1058.6,2361.7 L1060.8,2362.1 L1063.0,2359.1 L1065.2,2358.0 L1067.4,2357.4 L1069.6,2360.7 L1071.8,2356.9 L1074.0,2359.7 L1076.2,2358.8 L1078.4,2356.9 L1080.6,2360.3 L1082.8,2360.3 L1085.0,2356.3 L1087.2,2359.5 L1089.4,2359.4 L1091.6,2358.5 L1093.8,2358.3 L1096.0,2362.4 L1098.2,2360.9 L1100.4,2360.5 L1102.6,2360.4 L1104.8,2362.0 L1107.0,2359.8 L1109.2,2357.6 L1111.4,2360.5 L1113.6,2359.4 L1115.8,2361.4 L1118.0,2360.3 L1120.2,2357.8 L1122.4,2360.7 L1124.6,2356.3 L1126.8,2356.2 L1129.0,2360.8 L1131.2,2356.3 L1133.4,2359.8 L1135.6,2357.9 L1137.8,2358.4 L1140.0,2361.4 L1142.2,2359.6 L1144.4,2360.0 L1146.6,2359.4 L1148.8,2362.5 L1151.0,2359.8 L1153.2,2358.5 L1155.4,2360.0 L1157.6,2360.5 L1159.8,2362.5 L1162.0,2360.1 L1164.2,2360.7 L1166.4,2358.4 L1168.6,2358.6 L1170.8,2359.2 L1173.0,2361.4 L1175.2,2359.0 L1177.4,2359.4 L1179.6,2362.3 L1181.8,2358.7 L1184.0,2360.4 L1186.2,2363.8 L1188.4,2359.6 L1190.6,2364.2 L1192.8,2363.3 L1195.0,2361.1 L1197.2,2361.7 L1199.4,2361.8 L1201.6,2361.0 L1203.8,2361.8 L1206.0,2362.3 L1208.2,2362.8 L1210.4,2363.2 L1212.6,2359.4 L1214.8,2359.1 L1217.0,2360.3 L1219.2,2359.4 L1221.4,2361.8 L1223.6,2362.6 L1225.8,2362.3 L1228.0,2359.9 L1230.2,2364.9 L1232.4,2362.6 L1234.6,2364.3 L1236.8,2361.5 L1239.0,2363.8 L1241.2,2363.8 L1243.4,2363.3 L1245.6,2362.2 L1247.8,2360.6 L1250.0,2362.6 L1252.2,2359.5 L1254.4,2363.3 L1256.6,2362.2 L1258.8,2363.0 L1261.0,2362.9 L1263.2,2359.3 L1265.4,2359.7 L1267.6,2363.0 L1269.8,2363.3 L1272.0,2362.3 L1274.2,2360.8 L1276.4,2360.7 L1278.6,2361.3 L1280.8,2362.2 L1283.0,2364.7 L1285.2,2363.2 L1287.4,2364.1 L1289.6,2362.0 L1291.8,2361.4 L1294.0,2363.1 L1296.2,2362.4 L1298.4,2359.1 L1300.6,2363.0 L1302.8,2358.5 L1305.0,2357.9 L1307.2,2357.6 L1309.4,2360.9 L1311.6,2360.1 L1313.8,2360.2 L1316.0,2360.2 L1318.2,2358.6 L1320.4,2360.4 L1322.6,2362.8 L1324.8,2359.8 L1327.0,2361.9 L1329.2,2361.1 L1331.4,2360.2 L1333.6,2364.0 L1335.8,2359.3 L1338.0,2359.5 L1340.2,2360.1 L1342.4,2359.5 L1344.6,2359.6 L1346.8,2360.8 L1349.0,2358.8 L1351.2,2361.5 L1353.4,2359.0 L1355.6,2358.4 L1357.8,2359.8 L1360.0,2359.4 L1362.2,2357.5 L1364.4,2358.1 L1366.6,2362.5 L1368.8,2359.0 L1371.0,2360.0 L1373.2,2363.2 L1375.4,2361.3 L1377.6,2361.7 L1379.8,2362.3 L1382.0,2359.3 L1384.2,2356.8 L1386.4,2359.8 L1389.0,2364.6 L1414.6,2152.9 L1428.5,2371.3 L1433.8,2361.0 L1434.8,2357.2 L1437.0,2357.9 L1439.2,2358.6 L1441.4,2357.4 L1443.6,2359.6 L1445.8,2358.9 L1448.0,2357.7 L1450.2,2360.0 L1452.4,2361.6 L1454.6,2358.0 L1456.8,2359.2 L1459.0,2361.4 L1461.2,2361.5 L1463.4,2360.6 L1465.6,2360.1 L1467.8,2361.9 L1470.0,2362.9 L1472.2,2361.5 L1474.4,2358.0 L1476.6,2361.3 L1478.8,2359.3 L1481.0,2360.7 L1483.2,2360.6 L1485.4,2361.0 L1487.6,2359.9 L1489.8,2361.5 L1492.0,2362.6 L1494.2,2362.5 L1496.4,2362.6 L1498.6,2361.2 L1500.8,2363.9 L1503.0,2364.4 L1505.2,2362.1 L1507.4,2362.4 L1509.6,2360.6 L1511.8,2364.1 L1514.0,2361.9 L1516.2,2361.6 L1518.4,2363.4 L1520.6,2357.9 L1522.8,2361.9 L1525.0,2362.4 L1527.2,2360.3 L1529.4,2362.1 L1531.6,2359.7 L1533.8,2361.5 L1536.0,2363.1 L1538.2,2363.8 L1540.4,2360.5 L1542.6,2363.3 L1544.8,2360.8 L1547.0,2362.8 L1549.2,2360.4 L1551.4,2363.9 L1553.6,2364.1 L1555.8,2363.9 L1558.0,2360.5 L1560.2,2361.3 L1562.4,2362.5 L1564.6,2363.6 L1566.8,2360.1 L1569.0,2358.3 L1571.2,2360.3 L1573.4,2363.6 L1575.6,2363.5 L1577.8,2363.4 L1580.0,2363.2 L1582.2,2364.3 L1584.4,2364.5 L1586.6,2361.5 L1588.8,2360.4 L1591.0,2364.5 L1593.2,2360.3 L1595.4,2363.1 L1597.6,2361.2 L1599.8,2360.4 L1602.0,2360.0 L1604.2,2364.7 L1606.4,2362.8 L1608.6,2360.7 L1610.8,2358.5 L1613.0,2363.1 L1615.2,2361.7 L1617.4,2358.5 L1619.6,2362.7 L1621.8,2361.3 L1624.0,2361.8 L1626.2,2360.1 L1628.4,2359.0 L1630.6,2363.5 L1632.8,2360.6 L1635.0,2360.9 L1637.2,2360.4 L1639.4,2362.0 L1641.6,2359.8 L1643.8,2362.7 L1646.0,2362.2 L1648.2,2362.8 L1650.4,2359.4 L1652.6,2360.6 L1654.8,2361.5 L1657.0,2361.7 L1659.2,2358.4 L1661.4,2358.9 L1663.6,2358.3 L1665.8,2360.2 L1668.0,2359.8 L1670.2,2361.9 L1672.4,2359.1 L1674.6,2363.2 L1676.8,2361.0 L1679.0,2359.6 L1681.2,2360.1 L1683.4,2363.4 L1686.0,2360.0 L1687.2,2239.0 L1688.6,2360.0 L1690.0,2359.8 L1692.2,2358.2 L1694.4,2357.8 L1696.6,2359.8 L1698.8,2356.9" fill="none" stroke="#104e8b" stroke-width="5.1" stroke-linejoin="round" stroke-linecap="round"/>
</g>
<path d="M153.2,2973.1 V2115.0 H1717.9" fill="none" stroke="#7d7d7d" stroke-width="2"/>
<path d="M152.2,2972.1 H1716.9 V2114.0" fill="none" stroke="#333" stroke-width="2.2"/>
<line x1="146.7" y1="2362.2" x2="153.2" y2="2362.2" stroke="#333" stroke-width="2.1" />
<text transform="translate(142.4,2377.4) scale(1,1.05)" font-size="41.85" text-anchor="end">0</text>
<line x1="146.7" y1="2641.5" x2="153.2" y2="2641.5" stroke="#333" stroke-width="2.1" />
<text transform="translate(142.4,2656.7) scale(1,1.05)" font-size="41.85" text-anchor="end">-50</text>
<line x1="146.7" y1="2920.9" x2="153.2" y2="2920.9" stroke="#333" stroke-width="2.1" />
<text transform="translate(142.4,2936.1) scale(1,1.05)" font-size="41.85" text-anchor="end">-100</text>
<line x1="715.9" y1="2972.1" x2="715.9" y2="2978.6" stroke="#333" stroke-width="2.1" />
<text transform="translate(716.2,3013.4) scale(1,1.05)" font-size="41.85" text-anchor="middle">01-2022</text>
<line x1="1312.5" y1="2972.1" x2="1312.5" y2="2978.6" stroke="#333" stroke-width="2.1" />
<text transform="translate(1312.8,3013.4) scale(1,1.05)" font-size="41.85" text-anchor="middle">01-2024</text>
<text transform="translate(45.8,2544.0) rotate(-90)" font-size="41.3" text-anchor="middle">CTS Target bias CO [ppb]</text>
<line x1="356.3" y1="3052.3" x2="453.4" y2="3052.3" stroke="#ff00ff" stroke-width="8.3" />
<text x="510.5" y="3067.6" font-size="42.1" text-anchor="start" fill="#000" >Long term target bias</text>
<line x1="966.2" y1="3052.3" x2="1061.9" y2="3052.3" stroke="#104e8b" stroke-width="8.3" />
<text x="1119.0" y="3067.6" font-size="42.1" text-anchor="start" fill="#000" >Short term target bias</text>
<line x1="1952.7" y1="291.2" x2="2782.0" y2="291.2" stroke="#f2f2f2" stroke-width="1.3" />
<line x1="1952.7" y1="476.8" x2="2782.0" y2="476.8" stroke="#f2f2f2" stroke-width="1.3" />
<line x1="1952.7" y1="662.2" x2="2782.0" y2="662.2" stroke="#f2f2f2" stroke-width="1.3" />
<line x1="1952.7" y1="847.8" x2="2782.0" y2="847.8" stroke="#f2f2f2" stroke-width="1.3" />
<line x1="2173.0" y1="162.2" x2="2173.0" y2="977.4" stroke="#f2f2f2" stroke-width="1.3" />
<line x1="2411.8" y1="162.2" x2="2411.8" y2="977.4" stroke="#f2f2f2" stroke-width="1.3" />
<line x1="2650.6" y1="162.2" x2="2650.6" y2="977.4" stroke="#f2f2f2" stroke-width="1.3" />
<line x1="1952.7" y1="198.5" x2="2782.0" y2="198.5" stroke="#ebebeb" stroke-width="2.4" />
<line x1="1952.7" y1="384.0" x2="2782.0" y2="384.0" stroke="#ebebeb" stroke-width="2.4" />
<line x1="1952.7" y1="569.5" x2="2782.0" y2="569.5" stroke="#ebebeb" stroke-width="2.4" />
<line x1="1952.7" y1="755.0" x2="2782.0" y2="755.0" stroke="#ebebeb" stroke-width="2.4" />
<line x1="1952.7" y1="940.5" x2="2782.0" y2="940.5" stroke="#ebebeb" stroke-width="2.4" />
<line x1="2053.6" y1="162.2" x2="2053.6" y2="977.4" stroke="#c9c9c9" stroke-width="2.6" />
<line x1="2292.4" y1="162.2" x2="2292.4" y2="977.4" stroke="#c9c9c9" stroke-width="2.6" />
<line x1="2531.2" y1="162.2" x2="2531.2" y2="977.4" stroke="#c9c9c9" stroke-width="2.6" />
<line x1="2770.0" y1="162.2" x2="2770.0" y2="977.4" stroke="#c9c9c9" stroke-width="2.6" />
<g id="p4data">
<g fill="#a9a9a9"><circle cx="1999.0" cy="940.5" r="8"/><circle cx="2129.8" cy="940.5" r="8"/><circle cx="2155.6" cy="940.5" r="8"/><circle cx="2162.5" cy="940.5" r="8"/><circle cx="2054.2" cy="940.5" r="8"/><circle cx="2058.0" cy="940.5" r="8"/><circle cx="2061.8" cy="940.5" r="8"/><circle cx="2065.6" cy="940.5" r="8"/><circle cx="2069.4" cy="940.5" r="8"/><circle cx="2073.2" cy="940.5" r="8"/><circle cx="2077.0" cy="940.5" r="8"/><circle cx="2080.8" cy="940.5" r="8"/><circle cx="2084.6" cy="940.5" r="8"/><circle cx="2088.4" cy="940.5" r="8"/><circle cx="2092.2" cy="940.5" r="8"/><circle cx="2096.0" cy="940.5" r="8"/><circle cx="2099.8" cy="940.5" r="8"/><circle cx="2103.6" cy="940.5" r="8"/><circle cx="2107.4" cy="940.5" r="8"/><circle cx="2346.1" cy="940.5" r="8"/><circle cx="2744.1" cy="940.5" r="8"/></g>
<g fill="#00cdcd"><circle cx="2079.5" cy="682.3" r="8"/><circle cx="2058.3" cy="698.2" r="8"/><circle cx="2066.5" cy="734.2" r="8"/><circle cx="2058.3" cy="766.9" r="8"/><circle cx="2086.9" cy="785.3" r="8"/><circle cx="2106.5" cy="912.8" r="8"/></g>
<g fill="#a020f0"><circle cx="2096.3" cy="216.0" r="8"/><circle cx="1998.2" cy="297.3" r="8"/><circle cx="1996.2" cy="311.6" r="8"/><circle cx="2077.9" cy="308.8" r="8"/><circle cx="2063.2" cy="439.9" r="8"/><circle cx="2068.5" cy="493.1" r="8"/><circle cx="2080.0" cy="520.0" r="8"/><circle cx="2095.1" cy="549.5" r="8"/><circle cx="2093.0" cy="560.9" r="8"/><circle cx="2146.6" cy="551.5" r="8"/><circle cx="2046.4" cy="596.9" r="8"/><circle cx="2108.2" cy="598.1" r="8"/><circle cx="2084.9" cy="602.6" r="8"/><circle cx="2075.5" cy="608.7" r="8"/><circle cx="2068.5" cy="622.6" r="8"/><circle cx="2088.1" cy="623.0" r="8"/><circle cx="2080.0" cy="635.3" r="8"/><circle cx="2065.7" cy="640.2" r="8"/><circle cx="2074.6" cy="649.2" r="8"/><circle cx="2068.5" cy="654.5" r="8"/><circle cx="2105.3" cy="657.8" r="8"/><circle cx="2102.4" cy="663.5" r="8"/><circle cx="2084.0" cy="661.8" r="8"/><circle cx="2076.7" cy="670.8" r="8"/><circle cx="2084.9" cy="670.8" r="8"/><circle cx="2134.3" cy="686.8" r="8"/><circle cx="2154.3" cy="704.7" r="8"/><circle cx="2109.0" cy="702.3" r="8"/><circle cx="2138.8" cy="716.2" r="8"/><circle cx="2124.5" cy="734.2" r="8"/><circle cx="2132.7" cy="741.1" r="8"/><circle cx="2113.9" cy="750.9" r="8"/><circle cx="2117.6" cy="776.3" r="8"/><circle cx="2099.2" cy="781.6" r="8"/><circle cx="2119.6" cy="805.3" r="8"/><circle cx="2121.2" cy="842.9" r="8"/><circle cx="2103.2" cy="865.4" r="8"/><circle cx="2106.9" cy="898.9" r="8"/><circle cx="2146.2" cy="893.6" r="8"/><circle cx="2136.8" cy="907.0" r="8"/><circle cx="2003.1" cy="887.4" r="8"/><circle cx="2010.5" cy="914.0" r="8"/><circle cx="2037.9" cy="885.4" r="8"/><circle cx="2020.3" cy="863.7" r="8"/><circle cx="1998.2" cy="608.7" r="8"/><circle cx="2009.3" cy="623.8" r="8"/><circle cx="2005.2" cy="634.9" r="8"/><circle cx="1999.0" cy="635.3" r="8"/><circle cx="2005.2" cy="648.4" r="8"/><circle cx="1992.9" cy="659.4" r="8"/><circle cx="2006.4" cy="657.8" r="8"/><circle cx="1990.8" cy="755.5" r="8"/><circle cx="1999.6" cy="758.1" r="8"/><circle cx="2001.3" cy="766.4" r="8"/><circle cx="2002.8" cy="767.2" r="8"/><circle cx="2005.2" cy="790.3" r="8"/><circle cx="2003.3" cy="726.3" r="8"/><circle cx="2011.5" cy="684.5" r="8"/><circle cx="1997.9" cy="675.0" r="8"/><circle cx="2012.2" cy="859.4" r="8"/><circle cx="2002.3" cy="787.5" r="8"/><circle cx="2015.7" cy="697.6" r="8"/><circle cx="2008.6" cy="678.4" r="8"/><circle cx="2007.1" cy="704.1" r="8"/><circle cx="2007.1" cy="757.7" r="8"/><circle cx="2010.1" cy="753.2" r="8"/><circle cx="1997.3" cy="792.3" r="8"/><circle cx="2001.2" cy="764.8" r="8"/><circle cx="1999.9" cy="721.3" r="8"/><circle cx="2015.5" cy="862.4" r="8"/><circle cx="2003.6" cy="805.6" r="8"/><circle cx="2007.0" cy="728.6" r="8"/><circle cx="2013.4" cy="680.5" r="8"/><circle cx="1992.7" cy="817.1" r="8"/><circle cx="2013.7" cy="742.6" r="8"/><circle cx="2002.6" cy="854.7" r="8"/><circle cx="2006.7" cy="707.9" r="8"/><circle cx="1983.6" cy="845.3" r="8"/><circle cx="2009.4" cy="744.7" r="8"/><circle cx="1999.4" cy="681.1" r="8"/><circle cx="1997.8" cy="719.7" r="8"/><circle cx="1998.7" cy="683.8" r="8"/><circle cx="2019.2" cy="815.4" r="8"/><circle cx="2007.5" cy="689.9" r="8"/><circle cx="2011.0" cy="678.5" r="8"/><circle cx="2007.3" cy="823.1" r="8"/><circle cx="2013.5" cy="754.5" r="8"/><circle cx="2006.6" cy="704.1" r="8"/><circle cx="2000.7" cy="793.0" r="8"/><circle cx="2003.2" cy="689.6" r="8"/><circle cx="2008.8" cy="719.7" r="8"/><circle cx="2004.3" cy="857.2" r="8"/><circle cx="1997.3" cy="840.3" r="8"/><circle cx="1996.1" cy="708.1" r="8"/><circle cx="2012.7" cy="792.6" r="8"/><circle cx="2012.3" cy="686.4" r="8"/><circle cx="2006.3" cy="717.4" r="8"/><circle cx="2000.8" cy="818.3" r="8"/><circle cx="2012.8" cy="681.1" r="8"/><circle cx="2003.1" cy="684.4" r="8"/><circle cx="2002.0" cy="784.7" r="8"/><circle cx="1989.1" cy="739.7" r="8"/><circle cx="2010.4" cy="761.6" r="8"/><circle cx="2007.7" cy="779.5" r="8"/><circle cx="2003.9" cy="697.0" r="8"/><circle cx="2004.9" cy="844.9" r="8"/><circle cx="2002.2" cy="704.0" r="8"/><circle cx="2008.0" cy="811.8" r="8"/><circle cx="2000.8" cy="853.1" r="8"/><circle cx="1997.1" cy="839.8" r="8"/><circle cx="2003.1" cy="687.1" r="8"/><circle cx="2012.9" cy="674.3" r="8"/><circle cx="2002.8" cy="805.0" r="8"/><circle cx="2010.8" cy="717.2" r="8"/><circle cx="1998.0" cy="724.3" r="8"/><circle cx="2006.6" cy="701.2" r="8"/><circle cx="2004.2" cy="711.5" r="8"/><circle cx="2010.6" cy="776.5" r="8"/><circle cx="1998.8" cy="721.7" r="8"/><circle cx="2003.1" cy="846.7" r="8"/><circle cx="2007.7" cy="719.5" r="8"/><circle cx="2009.5" cy="754.2" r="8"/><circle cx="2007.5" cy="739.1" r="8"/><circle cx="2009.2" cy="779.0" r="8"/><circle cx="2007.7" cy="841.5" r="8"/><circle cx="1996.5" cy="859.1" r="8"/><circle cx="1995.8" cy="781.4" r="8"/><circle cx="2008.6" cy="694.3" r="8"/><circle cx="2003.0" cy="845.3" r="8"/><circle cx="2005.4" cy="804.2" r="8"/><circle cx="2004.0" cy="791.5" r="8"/><circle cx="2004.5" cy="761.3" r="8"/><circle cx="1996.2" cy="862.8" r="8"/><circle cx="1996.8" cy="681.5" r="8"/><circle cx="1999.6" cy="843.3" r="8"/><circle cx="2000.2" cy="811.3" r="8"/><circle cx="2066.5" cy="891.5" r="8"/><circle cx="2068.9" cy="804.2" r="8"/><circle cx="2063.4" cy="882.0" r="8"/><circle cx="2081.7" cy="815.3" r="8"/><circle cx="2061.2" cy="838.7" r="8"/><circle cx="2070.2" cy="845.8" r="8"/><circle cx="2086.9" cy="843.7" r="8"/><circle cx="2054.4" cy="738.8" r="8"/><circle cx="2059.4" cy="883.7" r="8"/><circle cx="2068.6" cy="859.3" r="8"/><circle cx="2088.1" cy="839.8" r="8"/><circle cx="2079.4" cy="819.1" r="8"/><circle cx="2076.8" cy="862.3" r="8"/><circle cx="2062.9" cy="715.4" r="8"/><circle cx="2069.0" cy="780.2" r="8"/><circle cx="2067.2" cy="855.3" r="8"/><circle cx="2082.0" cy="892.8" r="8"/><circle cx="2083.0" cy="785.7" r="8"/><circle cx="2080.0" cy="852.8" r="8"/><circle cx="2084.2" cy="774.0" r="8"/><circle cx="2096.4" cy="850.4" r="8"/><circle cx="2083.6" cy="819.3" r="8"/><circle cx="2074.3" cy="851.2" r="8"/><circle cx="2059.9" cy="773.0" r="8"/><circle cx="2088.6" cy="891.3" r="8"/><circle cx="2072.4" cy="883.8" r="8"/><circle cx="2084.0" cy="797.7" r="8"/><circle cx="2056.6" cy="756.9" r="8"/><circle cx="2081.3" cy="877.8" r="8"/><circle cx="2086.6" cy="857.0" r="8"/><circle cx="2072.0" cy="765.8" r="8"/><circle cx="2076.5" cy="820.7" r="8"/><circle cx="2083.3" cy="814.8" r="8"/><circle cx="2071.2" cy="845.9" r="8"/><circle cx="2081.1" cy="876.1" r="8"/><circle cx="2079.7" cy="913.6" r="8"/><circle cx="2072.3" cy="716.4" r="8"/><circle cx="2094.8" cy="882.4" r="8"/><circle cx="2082.2" cy="838.4" r="8"/><circle cx="2076.5" cy="796.3" r="8"/><circle cx="2072.0" cy="756.8" r="8"/><circle cx="2094.3" cy="821.3" r="8"/><circle cx="2077.8" cy="781.8" r="8"/><circle cx="2085.9" cy="758.2" r="8"/><circle cx="2081.1" cy="820.0" r="8"/><circle cx="2069.9" cy="846.5" r="8"/><circle cx="2069.0" cy="903.8" r="8"/><circle cx="2082.7" cy="853.6" r="8"/><circle cx="2084.1" cy="768.2" r="8"/><circle cx="2056.3" cy="700.9" r="8"/><circle cx="2076.8" cy="768.3" r="8"/><circle cx="2067.7" cy="789.1" r="8"/><circle cx="2089.6" cy="831.2" r="8"/><circle cx="2079.3" cy="844.4" r="8"/><circle cx="2071.4" cy="868.4" r="8"/><circle cx="2099.5" cy="889.4" r="8"/><circle cx="2090.6" cy="858.5" r="8"/><circle cx="2061.5" cy="755.1" r="8"/><circle cx="2085.3" cy="890.3" r="8"/><circle cx="2060.0" cy="808.5" r="8"/><circle cx="2072.7" cy="869.1" r="8"/><circle cx="2069.5" cy="899.3" r="8"/><circle cx="2077.7" cy="774.5" r="8"/><circle cx="2085.1" cy="858.4" r="8"/><circle cx="2068.0" cy="857.8" r="8"/><circle cx="2095.3" cy="776.5" r="8"/><circle cx="2068.1" cy="911.3" r="8"/><circle cx="2080.3" cy="833.6" r="8"/><circle cx="2074.0" cy="890.3" r="8"/><circle cx="2078.8" cy="879.1" r="8"/><circle cx="2080.5" cy="819.1" r="8"/><circle cx="2079.6" cy="835.5" r="8"/><circle cx="2060.8" cy="714.6" r="8"/><circle cx="2095.4" cy="871.1" r="8"/><circle cx="2080.6" cy="766.7" r="8"/><circle cx="2077.5" cy="801.1" r="8"/><circle cx="2069.1" cy="760.4" r="8"/><circle cx="2075.3" cy="830.7" r="8"/><circle cx="2062.5" cy="854.2" r="8"/><circle cx="2060.3" cy="899.7" r="8"/><circle cx="2073.7" cy="740.9" r="8"/><circle cx="2067.6" cy="778.3" r="8"/><circle cx="2078.6" cy="859.3" r="8"/><circle cx="2062.0" cy="847.7" r="8"/><circle cx="2076.0" cy="836.9" r="8"/><circle cx="2063.3" cy="796.8" r="8"/><circle cx="2093.3" cy="888.1" r="8"/><circle cx="2088.8" cy="775.3" r="8"/><circle cx="2059.1" cy="831.8" r="8"/><circle cx="2082.0" cy="838.7" r="8"/><circle cx="2088.6" cy="828.7" r="8"/><circle cx="2102.2" cy="843.2" r="8"/><circle cx="2082.2" cy="830.6" r="8"/><circle cx="2080.7" cy="812.6" r="8"/><circle cx="2066.9" cy="826.9" r="8"/><circle cx="2089.8" cy="854.4" r="8"/><circle cx="2081.6" cy="814.7" r="8"/><circle cx="2088.8" cy="903.2" r="8"/><circle cx="2074.4" cy="824.1" r="8"/><circle cx="2058.4" cy="754.2" r="8"/><circle cx="2088.2" cy="888.1" r="8"/><circle cx="2075.3" cy="824.7" r="8"/><circle cx="2084.3" cy="844.9" r="8"/><circle cx="2092.6" cy="894.0" r="8"/><circle cx="2082.3" cy="710.9" r="8"/><circle cx="2076.5" cy="772.0" r="8"/><circle cx="2089.8" cy="798.8" r="8"/><circle cx="2073.5" cy="804.8" r="8"/><circle cx="2076.9" cy="859.6" r="8"/><circle cx="2066.6" cy="752.9" r="8"/><circle cx="2074.2" cy="772.8" r="8"/><circle cx="2070.2" cy="832.7" r="8"/><circle cx="2080.5" cy="814.7" r="8"/><circle cx="2081.5" cy="832.5" r="8"/><circle cx="2084.2" cy="846.7" r="8"/><circle cx="2061.9" cy="847.6" r="8"/><circle cx="2075.7" cy="844.0" r="8"/><circle cx="2082.6" cy="879.3" r="8"/><circle cx="2095.2" cy="871.3" r="8"/><circle cx="2078.4" cy="888.6" r="8"/><circle cx="2089.0" cy="893.4" r="8"/><circle cx="2093.7" cy="777.6" r="8"/><circle cx="2073.4" cy="756.2" r="8"/><circle cx="2074.2" cy="782.2" r="8"/><circle cx="2066.1" cy="744.7" r="8"/><circle cx="2066.8" cy="874.9" r="8"/><circle cx="2081.0" cy="753.9" r="8"/><circle cx="2076.4" cy="812.9" r="8"/><circle cx="2073.1" cy="773.6" r="8"/><circle cx="2099.5" cy="853.3" r="8"/><circle cx="2060.8" cy="750.7" r="8"/><circle cx="2078.6" cy="829.1" r="8"/><circle cx="2068.9" cy="853.7" r="8"/><circle cx="2078.4" cy="770.7" r="8"/><circle cx="2073.3" cy="719.8" r="8"/><circle cx="2066.8" cy="835.7" r="8"/><circle cx="2072.8" cy="759.8" r="8"/><circle cx="2079.4" cy="769.6" r="8"/><circle cx="2099.9" cy="918.6" r="8"/><circle cx="2084.6" cy="894.4" r="8"/><circle cx="2084.2" cy="901.5" r="8"/><circle cx="2078.3" cy="822.4" r="8"/><circle cx="2069.7" cy="823.2" r="8"/><circle cx="2067.1" cy="830.5" r="8"/><circle cx="2075.6" cy="703.3" r="8"/><circle cx="2082.8" cy="855.7" r="8"/><circle cx="2072.8" cy="821.2" r="8"/><circle cx="2075.0" cy="860.8" r="8"/><circle cx="2077.5" cy="764.7" r="8"/><circle cx="2097.0" cy="830.1" r="8"/><circle cx="2071.0" cy="762.1" r="8"/><circle cx="2076.7" cy="752.8" r="8"/><circle cx="2060.5" cy="724.0" r="8"/><circle cx="2051.3" cy="742.7" r="8"/><circle cx="2068.7" cy="762.4" r="8"/><circle cx="2080.8" cy="709.9" r="8"/><circle cx="2062.2" cy="759.8" r="8"/><circle cx="2054.9" cy="763.4" r="8"/><circle cx="2079.1" cy="769.6" r="8"/><circle cx="2070.8" cy="751.9" r="8"/><circle cx="2055.5" cy="724.1" r="8"/><circle cx="2076.1" cy="754.5" r="8"/><circle cx="2072.5" cy="730.2" r="8"/><circle cx="2062.1" cy="686.2" r="8"/><circle cx="2078.5" cy="745.1" r="8"/><circle cx="2080.7" cy="707.4" r="8"/><circle cx="2065.2" cy="717.6" r="8"/><circle cx="2060.2" cy="748.5" r="8"/><circle cx="2065.1" cy="722.5" r="8"/><circle cx="2061.4" cy="781.2" r="8"/><circle cx="2059.4" cy="758.3" r="8"/><circle cx="2080.5" cy="779.3" r="8"/><circle cx="2070.9" cy="756.1" r="8"/><circle cx="2067.2" cy="709.8" r="8"/><circle cx="2070.9" cy="703.9" r="8"/><circle cx="2074.4" cy="721.2" r="8"/><circle cx="2072.9" cy="772.1" r="8"/><circle cx="2051.3" cy="738.0" r="8"/><circle cx="2006.0" cy="775.3" r="8"/><circle cx="1995.7" cy="853.8" r="8"/><circle cx="1993.6" cy="684.8" r="8"/><circle cx="2007.4" cy="780.7" r="8"/><circle cx="2004.2" cy="841.9" r="8"/><circle cx="2001.3" cy="700.2" r="8"/><circle cx="2008.3" cy="762.0" r="8"/><circle cx="2026.8" cy="783.2" r="8"/><circle cx="2015.7" cy="748.2" r="8"/><circle cx="1999.6" cy="767.7" r="8"/><circle cx="2001.8" cy="723.4" r="8"/><circle cx="1999.8" cy="791.3" r="8"/><circle cx="2004.2" cy="802.6" r="8"/><circle cx="2014.5" cy="725.3" r="8"/><circle cx="2007.9" cy="678.7" r="8"/><circle cx="2007.5" cy="699.6" r="8"/><circle cx="1997.5" cy="835.9" r="8"/><circle cx="2026.8" cy="808.5" r="8"/><circle cx="2057.1" cy="916.8" r="8"/><circle cx="2062.4" cy="923.4" r="8"/><circle cx="2070.6" cy="925.0" r="8"/><circle cx="2077.5" cy="928.3" r="8"/><circle cx="2084.9" cy="931.6" r="8"/><circle cx="2093.8" cy="928.3" r="8"/><circle cx="2100.4" cy="926.7" r="8"/></g>
<circle cx="2144.9" cy="841.7" r="8" fill="#ff0000"/>
<line x1="1952.7" y1="384.0" x2="2782.0" y2="384.0" stroke="#000" stroke-width="2.2" stroke-dasharray="8.9 8.9"/>
<line x1="1952.7" y1="755.0" x2="2782.0" y2="755.0" stroke="#000" stroke-width="2.2" stroke-dasharray="8.9 8.9"/>
</g>
<path d="M1952.7,978.4 V162.2 H2783.0" fill="none" stroke="#7d7d7d" stroke-width="2"/>
<path d="M1951.7,977.4 H2782.0 V161.2" fill="none" stroke="#333" stroke-width="2.2"/>
<line x1="1946.2" y1="198.5" x2="1952.7" y2="198.5" stroke="#333" stroke-width="2.1" />
<text transform="translate(1941.9,213.7) scale(1,1.05)" font-size="41.85" text-anchor="end">4</text>
<line x1="1946.2" y1="384.0" x2="1952.7" y2="384.0" stroke="#333" stroke-width="2.1" />
<text transform="translate(1941.9,399.2) scale(1,1.05)" font-size="41.85" text-anchor="end">2</text>
<line x1="1946.2" y1="569.5" x2="1952.7" y2="569.5" stroke="#333" stroke-width="2.1" />
<text transform="translate(1941.9,584.7) scale(1,1.05)" font-size="41.85" text-anchor="end">0</text>
<line x1="1946.2" y1="755.0" x2="1952.7" y2="755.0" stroke="#333" stroke-width="2.1" />
<text transform="translate(1941.9,770.2) scale(1,1.05)" font-size="41.85" text-anchor="end">-2</text>
<line x1="1946.2" y1="940.5" x2="1952.7" y2="940.5" stroke="#333" stroke-width="2.1" />
<text transform="translate(1941.9,955.7) scale(1,1.05)" font-size="41.85" text-anchor="end">-4</text>
<line x1="2053.6" y1="977.4" x2="2053.6" y2="983.9" stroke="#333" stroke-width="2.1" />
<text transform="translate(2053.9,1018.7) scale(1,1.05)" font-size="41.85" text-anchor="middle">4</text>
<line x1="2292.4" y1="977.4" x2="2292.4" y2="983.9" stroke="#333" stroke-width="2.1" />
<text transform="translate(2292.7,1018.7) scale(1,1.05)" font-size="41.85" text-anchor="middle">8</text>
<line x1="2531.2" y1="977.4" x2="2531.2" y2="983.9" stroke="#333" stroke-width="2.1" />
<text transform="translate(2531.5,1018.7) scale(1,1.05)" font-size="41.85" text-anchor="middle">12</text>
<line x1="2770.0" y1="977.4" x2="2770.0" y2="983.9" stroke="#333" stroke-width="2.1" />
<text transform="translate(2770.3,1018.7) scale(1,1.05)" font-size="41.85" text-anchor="middle">16</text>
<text transform="translate(1845.5,569.5) rotate(-90)" font-size="41.85" text-anchor="middle">&#916; CO (In situ - Flask) [ppb]</text>
<text x="2367.0" y="1056.3" font-size="41.85" text-anchor="middle" fill="#000" >in situ CO standard deviation [ppb]</text>
<text x="2367.0" y="1168.1" font-size="36.12" text-anchor="middle" fill="#000" xml:space="preserve">Statistics on all &#916;CO</text>
<text x="2367.0" y="1219.2" font-size="36.12" text-anchor="middle" fill="#000" xml:space="preserve">Mean =  -2.289 ppb</text>
<text x="2367.0" y="1270.4" font-size="36.12" text-anchor="middle" fill="#000" xml:space="preserve">Std =  1.848 ppb</text>
<text x="2367.0" y="1321.5" font-size="36.12" text-anchor="middle" fill="#000" xml:space="preserve">Median =  -2.267 ppb</text>
<text x="2367.0" y="1372.7" font-size="36.12" text-anchor="middle" fill="#000" xml:space="preserve">RMSE =  2.940 ppb</text>
<text x="2367.0" y="1423.8" font-size="36.12" text-anchor="middle" fill="#000" xml:space="preserve">Min =  -11.918 ppb Max =  15.612 ppb</text>
<text x="2367.0" y="1475.0" font-size="36.12" text-anchor="middle" fill="#000" xml:space="preserve">Numbers of outliers =  32</text>
<text x="2367.0" y="1526.1" font-size="36.12" text-anchor="middle" fill="#000" xml:space="preserve">Numbers of invalid flasks =  3</text>
<text x="2367.0" y="1577.3" font-size="36.12" text-anchor="middle" fill="#000" xml:space="preserve">Number of points =  359</text>
<text x="2367.0" y="1679.6" font-size="36.12" text-anchor="middle" fill="#000" xml:space="preserve">Statistics on &#916;CO where in situ std &lt; 5 ppb</text>
<text x="2367.0" y="1730.8" font-size="36.12" text-anchor="middle" fill="#000" xml:space="preserve">&amp; insitu&gt;=50min</text>
<text x="2367.0" y="1781.9" font-size="36.12" text-anchor="middle" fill="#000" xml:space="preserve">Mean =  -2.000 ppb</text>
<text x="2367.0" y="1833.0" font-size="36.12" text-anchor="middle" fill="#000" xml:space="preserve">Std =  0.673 ppb</text>
<text x="2367.0" y="1884.2" font-size="36.12" text-anchor="middle" fill="#000" xml:space="preserve">Median =  -1.940 ppb</text>
<text x="2367.0" y="1935.3" font-size="36.12" text-anchor="middle" fill="#000" xml:space="preserve">RMSE =  2.103 ppb</text>
<text x="2367.0" y="1986.5" font-size="36.12" text-anchor="middle" fill="#000" xml:space="preserve">Min =  -3.699 ppb Max =  -1.219 ppb</text>
<text x="2367.0" y="2037.6" font-size="36.12" text-anchor="middle" fill="#000" xml:space="preserve">Numbers of outliers =  0</text>
<text x="2367.0" y="2088.8" font-size="36.12" text-anchor="middle" fill="#000" xml:space="preserve">Number of points =  15</text>
<text x="2367.0" y="2292.2" font-size="36.12" text-anchor="middle" fill="#000" xml:space="preserve">Statistics on short term target bias</text>
<text x="2367.0" y="2343.3" font-size="36.12" text-anchor="middle" fill="#000" xml:space="preserve">Mean =  0.514 ppb</text>
<text x="2367.0" y="2394.5" font-size="36.12" text-anchor="middle" fill="#000" xml:space="preserve">Std =  3.626 ppb</text>
<text x="2367.0" y="2445.6" font-size="36.12" text-anchor="middle" fill="#000" xml:space="preserve">Median =  0.028 ppb</text>
<text x="2367.0" y="2496.8" font-size="36.12" text-anchor="middle" fill="#000" xml:space="preserve">RMSE =  3.661 ppb</text>
<text x="2367.0" y="2547.9" font-size="36.12" text-anchor="middle" fill="#000" xml:space="preserve">Number of points =  1790</text>
<text x="2367.0" y="2650.2" font-size="36.12" text-anchor="middle" fill="#000" xml:space="preserve">Statistics on long term target bias</text>
<text x="2367.0" y="2701.4" font-size="36.12" text-anchor="middle" fill="#000" xml:space="preserve">Mean =  -1.843 ppb</text>
<text x="2367.0" y="2752.5" font-size="36.12" text-anchor="middle" fill="#000" xml:space="preserve">Std =  10.075 ppb</text>
<text x="2367.0" y="2803.7" font-size="36.12" text-anchor="middle" fill="#000" xml:space="preserve">Median =  -0.507 ppb</text>
<text x="2367.0" y="2854.8" font-size="36.12" text-anchor="middle" fill="#000" xml:space="preserve">RMSE =  10.239 ppb</text>
<text x="2367.0" y="2906.0" font-size="36.12" text-anchor="middle" fill="#000" xml:space="preserve">Number of points =  1790</text>
</svg>
</body></html>
